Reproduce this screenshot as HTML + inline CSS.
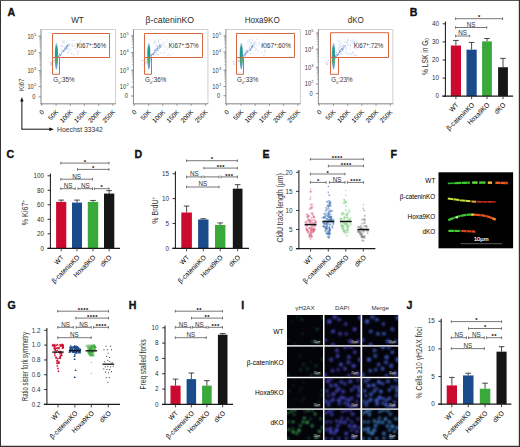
<!DOCTYPE html>
<html><head><meta charset="utf-8"><title>Figure</title>
<style>html,body{margin:0;padding:0;background:#fff;width:520px;height:447px;overflow:hidden}
svg{display:block;font-family:"Liberation Sans", sans-serif}</style></head>
<body>
<svg width="520" height="447" viewBox="0 0 520 447" font-family='"Liberation Sans", sans-serif'>
<defs><filter id="bl" x="-50%" y="-50%" width="200%" height="200%"><feGaussianBlur stdDeviation="0.6"/></filter><filter id="bl2" x="-50%" y="-50%" width="200%" height="200%"><feGaussianBlur stdDeviation="0.9"/></filter><filter id="bl3" x="-20%" y="-20%" width="140%" height="140%"><feGaussianBlur stdDeviation="0.35"/></filter><filter id="blf" x="-10%" y="-50%" width="120%" height="200%"><feGaussianBlur stdDeviation="0.6"/></filter><filter id="bli" x="-10%" y="-10%" width="120%" height="120%"><feGaussianBlur stdDeviation="0.8"/></filter></defs>
<rect x="0" y="0" width="520" height="447" fill="#fff"/>
<text x="7.6" y="15.6" font-size="10.6" font-weight="bold" fill="#111" stroke="#111" stroke-width="0.35">A</text>
<text x="77.5" y="23" font-size="8.2" text-anchor="middle" fill="#2a2a2a" textLength="12.5" lengthAdjust="spacingAndGlyphs">WT</text>
<line x1="41" y1="29.5" x2="115.5" y2="29.5" stroke="#c4c4c4" stroke-width="0.8"/>
<line x1="115.5" y1="29.5" x2="115.5" y2="103.8" stroke="#c4c4c4" stroke-width="0.8"/>
<line x1="41" y1="29.1" x2="41" y2="104.3" stroke="#8a8a8a" stroke-width="1"/>
<line x1="40.5" y1="103.8" x2="115.9" y2="103.8" stroke="#8a8a8a" stroke-width="1"/>
<line x1="39.4" y1="47.7" x2="41" y2="47.7" stroke="#8a8a8a" stroke-width="0.6"/>
<line x1="39.4" y1="44.78" x2="41" y2="44.78" stroke="#8a8a8a" stroke-width="0.6"/>
<line x1="39.4" y1="42.71" x2="41" y2="42.71" stroke="#8a8a8a" stroke-width="0.6"/>
<line x1="39.4" y1="41.1" x2="41" y2="41.1" stroke="#8a8a8a" stroke-width="0.6"/>
<line x1="39.4" y1="39.78" x2="41" y2="39.78" stroke="#8a8a8a" stroke-width="0.6"/>
<line x1="39.4" y1="38.67" x2="41" y2="38.67" stroke="#8a8a8a" stroke-width="0.6"/>
<line x1="39.4" y1="37.71" x2="41" y2="37.71" stroke="#8a8a8a" stroke-width="0.6"/>
<line x1="39.4" y1="36.86" x2="41" y2="36.86" stroke="#8a8a8a" stroke-width="0.6"/>
<line x1="39.4" y1="65.21" x2="41" y2="65.21" stroke="#8a8a8a" stroke-width="0.6"/>
<line x1="39.4" y1="62.06" x2="41" y2="62.06" stroke="#8a8a8a" stroke-width="0.6"/>
<line x1="39.4" y1="59.82" x2="41" y2="59.82" stroke="#8a8a8a" stroke-width="0.6"/>
<line x1="39.4" y1="58.09" x2="41" y2="58.09" stroke="#8a8a8a" stroke-width="0.6"/>
<line x1="39.4" y1="56.67" x2="41" y2="56.67" stroke="#8a8a8a" stroke-width="0.6"/>
<line x1="39.4" y1="55.47" x2="41" y2="55.47" stroke="#8a8a8a" stroke-width="0.6"/>
<line x1="39.4" y1="54.43" x2="41" y2="54.43" stroke="#8a8a8a" stroke-width="0.6"/>
<line x1="39.4" y1="53.52" x2="41" y2="53.52" stroke="#8a8a8a" stroke-width="0.6"/>
<line x1="39.4" y1="81.85" x2="41" y2="81.85" stroke="#8a8a8a" stroke-width="0.6"/>
<line x1="39.4" y1="79.02" x2="41" y2="79.02" stroke="#8a8a8a" stroke-width="0.6"/>
<line x1="39.4" y1="77.01" x2="41" y2="77.01" stroke="#8a8a8a" stroke-width="0.6"/>
<line x1="39.4" y1="75.45" x2="41" y2="75.45" stroke="#8a8a8a" stroke-width="0.6"/>
<line x1="39.4" y1="74.17" x2="41" y2="74.17" stroke="#8a8a8a" stroke-width="0.6"/>
<line x1="39.4" y1="73.09" x2="41" y2="73.09" stroke="#8a8a8a" stroke-width="0.6"/>
<line x1="39.4" y1="72.16" x2="41" y2="72.16" stroke="#8a8a8a" stroke-width="0.6"/>
<line x1="39.4" y1="71.34" x2="41" y2="71.34" stroke="#8a8a8a" stroke-width="0.6"/>
<line x1="38.6" y1="36.1" x2="41" y2="36.1" stroke="#777" stroke-width="0.8"/>
<text x="33.7" y="38.5" font-size="6.6" text-anchor="end" fill="#333" textLength="6.3" lengthAdjust="spacingAndGlyphs">10</text>
<text x="34" y="35.5" font-size="3.9" fill="#333">5</text>
<line x1="38.6" y1="52.7" x2="41" y2="52.7" stroke="#777" stroke-width="0.8"/>
<text x="33.7" y="55.1" font-size="6.6" text-anchor="end" fill="#333" textLength="6.3" lengthAdjust="spacingAndGlyphs">10</text>
<text x="34" y="52.1" font-size="3.9" fill="#333">4</text>
<line x1="38.6" y1="70.6" x2="41" y2="70.6" stroke="#777" stroke-width="0.8"/>
<text x="33.7" y="73" font-size="6.6" text-anchor="end" fill="#333" textLength="6.3" lengthAdjust="spacingAndGlyphs">10</text>
<text x="34" y="70" font-size="3.9" fill="#333">3</text>
<line x1="38.6" y1="86.7" x2="41" y2="86.7" stroke="#777" stroke-width="0.8"/>
<text x="33.7" y="89.1" font-size="6.6" text-anchor="end" fill="#333" textLength="6.3" lengthAdjust="spacingAndGlyphs">10</text>
<text x="34" y="86.1" font-size="3.9" fill="#333">2</text>
<line x1="38.6" y1="96.9" x2="41" y2="96.9" stroke="#777" stroke-width="0.8"/>
<text x="35.4" y="99.3" font-size="6.6" text-anchor="end" fill="#333" textLength="3.2" lengthAdjust="spacingAndGlyphs">0</text>
<line x1="41.9" y1="103.8" x2="41.9" y2="105.8" stroke="#777" stroke-width="0.8"/>
<line x1="44.74" y1="103.8" x2="44.74" y2="104.8" stroke="#aaa" stroke-width="0.5"/>
<line x1="47.58" y1="103.8" x2="47.58" y2="104.8" stroke="#aaa" stroke-width="0.5"/>
<line x1="50.42" y1="103.8" x2="50.42" y2="104.8" stroke="#aaa" stroke-width="0.5"/>
<line x1="53.26" y1="103.8" x2="53.26" y2="104.8" stroke="#aaa" stroke-width="0.5"/>
<text x="44.6" y="112.6" font-size="6.4" text-anchor="end" transform="rotate(-45 44.6 112.6)">0</text>
<line x1="56.1" y1="103.8" x2="56.1" y2="105.8" stroke="#777" stroke-width="0.8"/>
<line x1="58.94" y1="103.8" x2="58.94" y2="104.8" stroke="#aaa" stroke-width="0.5"/>
<line x1="61.78" y1="103.8" x2="61.78" y2="104.8" stroke="#aaa" stroke-width="0.5"/>
<line x1="64.62" y1="103.8" x2="64.62" y2="104.8" stroke="#aaa" stroke-width="0.5"/>
<line x1="67.46" y1="103.8" x2="67.46" y2="104.8" stroke="#aaa" stroke-width="0.5"/>
<text x="58.8" y="112.6" font-size="6.4" text-anchor="end" transform="rotate(-45 58.8 112.6)">50K</text>
<line x1="70.3" y1="103.8" x2="70.3" y2="105.8" stroke="#777" stroke-width="0.8"/>
<line x1="73.14" y1="103.8" x2="73.14" y2="104.8" stroke="#aaa" stroke-width="0.5"/>
<line x1="75.98" y1="103.8" x2="75.98" y2="104.8" stroke="#aaa" stroke-width="0.5"/>
<line x1="78.82" y1="103.8" x2="78.82" y2="104.8" stroke="#aaa" stroke-width="0.5"/>
<line x1="81.66" y1="103.8" x2="81.66" y2="104.8" stroke="#aaa" stroke-width="0.5"/>
<text x="73" y="112.6" font-size="6.4" text-anchor="end" transform="rotate(-45 73 112.6)">100K</text>
<line x1="84.5" y1="103.8" x2="84.5" y2="105.8" stroke="#777" stroke-width="0.8"/>
<line x1="87.34" y1="103.8" x2="87.34" y2="104.8" stroke="#aaa" stroke-width="0.5"/>
<line x1="90.18" y1="103.8" x2="90.18" y2="104.8" stroke="#aaa" stroke-width="0.5"/>
<line x1="93.02" y1="103.8" x2="93.02" y2="104.8" stroke="#aaa" stroke-width="0.5"/>
<line x1="95.86" y1="103.8" x2="95.86" y2="104.8" stroke="#aaa" stroke-width="0.5"/>
<text x="87.2" y="112.6" font-size="6.4" text-anchor="end" transform="rotate(-45 87.2 112.6)">150K</text>
<line x1="98.7" y1="103.8" x2="98.7" y2="105.8" stroke="#777" stroke-width="0.8"/>
<line x1="101.54" y1="103.8" x2="101.54" y2="104.8" stroke="#aaa" stroke-width="0.5"/>
<line x1="104.38" y1="103.8" x2="104.38" y2="104.8" stroke="#aaa" stroke-width="0.5"/>
<line x1="107.22" y1="103.8" x2="107.22" y2="104.8" stroke="#aaa" stroke-width="0.5"/>
<line x1="110.06" y1="103.8" x2="110.06" y2="104.8" stroke="#aaa" stroke-width="0.5"/>
<text x="101.4" y="112.6" font-size="6.4" text-anchor="end" transform="rotate(-45 101.4 112.6)">200K</text>
<line x1="112.9" y1="103.8" x2="112.9" y2="105.8" stroke="#777" stroke-width="0.8"/>
<text x="115.6" y="112.6" font-size="6.4" text-anchor="end" transform="rotate(-45 115.6 112.6)">250K</text>
<rect x="66.88" y="40.94" width="0.9" height="0.9" fill="#a9bfe6" opacity="0.6"/><rect x="73.42" y="40.01" width="0.9" height="0.9" fill="#a9bfe6" opacity="0.6"/><rect x="71.12" y="44.59" width="0.9" height="0.9" fill="#a9bfe6" opacity="0.6"/><rect x="61.56" y="46.38" width="0.9" height="0.9" fill="#a9bfe6" opacity="0.6"/><rect x="61.15" y="45.18" width="0.9" height="0.9" fill="#a9bfe6" opacity="0.6"/><rect x="61.8" y="39.72" width="0.9" height="0.9" fill="#a9bfe6" opacity="0.6"/><rect x="68.89" y="51.85" width="0.9" height="0.9" fill="#a9bfe6" opacity="0.6"/><rect x="62.88" y="41.9" width="0.9" height="0.9" fill="#a9bfe6" opacity="0.6"/><rect x="72.95" y="53.99" width="0.9" height="0.9" fill="#a9bfe6" opacity="0.6"/><rect x="71.94" y="45.12" width="0.9" height="0.9" fill="#a9bfe6" opacity="0.6"/><rect x="79.93" y="39.92" width="0.9" height="0.9" fill="#a9bfe6" opacity="0.6"/><rect x="77.57" y="43.69" width="0.9" height="0.9" fill="#a9bfe6" opacity="0.6"/><rect x="63.29" y="40.23" width="0.9" height="0.9" fill="#a9bfe6" opacity="0.6"/><rect x="66.57" y="51.57" width="0.9" height="0.9" fill="#a9bfe6" opacity="0.6"/><rect x="64.01" y="47.69" width="0.9" height="0.9" fill="#a9bfe6" opacity="0.6"/><rect x="73.18" y="44.8" width="0.9" height="0.9" fill="#a9bfe6" opacity="0.6"/><rect x="71.35" y="39.75" width="0.9" height="0.9" fill="#a9bfe6" opacity="0.6"/><rect x="61.59" y="41.55" width="0.9" height="0.9" fill="#a9bfe6" opacity="0.6"/><rect x="74.01" y="45.72" width="0.9" height="0.9" fill="#a9bfe6" opacity="0.6"/><rect x="66.68" y="47.88" width="0.9" height="0.9" fill="#a9bfe6" opacity="0.6"/><rect x="69.46" y="43.45" width="0.9" height="0.9" fill="#a9bfe6" opacity="0.6"/><rect x="76.29" y="50.18" width="0.9" height="0.9" fill="#a9bfe6" opacity="0.6"/><rect x="65.28" y="47.63" width="0.9" height="0.9" fill="#a9bfe6" opacity="0.6"/><rect x="70.9" y="52.73" width="0.9" height="0.9" fill="#a9bfe6" opacity="0.6"/><rect x="74.99" y="43.54" width="0.9" height="0.9" fill="#a9bfe6" opacity="0.6"/><rect x="80" y="41.07" width="0.9" height="0.9" fill="#a9bfe6" opacity="0.6"/><rect x="68.76" y="50.73" width="0.9" height="0.9" fill="#a9bfe6" opacity="0.6"/><rect x="63.44" y="46.18" width="0.9" height="0.9" fill="#a9bfe6" opacity="0.6"/><rect x="61.18" y="48.93" width="0.9" height="0.9" fill="#a9bfe6" opacity="0.6"/><rect x="75.69" y="48.13" width="0.9" height="0.9" fill="#a9bfe6" opacity="0.6"/><rect x="77.91" y="44.1" width="0.9" height="0.9" fill="#a9bfe6" opacity="0.6"/><rect x="74.31" y="48.41" width="0.9" height="0.9" fill="#a9bfe6" opacity="0.6"/><rect x="72" y="46.08" width="0.9" height="0.9" fill="#a9bfe6" opacity="0.6"/><rect x="77.2" y="54.15" width="0.9" height="0.9" fill="#a9bfe6" opacity="0.6"/><rect x="69.88" y="49.3" width="0.9" height="0.9" fill="#a9bfe6" opacity="0.6"/><rect x="61.61" y="49.48" width="0.9" height="0.9" fill="#a9bfe6" opacity="0.6"/><rect x="73.34" y="54.74" width="0.9" height="0.9" fill="#a9bfe6" opacity="0.6"/><rect x="76.84" y="43.58" width="0.9" height="0.9" fill="#a9bfe6" opacity="0.6"/><rect x="68.12" y="49.28" width="0.9" height="0.9" fill="#a9bfe6" opacity="0.6"/><rect x="60.85" y="45.61" width="0.9" height="0.9" fill="#a9bfe6" opacity="0.6"/><rect x="63.76" y="40.24" width="0.9" height="0.9" fill="#a9bfe6" opacity="0.6"/><rect x="61.58" y="50.55" width="0.9" height="0.9" fill="#a9bfe6" opacity="0.6"/><rect x="62.99" y="42.29" width="0.9" height="0.9" fill="#a9bfe6" opacity="0.6"/><rect x="68.22" y="52.53" width="0.9" height="0.9" fill="#a9bfe6" opacity="0.6"/><rect x="62.01" y="45.47" width="0.9" height="0.9" fill="#a9bfe6" opacity="0.6"/><rect x="71.39" y="52.88" width="0.9" height="0.9" fill="#a9bfe6" opacity="0.6"/><rect x="76.79" y="52.84" width="0.9" height="0.9" fill="#a9bfe6" opacity="0.6"/><rect x="65.97" y="45.12" width="0.9" height="0.9" fill="#a9bfe6" opacity="0.6"/><rect x="67.58" y="52.71" width="0.9" height="0.9" fill="#a9bfe6" opacity="0.6"/><rect x="79.55" y="41.57" width="0.9" height="0.9" fill="#a9bfe6" opacity="0.6"/><rect x="63.92" y="42.09" width="0.9" height="0.9" fill="#a9bfe6" opacity="0.6"/><rect x="65.07" y="46.19" width="0.9" height="0.9" fill="#a9bfe6" opacity="0.6"/><rect x="72.18" y="42.99" width="0.9" height="0.9" fill="#a9bfe6" opacity="0.6"/><rect x="60.48" y="44.91" width="0.9" height="0.9" fill="#a9bfe6" opacity="0.6"/><rect x="67.79" y="47.63" width="0.9" height="0.9" fill="#a9bfe6" opacity="0.6"/><rect x="79.46" y="50.2" width="0.9" height="0.9" fill="#a9bfe6" opacity="0.6"/><rect x="70.71" y="48.6" width="0.9" height="0.9" fill="#a9bfe6" opacity="0.6"/><rect x="73.92" y="39.74" width="0.9" height="0.9" fill="#a9bfe6" opacity="0.6"/><rect x="78.39" y="51.58" width="0.9" height="0.9" fill="#a9bfe6" opacity="0.6"/><rect x="77.89" y="51.84" width="0.9" height="0.9" fill="#a9bfe6" opacity="0.6"/><rect x="60.99" y="52.51" width="0.9" height="0.9" fill="#6d8fd2" opacity="0.7"/><rect x="64.08" y="49.5" width="0.9" height="0.9" fill="#6d8fd2" opacity="0.7"/><rect x="59.48" y="55.12" width="0.9" height="0.9" fill="#6d8fd2" opacity="0.7"/><rect x="57.82" y="56.37" width="0.9" height="0.9" fill="#6d8fd2" opacity="0.7"/><rect x="57.93" y="55.92" width="0.9" height="0.9" fill="#6d8fd2" opacity="0.7"/><rect x="66.26" y="46.21" width="0.9" height="0.9" fill="#6d8fd2" opacity="0.7"/><rect x="59.35" y="54.6" width="0.9" height="0.9" fill="#6d8fd2" opacity="0.7"/><rect x="59.35" y="53.47" width="0.9" height="0.9" fill="#6d8fd2" opacity="0.7"/><rect x="61.77" y="51.44" width="0.9" height="0.9" fill="#6d8fd2" opacity="0.7"/><rect x="57.77" y="56.3" width="0.9" height="0.9" fill="#6d8fd2" opacity="0.7"/><rect x="66.09" y="47.2" width="0.9" height="0.9" fill="#6d8fd2" opacity="0.7"/><rect x="67.03" y="45.51" width="0.9" height="0.9" fill="#6d8fd2" opacity="0.7"/><rect x="63.6" y="50.65" width="0.9" height="0.9" fill="#6d8fd2" opacity="0.7"/><rect x="68.27" y="44.32" width="0.9" height="0.9" fill="#6d8fd2" opacity="0.7"/><rect x="59.53" y="54.23" width="0.9" height="0.9" fill="#6d8fd2" opacity="0.7"/><rect x="64.37" y="47.45" width="0.9" height="0.9" fill="#6d8fd2" opacity="0.7"/><rect x="60.71" y="54.48" width="0.9" height="0.9" fill="#6d8fd2" opacity="0.7"/><rect x="68.39" y="44.02" width="0.9" height="0.9" fill="#6d8fd2" opacity="0.7"/><rect x="65.87" y="46.61" width="0.9" height="0.9" fill="#6d8fd2" opacity="0.7"/><rect x="62.5" y="50.94" width="0.9" height="0.9" fill="#6d8fd2" opacity="0.7"/><rect x="57.12" y="57.27" width="0.9" height="0.9" fill="#6d8fd2" opacity="0.7"/><rect x="65.15" y="48.45" width="0.9" height="0.9" fill="#6d8fd2" opacity="0.7"/><rect x="68.7" y="45.61" width="0.9" height="0.9" fill="#6d8fd2" opacity="0.7"/><rect x="60.99" y="53.19" width="0.9" height="0.9" fill="#6d8fd2" opacity="0.7"/><rect x="59.3" y="55.71" width="0.9" height="0.9" fill="#6d8fd2" opacity="0.7"/><rect x="67.17" y="45.43" width="0.9" height="0.9" fill="#6d8fd2" opacity="0.7"/><rect x="64.16" y="48.84" width="0.9" height="0.9" fill="#6d8fd2" opacity="0.7"/><rect x="65.05" y="48.32" width="0.9" height="0.9" fill="#6d8fd2" opacity="0.7"/><rect x="64.78" y="48.07" width="0.9" height="0.9" fill="#6d8fd2" opacity="0.7"/><rect x="65.05" y="48.78" width="0.9" height="0.9" fill="#6d8fd2" opacity="0.7"/><rect x="67.11" y="45.83" width="0.9" height="0.9" fill="#6d8fd2" opacity="0.7"/><rect x="67.26" y="45.16" width="0.9" height="0.9" fill="#6d8fd2" opacity="0.7"/><rect x="59.05" y="56.89" width="0.9" height="0.9" fill="#6d8fd2" opacity="0.7"/><rect x="66.45" y="48.51" width="0.9" height="0.9" fill="#6d8fd2" opacity="0.7"/><rect x="67.38" y="44.62" width="0.9" height="0.9" fill="#6d8fd2" opacity="0.7"/><rect x="63" y="50.52" width="0.9" height="0.9" fill="#6d8fd2" opacity="0.7"/><rect x="67.15" y="44.56" width="0.9" height="0.9" fill="#6d8fd2" opacity="0.7"/><rect x="66.06" y="46.45" width="0.9" height="0.9" fill="#6d8fd2" opacity="0.7"/><rect x="66.1" y="47.68" width="0.9" height="0.9" fill="#6d8fd2" opacity="0.7"/><rect x="60.17" y="54.55" width="0.9" height="0.9" fill="#6d8fd2" opacity="0.7"/><rect x="59.48" y="54.09" width="0.9" height="0.9" fill="#6d8fd2" opacity="0.7"/><rect x="66.51" y="46.78" width="0.9" height="0.9" fill="#6d8fd2" opacity="0.7"/><rect x="63.83" y="49.53" width="0.9" height="0.9" fill="#6d8fd2" opacity="0.7"/><rect x="66.26" y="45.98" width="0.9" height="0.9" fill="#6d8fd2" opacity="0.7"/><rect x="63.3" y="50.82" width="0.9" height="0.9" fill="#6d8fd2" opacity="0.7"/><rect x="59.99" y="54.84" width="0.9" height="0.9" fill="#6d8fd2" opacity="0.7"/><rect x="57.84" y="55.15" width="0.9" height="0.9" fill="#6d8fd2" opacity="0.7"/><rect x="62.69" y="51.18" width="0.9" height="0.9" fill="#6d8fd2" opacity="0.7"/><rect x="63.07" y="49.96" width="0.9" height="0.9" fill="#6d8fd2" opacity="0.7"/><rect x="63.07" y="50.92" width="0.9" height="0.9" fill="#6d8fd2" opacity="0.7"/><rect x="52.41" y="61.42" width="0.9" height="0.9" fill="#8fb0e0" opacity="0.8"/><rect x="50.93" y="63.38" width="0.9" height="0.9" fill="#8fb0e0" opacity="0.8"/><rect x="53.39" y="60.74" width="0.9" height="0.9" fill="#8fb0e0" opacity="0.8"/><rect x="51.29" y="61.75" width="0.9" height="0.9" fill="#8fb0e0" opacity="0.8"/><rect x="50.59" y="63.08" width="0.9" height="0.9" fill="#8fb0e0" opacity="0.8"/><rect x="50.17" y="62.25" width="0.9" height="0.9" fill="#8fb0e0" opacity="0.8"/><rect x="50.35" y="64.65" width="0.9" height="0.9" fill="#8fb0e0" opacity="0.8"/><rect x="51.89" y="63.79" width="0.9" height="0.9" fill="#8fb0e0" opacity="0.8"/><rect x="53.6" y="59.58" width="0.9" height="0.9" fill="#8fb0e0" opacity="0.8"/><rect x="50.92" y="64.48" width="0.9" height="0.9" fill="#8fb0e0" opacity="0.8"/>
<ellipse cx="56.4" cy="55.5" rx="1.7" ry="12.5" fill="#3a8fb0" opacity="0.6" filter="url(#bl3)"/>
<ellipse cx="56.4" cy="56.5" rx="1.3" ry="11" fill="#2a8f9a" opacity="0.85" filter="url(#bl3)"/>
<ellipse cx="56.4" cy="52" rx="1.1" ry="6" fill="#1c9f86" opacity="0.9"/>
<ellipse cx="56.4" cy="60.5" rx="1.1" ry="4" fill="#4caf50" opacity="0.85"/>
<ellipse cx="56.4" cy="66" rx="0.9" ry="3.5" fill="#5e9fd6" opacity="0.8"/>
<path d="M52.5 33.5H109.5V57.5H52.5Z" fill="none" stroke="#d5603a" stroke-width="0.95"/>
<path d="M52.5 57.5V74.3H59.5V57.5" fill="none" stroke="#d5603a" stroke-width="0.95"/>
<text x="76.4" y="48" font-size="6.3" fill="#333">Ki67<tspan font-size="4.6" dy="-2.3">+</tspan><tspan dy="2.3">:56%</tspan></text>
<text x="53.3" y="82.2" font-size="6.3" fill="#333">G<tspan font-size="3.8" dy="1.3">0</tspan><tspan dy="-1.3">:35%</tspan></text>
<text x="169.8" y="23" font-size="8.2" text-anchor="middle" fill="#2a2a2a" textLength="48.5" lengthAdjust="spacingAndGlyphs">β-cateninKO</text>
<line x1="133.45" y1="29.5" x2="207.95" y2="29.5" stroke="#c4c4c4" stroke-width="0.8"/>
<line x1="207.95" y1="29.5" x2="207.95" y2="103.8" stroke="#c4c4c4" stroke-width="0.8"/>
<line x1="133.45" y1="29.1" x2="133.45" y2="104.3" stroke="#8a8a8a" stroke-width="1"/>
<line x1="132.95" y1="103.8" x2="208.35" y2="103.8" stroke="#8a8a8a" stroke-width="1"/>
<line x1="131.85" y1="47.54" x2="133.45" y2="47.54" stroke="#8a8a8a" stroke-width="0.6"/>
<line x1="131.85" y1="44.58" x2="133.45" y2="44.58" stroke="#8a8a8a" stroke-width="0.6"/>
<line x1="131.85" y1="42.49" x2="133.45" y2="42.49" stroke="#8a8a8a" stroke-width="0.6"/>
<line x1="131.85" y1="40.86" x2="133.45" y2="40.86" stroke="#8a8a8a" stroke-width="0.6"/>
<line x1="131.85" y1="39.53" x2="133.45" y2="39.53" stroke="#8a8a8a" stroke-width="0.6"/>
<line x1="131.85" y1="38.4" x2="133.45" y2="38.4" stroke="#8a8a8a" stroke-width="0.6"/>
<line x1="131.85" y1="37.43" x2="133.45" y2="37.43" stroke="#8a8a8a" stroke-width="0.6"/>
<line x1="131.85" y1="36.57" x2="133.45" y2="36.57" stroke="#8a8a8a" stroke-width="0.6"/>
<line x1="131.85" y1="64.9" x2="133.45" y2="64.9" stroke="#8a8a8a" stroke-width="0.6"/>
<line x1="131.85" y1="61.8" x2="133.45" y2="61.8" stroke="#8a8a8a" stroke-width="0.6"/>
<line x1="131.85" y1="59.6" x2="133.45" y2="59.6" stroke="#8a8a8a" stroke-width="0.6"/>
<line x1="131.85" y1="57.9" x2="133.45" y2="57.9" stroke="#8a8a8a" stroke-width="0.6"/>
<line x1="131.85" y1="56.5" x2="133.45" y2="56.5" stroke="#8a8a8a" stroke-width="0.6"/>
<line x1="131.85" y1="55.33" x2="133.45" y2="55.33" stroke="#8a8a8a" stroke-width="0.6"/>
<line x1="131.85" y1="54.31" x2="133.45" y2="54.31" stroke="#8a8a8a" stroke-width="0.6"/>
<line x1="131.85" y1="53.41" x2="133.45" y2="53.41" stroke="#8a8a8a" stroke-width="0.6"/>
<line x1="131.85" y1="81.94" x2="133.45" y2="81.94" stroke="#8a8a8a" stroke-width="0.6"/>
<line x1="131.85" y1="78.98" x2="133.45" y2="78.98" stroke="#8a8a8a" stroke-width="0.6"/>
<line x1="131.85" y1="76.89" x2="133.45" y2="76.89" stroke="#8a8a8a" stroke-width="0.6"/>
<line x1="131.85" y1="75.26" x2="133.45" y2="75.26" stroke="#8a8a8a" stroke-width="0.6"/>
<line x1="131.85" y1="73.93" x2="133.45" y2="73.93" stroke="#8a8a8a" stroke-width="0.6"/>
<line x1="131.85" y1="72.8" x2="133.45" y2="72.8" stroke="#8a8a8a" stroke-width="0.6"/>
<line x1="131.85" y1="71.83" x2="133.45" y2="71.83" stroke="#8a8a8a" stroke-width="0.6"/>
<line x1="131.85" y1="70.97" x2="133.45" y2="70.97" stroke="#8a8a8a" stroke-width="0.6"/>
<line x1="131.05" y1="35.8" x2="133.45" y2="35.8" stroke="#777" stroke-width="0.8"/>
<text x="126.15" y="38.2" font-size="6.6" text-anchor="end" fill="#333" textLength="6.3" lengthAdjust="spacingAndGlyphs">10</text>
<text x="126.45" y="35.2" font-size="3.9" fill="#333">5</text>
<line x1="131.05" y1="52.6" x2="133.45" y2="52.6" stroke="#777" stroke-width="0.8"/>
<text x="126.15" y="55" font-size="6.6" text-anchor="end" fill="#333" textLength="6.3" lengthAdjust="spacingAndGlyphs">10</text>
<text x="126.45" y="52" font-size="3.9" fill="#333">4</text>
<line x1="131.05" y1="70.2" x2="133.45" y2="70.2" stroke="#777" stroke-width="0.8"/>
<text x="126.15" y="72.6" font-size="6.6" text-anchor="end" fill="#333" textLength="6.3" lengthAdjust="spacingAndGlyphs">10</text>
<text x="126.45" y="69.6" font-size="3.9" fill="#333">3</text>
<line x1="131.05" y1="87" x2="133.45" y2="87" stroke="#777" stroke-width="0.8"/>
<text x="126.15" y="89.4" font-size="6.6" text-anchor="end" fill="#333" textLength="6.3" lengthAdjust="spacingAndGlyphs">10</text>
<text x="126.45" y="86.4" font-size="3.9" fill="#333">2</text>
<line x1="131.05" y1="96" x2="133.45" y2="96" stroke="#777" stroke-width="0.8"/>
<text x="127.85" y="98.4" font-size="6.6" text-anchor="end" fill="#333" textLength="3.2" lengthAdjust="spacingAndGlyphs">0</text>
<line x1="134.35" y1="103.8" x2="134.35" y2="105.8" stroke="#777" stroke-width="0.8"/>
<line x1="137.19" y1="103.8" x2="137.19" y2="104.8" stroke="#aaa" stroke-width="0.5"/>
<line x1="140.03" y1="103.8" x2="140.03" y2="104.8" stroke="#aaa" stroke-width="0.5"/>
<line x1="142.87" y1="103.8" x2="142.87" y2="104.8" stroke="#aaa" stroke-width="0.5"/>
<line x1="145.71" y1="103.8" x2="145.71" y2="104.8" stroke="#aaa" stroke-width="0.5"/>
<text x="137.05" y="112.6" font-size="6.4" text-anchor="end" transform="rotate(-45 137.05 112.6)">0</text>
<line x1="148.55" y1="103.8" x2="148.55" y2="105.8" stroke="#777" stroke-width="0.8"/>
<line x1="151.39" y1="103.8" x2="151.39" y2="104.8" stroke="#aaa" stroke-width="0.5"/>
<line x1="154.23" y1="103.8" x2="154.23" y2="104.8" stroke="#aaa" stroke-width="0.5"/>
<line x1="157.07" y1="103.8" x2="157.07" y2="104.8" stroke="#aaa" stroke-width="0.5"/>
<line x1="159.91" y1="103.8" x2="159.91" y2="104.8" stroke="#aaa" stroke-width="0.5"/>
<text x="151.25" y="112.6" font-size="6.4" text-anchor="end" transform="rotate(-45 151.25 112.6)">50K</text>
<line x1="162.75" y1="103.8" x2="162.75" y2="105.8" stroke="#777" stroke-width="0.8"/>
<line x1="165.59" y1="103.8" x2="165.59" y2="104.8" stroke="#aaa" stroke-width="0.5"/>
<line x1="168.43" y1="103.8" x2="168.43" y2="104.8" stroke="#aaa" stroke-width="0.5"/>
<line x1="171.27" y1="103.8" x2="171.27" y2="104.8" stroke="#aaa" stroke-width="0.5"/>
<line x1="174.11" y1="103.8" x2="174.11" y2="104.8" stroke="#aaa" stroke-width="0.5"/>
<text x="165.45" y="112.6" font-size="6.4" text-anchor="end" transform="rotate(-45 165.45 112.6)">100K</text>
<line x1="176.95" y1="103.8" x2="176.95" y2="105.8" stroke="#777" stroke-width="0.8"/>
<line x1="179.79" y1="103.8" x2="179.79" y2="104.8" stroke="#aaa" stroke-width="0.5"/>
<line x1="182.63" y1="103.8" x2="182.63" y2="104.8" stroke="#aaa" stroke-width="0.5"/>
<line x1="185.47" y1="103.8" x2="185.47" y2="104.8" stroke="#aaa" stroke-width="0.5"/>
<line x1="188.31" y1="103.8" x2="188.31" y2="104.8" stroke="#aaa" stroke-width="0.5"/>
<text x="179.65" y="112.6" font-size="6.4" text-anchor="end" transform="rotate(-45 179.65 112.6)">150K</text>
<line x1="191.15" y1="103.8" x2="191.15" y2="105.8" stroke="#777" stroke-width="0.8"/>
<line x1="193.99" y1="103.8" x2="193.99" y2="104.8" stroke="#aaa" stroke-width="0.5"/>
<line x1="196.83" y1="103.8" x2="196.83" y2="104.8" stroke="#aaa" stroke-width="0.5"/>
<line x1="199.67" y1="103.8" x2="199.67" y2="104.8" stroke="#aaa" stroke-width="0.5"/>
<line x1="202.51" y1="103.8" x2="202.51" y2="104.8" stroke="#aaa" stroke-width="0.5"/>
<text x="193.85" y="112.6" font-size="6.4" text-anchor="end" transform="rotate(-45 193.85 112.6)">200K</text>
<line x1="205.35" y1="103.8" x2="205.35" y2="105.8" stroke="#777" stroke-width="0.8"/>
<text x="208.05" y="112.6" font-size="6.4" text-anchor="end" transform="rotate(-45 208.05 112.6)">250K</text>
<rect x="169.65" y="41.23" width="0.9" height="0.9" fill="#a9bfe6" opacity="0.6"/><rect x="155.28" y="45.4" width="0.9" height="0.9" fill="#a9bfe6" opacity="0.6"/><rect x="154.3" y="42.12" width="0.9" height="0.9" fill="#a9bfe6" opacity="0.6"/><rect x="154.31" y="48.98" width="0.9" height="0.9" fill="#a9bfe6" opacity="0.6"/><rect x="168.53" y="53.34" width="0.9" height="0.9" fill="#a9bfe6" opacity="0.6"/><rect x="155.94" y="49.81" width="0.9" height="0.9" fill="#a9bfe6" opacity="0.6"/><rect x="166.06" y="41.15" width="0.9" height="0.9" fill="#a9bfe6" opacity="0.6"/><rect x="170.51" y="54.56" width="0.9" height="0.9" fill="#a9bfe6" opacity="0.6"/><rect x="157.24" y="53.66" width="0.9" height="0.9" fill="#a9bfe6" opacity="0.6"/><rect x="160.82" y="46.39" width="0.9" height="0.9" fill="#a9bfe6" opacity="0.6"/><rect x="172.65" y="52.51" width="0.9" height="0.9" fill="#a9bfe6" opacity="0.6"/><rect x="156.08" y="45.27" width="0.9" height="0.9" fill="#a9bfe6" opacity="0.6"/><rect x="163.16" y="44.14" width="0.9" height="0.9" fill="#a9bfe6" opacity="0.6"/><rect x="156.76" y="43.49" width="0.9" height="0.9" fill="#a9bfe6" opacity="0.6"/><rect x="167.29" y="39.23" width="0.9" height="0.9" fill="#a9bfe6" opacity="0.6"/><rect x="163.93" y="45.8" width="0.9" height="0.9" fill="#a9bfe6" opacity="0.6"/><rect x="153.21" y="43.52" width="0.9" height="0.9" fill="#a9bfe6" opacity="0.6"/><rect x="165.33" y="47.02" width="0.9" height="0.9" fill="#a9bfe6" opacity="0.6"/><rect x="154.14" y="54.03" width="0.9" height="0.9" fill="#a9bfe6" opacity="0.6"/><rect x="168.62" y="54.54" width="0.9" height="0.9" fill="#a9bfe6" opacity="0.6"/><rect x="154.95" y="42.55" width="0.9" height="0.9" fill="#a9bfe6" opacity="0.6"/><rect x="153.64" y="50.7" width="0.9" height="0.9" fill="#a9bfe6" opacity="0.6"/><rect x="158.26" y="40.54" width="0.9" height="0.9" fill="#a9bfe6" opacity="0.6"/><rect x="161.3" y="53.2" width="0.9" height="0.9" fill="#a9bfe6" opacity="0.6"/><rect x="169.23" y="43.16" width="0.9" height="0.9" fill="#a9bfe6" opacity="0.6"/><rect x="155.84" y="53.06" width="0.9" height="0.9" fill="#a9bfe6" opacity="0.6"/><rect x="164.26" y="49.98" width="0.9" height="0.9" fill="#a9bfe6" opacity="0.6"/><rect x="154.64" y="39.21" width="0.9" height="0.9" fill="#a9bfe6" opacity="0.6"/><rect x="166.61" y="45.69" width="0.9" height="0.9" fill="#a9bfe6" opacity="0.6"/><rect x="154.3" y="53.29" width="0.9" height="0.9" fill="#a9bfe6" opacity="0.6"/><rect x="165.54" y="51.66" width="0.9" height="0.9" fill="#a9bfe6" opacity="0.6"/><rect x="154.52" y="51.98" width="0.9" height="0.9" fill="#a9bfe6" opacity="0.6"/><rect x="154.18" y="52.07" width="0.9" height="0.9" fill="#a9bfe6" opacity="0.6"/><rect x="161.93" y="44.08" width="0.9" height="0.9" fill="#a9bfe6" opacity="0.6"/><rect x="163.91" y="53.58" width="0.9" height="0.9" fill="#a9bfe6" opacity="0.6"/><rect x="158.21" y="40.54" width="0.9" height="0.9" fill="#a9bfe6" opacity="0.6"/><rect x="163.39" y="42.54" width="0.9" height="0.9" fill="#a9bfe6" opacity="0.6"/><rect x="155.04" y="40.89" width="0.9" height="0.9" fill="#a9bfe6" opacity="0.6"/><rect x="153.86" y="41.48" width="0.9" height="0.9" fill="#a9bfe6" opacity="0.6"/><rect x="159.09" y="43.39" width="0.9" height="0.9" fill="#a9bfe6" opacity="0.6"/><rect x="168.04" y="43.6" width="0.9" height="0.9" fill="#a9bfe6" opacity="0.6"/><rect x="162.85" y="41.55" width="0.9" height="0.9" fill="#a9bfe6" opacity="0.6"/><rect x="159.79" y="38.84" width="0.9" height="0.9" fill="#a9bfe6" opacity="0.6"/><rect x="157.86" y="38.7" width="0.9" height="0.9" fill="#a9bfe6" opacity="0.6"/><rect x="167.51" y="47.75" width="0.9" height="0.9" fill="#a9bfe6" opacity="0.6"/><rect x="156.64" y="45.99" width="0.9" height="0.9" fill="#a9bfe6" opacity="0.6"/><rect x="171.54" y="40.84" width="0.9" height="0.9" fill="#a9bfe6" opacity="0.6"/><rect x="169.23" y="45.93" width="0.9" height="0.9" fill="#a9bfe6" opacity="0.6"/><rect x="162.75" y="52.05" width="0.9" height="0.9" fill="#a9bfe6" opacity="0.6"/><rect x="160.71" y="46.7" width="0.9" height="0.9" fill="#a9bfe6" opacity="0.6"/><rect x="166.6" y="54.61" width="0.9" height="0.9" fill="#a9bfe6" opacity="0.6"/><rect x="159.7" y="51.86" width="0.9" height="0.9" fill="#a9bfe6" opacity="0.6"/><rect x="166.98" y="49.08" width="0.9" height="0.9" fill="#a9bfe6" opacity="0.6"/><rect x="160.94" y="44.17" width="0.9" height="0.9" fill="#a9bfe6" opacity="0.6"/><rect x="153.94" y="40.33" width="0.9" height="0.9" fill="#a9bfe6" opacity="0.6"/><rect x="154.26" y="50.12" width="0.9" height="0.9" fill="#a9bfe6" opacity="0.6"/><rect x="157.96" y="41.07" width="0.9" height="0.9" fill="#a9bfe6" opacity="0.6"/><rect x="154.54" y="51.74" width="0.9" height="0.9" fill="#a9bfe6" opacity="0.6"/><rect x="170.26" y="49.8" width="0.9" height="0.9" fill="#a9bfe6" opacity="0.6"/><rect x="158.49" y="42.36" width="0.9" height="0.9" fill="#a9bfe6" opacity="0.6"/><rect x="158.71" y="45.84" width="0.9" height="0.9" fill="#a9bfe6" opacity="0.6"/><rect x="156" y="45.49" width="0.9" height="0.9" fill="#a9bfe6" opacity="0.6"/><rect x="158.11" y="53.85" width="0.9" height="0.9" fill="#a9bfe6" opacity="0.6"/><rect x="172.3" y="47.93" width="0.9" height="0.9" fill="#a9bfe6" opacity="0.6"/><rect x="157.74" y="53.9" width="0.9" height="0.9" fill="#a9bfe6" opacity="0.6"/><rect x="152.74" y="53.31" width="0.9" height="0.9" fill="#6d8fd2" opacity="0.7"/><rect x="152.85" y="52.57" width="0.9" height="0.9" fill="#6d8fd2" opacity="0.7"/><rect x="151.5" y="54.59" width="0.9" height="0.9" fill="#6d8fd2" opacity="0.7"/><rect x="152.77" y="54.26" width="0.9" height="0.9" fill="#6d8fd2" opacity="0.7"/><rect x="150.31" y="56.6" width="0.9" height="0.9" fill="#6d8fd2" opacity="0.7"/><rect x="151.28" y="53.7" width="0.9" height="0.9" fill="#6d8fd2" opacity="0.7"/><rect x="157.08" y="46.93" width="0.9" height="0.9" fill="#6d8fd2" opacity="0.7"/><rect x="158.61" y="46.91" width="0.9" height="0.9" fill="#6d8fd2" opacity="0.7"/><rect x="160.75" y="46.22" width="0.9" height="0.9" fill="#6d8fd2" opacity="0.7"/><rect x="157.52" y="49.69" width="0.9" height="0.9" fill="#6d8fd2" opacity="0.7"/><rect x="158.48" y="45.36" width="0.9" height="0.9" fill="#6d8fd2" opacity="0.7"/><rect x="158.75" y="48" width="0.9" height="0.9" fill="#6d8fd2" opacity="0.7"/><rect x="155.45" y="49.7" width="0.9" height="0.9" fill="#6d8fd2" opacity="0.7"/><rect x="157.35" y="46.23" width="0.9" height="0.9" fill="#6d8fd2" opacity="0.7"/><rect x="156.71" y="48.26" width="0.9" height="0.9" fill="#6d8fd2" opacity="0.7"/><rect x="150.07" y="57.19" width="0.9" height="0.9" fill="#6d8fd2" opacity="0.7"/><rect x="150.9" y="54.86" width="0.9" height="0.9" fill="#6d8fd2" opacity="0.7"/><rect x="155.62" y="48.61" width="0.9" height="0.9" fill="#6d8fd2" opacity="0.7"/><rect x="155.8" y="51.16" width="0.9" height="0.9" fill="#6d8fd2" opacity="0.7"/><rect x="156.84" y="48" width="0.9" height="0.9" fill="#6d8fd2" opacity="0.7"/><rect x="157.5" y="49.62" width="0.9" height="0.9" fill="#6d8fd2" opacity="0.7"/><rect x="152.54" y="54.26" width="0.9" height="0.9" fill="#6d8fd2" opacity="0.7"/><rect x="157.65" y="49.51" width="0.9" height="0.9" fill="#6d8fd2" opacity="0.7"/><rect x="159.49" y="45.32" width="0.9" height="0.9" fill="#6d8fd2" opacity="0.7"/><rect x="154.2" y="50" width="0.9" height="0.9" fill="#6d8fd2" opacity="0.7"/><rect x="155.99" y="49.35" width="0.9" height="0.9" fill="#6d8fd2" opacity="0.7"/><rect x="150.95" y="56.55" width="0.9" height="0.9" fill="#6d8fd2" opacity="0.7"/><rect x="152.61" y="53.29" width="0.9" height="0.9" fill="#6d8fd2" opacity="0.7"/><rect x="149.91" y="57.46" width="0.9" height="0.9" fill="#6d8fd2" opacity="0.7"/><rect x="156.74" y="48.1" width="0.9" height="0.9" fill="#6d8fd2" opacity="0.7"/><rect x="154.38" y="51" width="0.9" height="0.9" fill="#6d8fd2" opacity="0.7"/><rect x="150.97" y="55.25" width="0.9" height="0.9" fill="#6d8fd2" opacity="0.7"/><rect x="160.21" y="45.2" width="0.9" height="0.9" fill="#6d8fd2" opacity="0.7"/><rect x="155.07" y="49.59" width="0.9" height="0.9" fill="#6d8fd2" opacity="0.7"/><rect x="154.25" y="52.15" width="0.9" height="0.9" fill="#6d8fd2" opacity="0.7"/><rect x="159.94" y="46.68" width="0.9" height="0.9" fill="#6d8fd2" opacity="0.7"/><rect x="149.44" y="55" width="0.9" height="0.9" fill="#6d8fd2" opacity="0.7"/><rect x="151.11" y="54.55" width="0.9" height="0.9" fill="#6d8fd2" opacity="0.7"/><rect x="158.98" y="45.8" width="0.9" height="0.9" fill="#6d8fd2" opacity="0.7"/><rect x="159.09" y="46.24" width="0.9" height="0.9" fill="#6d8fd2" opacity="0.7"/><rect x="148.73" y="57" width="0.9" height="0.9" fill="#6d8fd2" opacity="0.7"/><rect x="153.02" y="53.94" width="0.9" height="0.9" fill="#6d8fd2" opacity="0.7"/><rect x="152.85" y="53.17" width="0.9" height="0.9" fill="#6d8fd2" opacity="0.7"/><rect x="157.77" y="47.65" width="0.9" height="0.9" fill="#6d8fd2" opacity="0.7"/><rect x="159.24" y="44.21" width="0.9" height="0.9" fill="#6d8fd2" opacity="0.7"/><rect x="152.12" y="54.1" width="0.9" height="0.9" fill="#6d8fd2" opacity="0.7"/><rect x="159.86" y="44.61" width="0.9" height="0.9" fill="#6d8fd2" opacity="0.7"/><rect x="154.03" y="52.11" width="0.9" height="0.9" fill="#6d8fd2" opacity="0.7"/><rect x="150.72" y="55.21" width="0.9" height="0.9" fill="#6d8fd2" opacity="0.7"/><rect x="159.64" y="46.4" width="0.9" height="0.9" fill="#6d8fd2" opacity="0.7"/><rect x="143.03" y="60.07" width="0.9" height="0.9" fill="#8fb0e0" opacity="0.8"/><rect x="142.06" y="64.95" width="0.9" height="0.9" fill="#8fb0e0" opacity="0.8"/><rect x="145.64" y="63.01" width="0.9" height="0.9" fill="#8fb0e0" opacity="0.8"/><rect x="143.87" y="64.16" width="0.9" height="0.9" fill="#8fb0e0" opacity="0.8"/><rect x="146.03" y="61.32" width="0.9" height="0.9" fill="#8fb0e0" opacity="0.8"/><rect x="144.49" y="58.79" width="0.9" height="0.9" fill="#8fb0e0" opacity="0.8"/><rect x="144.58" y="61.17" width="0.9" height="0.9" fill="#8fb0e0" opacity="0.8"/><rect x="144.72" y="62.29" width="0.9" height="0.9" fill="#8fb0e0" opacity="0.8"/><rect x="141.45" y="59.69" width="0.9" height="0.9" fill="#8fb0e0" opacity="0.8"/><rect x="145.94" y="58.82" width="0.9" height="0.9" fill="#8fb0e0" opacity="0.8"/>
<ellipse cx="148.85" cy="55.5" rx="1.7" ry="12.5" fill="#3a8fb0" opacity="0.6" filter="url(#bl3)"/>
<ellipse cx="148.85" cy="56.5" rx="1.3" ry="11" fill="#2a8f9a" opacity="0.85" filter="url(#bl3)"/>
<ellipse cx="148.85" cy="52" rx="1.1" ry="6" fill="#1c9f86" opacity="0.9"/>
<ellipse cx="148.85" cy="60.5" rx="1.1" ry="4" fill="#4caf50" opacity="0.85"/>
<ellipse cx="148.85" cy="66" rx="0.9" ry="3.5" fill="#5e9fd6" opacity="0.8"/>
<path d="M144.5 33.5H202.5V57.5H144.5Z" fill="none" stroke="#d5603a" stroke-width="0.95"/>
<path d="M144.5 57.5V74.3H151.5V57.5" fill="none" stroke="#d5603a" stroke-width="0.95"/>
<text x="168.85" y="48" font-size="6.3" fill="#333">Ki67<tspan font-size="4.6" dy="-2.3">+</tspan><tspan dy="2.3">:57%</tspan></text>
<text x="145.05" y="82.2" font-size="6.3" fill="#333">G<tspan font-size="3.8" dy="1.3">0</tspan><tspan dy="-1.3">:36%</tspan></text>
<text x="262.2" y="23" font-size="8.2" text-anchor="middle" fill="#2a2a2a" textLength="35" lengthAdjust="spacingAndGlyphs">Hoxa9KO</text>
<line x1="225.9" y1="29.5" x2="300.4" y2="29.5" stroke="#c4c4c4" stroke-width="0.8"/>
<line x1="300.4" y1="29.5" x2="300.4" y2="103.8" stroke="#c4c4c4" stroke-width="0.8"/>
<line x1="225.9" y1="29.1" x2="225.9" y2="104.3" stroke="#8a8a8a" stroke-width="1"/>
<line x1="225.4" y1="103.8" x2="300.8" y2="103.8" stroke="#8a8a8a" stroke-width="1"/>
<line x1="224.3" y1="47.19" x2="225.9" y2="47.19" stroke="#8a8a8a" stroke-width="0.6"/>
<line x1="224.3" y1="44.32" x2="225.9" y2="44.32" stroke="#8a8a8a" stroke-width="0.6"/>
<line x1="224.3" y1="42.29" x2="225.9" y2="42.29" stroke="#8a8a8a" stroke-width="0.6"/>
<line x1="224.3" y1="40.71" x2="225.9" y2="40.71" stroke="#8a8a8a" stroke-width="0.6"/>
<line x1="224.3" y1="39.42" x2="225.9" y2="39.42" stroke="#8a8a8a" stroke-width="0.6"/>
<line x1="224.3" y1="38.32" x2="225.9" y2="38.32" stroke="#8a8a8a" stroke-width="0.6"/>
<line x1="224.3" y1="37.38" x2="225.9" y2="37.38" stroke="#8a8a8a" stroke-width="0.6"/>
<line x1="224.3" y1="36.55" x2="225.9" y2="36.55" stroke="#8a8a8a" stroke-width="0.6"/>
<line x1="224.3" y1="64.75" x2="225.9" y2="64.75" stroke="#8a8a8a" stroke-width="0.6"/>
<line x1="224.3" y1="61.56" x2="225.9" y2="61.56" stroke="#8a8a8a" stroke-width="0.6"/>
<line x1="224.3" y1="59.3" x2="225.9" y2="59.3" stroke="#8a8a8a" stroke-width="0.6"/>
<line x1="224.3" y1="57.55" x2="225.9" y2="57.55" stroke="#8a8a8a" stroke-width="0.6"/>
<line x1="224.3" y1="56.12" x2="225.9" y2="56.12" stroke="#8a8a8a" stroke-width="0.6"/>
<line x1="224.3" y1="54.9" x2="225.9" y2="54.9" stroke="#8a8a8a" stroke-width="0.6"/>
<line x1="224.3" y1="53.85" x2="225.9" y2="53.85" stroke="#8a8a8a" stroke-width="0.6"/>
<line x1="224.3" y1="52.93" x2="225.9" y2="52.93" stroke="#8a8a8a" stroke-width="0.6"/>
<line x1="224.3" y1="81.59" x2="225.9" y2="81.59" stroke="#8a8a8a" stroke-width="0.6"/>
<line x1="224.3" y1="78.72" x2="225.9" y2="78.72" stroke="#8a8a8a" stroke-width="0.6"/>
<line x1="224.3" y1="76.69" x2="225.9" y2="76.69" stroke="#8a8a8a" stroke-width="0.6"/>
<line x1="224.3" y1="75.11" x2="225.9" y2="75.11" stroke="#8a8a8a" stroke-width="0.6"/>
<line x1="224.3" y1="73.82" x2="225.9" y2="73.82" stroke="#8a8a8a" stroke-width="0.6"/>
<line x1="224.3" y1="72.72" x2="225.9" y2="72.72" stroke="#8a8a8a" stroke-width="0.6"/>
<line x1="224.3" y1="71.78" x2="225.9" y2="71.78" stroke="#8a8a8a" stroke-width="0.6"/>
<line x1="224.3" y1="70.95" x2="225.9" y2="70.95" stroke="#8a8a8a" stroke-width="0.6"/>
<line x1="223.5" y1="35.8" x2="225.9" y2="35.8" stroke="#777" stroke-width="0.8"/>
<text x="218.6" y="38.2" font-size="6.6" text-anchor="end" fill="#333" textLength="6.3" lengthAdjust="spacingAndGlyphs">10</text>
<text x="218.9" y="35.2" font-size="3.9" fill="#333">5</text>
<line x1="223.5" y1="52.1" x2="225.9" y2="52.1" stroke="#777" stroke-width="0.8"/>
<text x="218.6" y="54.5" font-size="6.6" text-anchor="end" fill="#333" textLength="6.3" lengthAdjust="spacingAndGlyphs">10</text>
<text x="218.9" y="51.5" font-size="3.9" fill="#333">4</text>
<line x1="223.5" y1="70.2" x2="225.9" y2="70.2" stroke="#777" stroke-width="0.8"/>
<text x="218.6" y="72.6" font-size="6.6" text-anchor="end" fill="#333" textLength="6.3" lengthAdjust="spacingAndGlyphs">10</text>
<text x="218.9" y="69.6" font-size="3.9" fill="#333">3</text>
<line x1="223.5" y1="86.5" x2="225.9" y2="86.5" stroke="#777" stroke-width="0.8"/>
<text x="218.6" y="88.9" font-size="6.6" text-anchor="end" fill="#333" textLength="6.3" lengthAdjust="spacingAndGlyphs">10</text>
<text x="218.9" y="85.9" font-size="3.9" fill="#333">2</text>
<line x1="223.5" y1="95.7" x2="225.9" y2="95.7" stroke="#777" stroke-width="0.8"/>
<text x="220.3" y="98.1" font-size="6.6" text-anchor="end" fill="#333" textLength="3.2" lengthAdjust="spacingAndGlyphs">0</text>
<line x1="226.8" y1="103.8" x2="226.8" y2="105.8" stroke="#777" stroke-width="0.8"/>
<line x1="229.64" y1="103.8" x2="229.64" y2="104.8" stroke="#aaa" stroke-width="0.5"/>
<line x1="232.48" y1="103.8" x2="232.48" y2="104.8" stroke="#aaa" stroke-width="0.5"/>
<line x1="235.32" y1="103.8" x2="235.32" y2="104.8" stroke="#aaa" stroke-width="0.5"/>
<line x1="238.16" y1="103.8" x2="238.16" y2="104.8" stroke="#aaa" stroke-width="0.5"/>
<text x="229.5" y="112.6" font-size="6.4" text-anchor="end" transform="rotate(-45 229.5 112.6)">0</text>
<line x1="241" y1="103.8" x2="241" y2="105.8" stroke="#777" stroke-width="0.8"/>
<line x1="243.84" y1="103.8" x2="243.84" y2="104.8" stroke="#aaa" stroke-width="0.5"/>
<line x1="246.68" y1="103.8" x2="246.68" y2="104.8" stroke="#aaa" stroke-width="0.5"/>
<line x1="249.52" y1="103.8" x2="249.52" y2="104.8" stroke="#aaa" stroke-width="0.5"/>
<line x1="252.36" y1="103.8" x2="252.36" y2="104.8" stroke="#aaa" stroke-width="0.5"/>
<text x="243.7" y="112.6" font-size="6.4" text-anchor="end" transform="rotate(-45 243.7 112.6)">50K</text>
<line x1="255.2" y1="103.8" x2="255.2" y2="105.8" stroke="#777" stroke-width="0.8"/>
<line x1="258.04" y1="103.8" x2="258.04" y2="104.8" stroke="#aaa" stroke-width="0.5"/>
<line x1="260.88" y1="103.8" x2="260.88" y2="104.8" stroke="#aaa" stroke-width="0.5"/>
<line x1="263.72" y1="103.8" x2="263.72" y2="104.8" stroke="#aaa" stroke-width="0.5"/>
<line x1="266.56" y1="103.8" x2="266.56" y2="104.8" stroke="#aaa" stroke-width="0.5"/>
<text x="257.9" y="112.6" font-size="6.4" text-anchor="end" transform="rotate(-45 257.9 112.6)">100K</text>
<line x1="269.4" y1="103.8" x2="269.4" y2="105.8" stroke="#777" stroke-width="0.8"/>
<line x1="272.24" y1="103.8" x2="272.24" y2="104.8" stroke="#aaa" stroke-width="0.5"/>
<line x1="275.08" y1="103.8" x2="275.08" y2="104.8" stroke="#aaa" stroke-width="0.5"/>
<line x1="277.92" y1="103.8" x2="277.92" y2="104.8" stroke="#aaa" stroke-width="0.5"/>
<line x1="280.76" y1="103.8" x2="280.76" y2="104.8" stroke="#aaa" stroke-width="0.5"/>
<text x="272.1" y="112.6" font-size="6.4" text-anchor="end" transform="rotate(-45 272.1 112.6)">150K</text>
<line x1="283.6" y1="103.8" x2="283.6" y2="105.8" stroke="#777" stroke-width="0.8"/>
<line x1="286.44" y1="103.8" x2="286.44" y2="104.8" stroke="#aaa" stroke-width="0.5"/>
<line x1="289.28" y1="103.8" x2="289.28" y2="104.8" stroke="#aaa" stroke-width="0.5"/>
<line x1="292.12" y1="103.8" x2="292.12" y2="104.8" stroke="#aaa" stroke-width="0.5"/>
<line x1="294.96" y1="103.8" x2="294.96" y2="104.8" stroke="#aaa" stroke-width="0.5"/>
<text x="286.3" y="112.6" font-size="6.4" text-anchor="end" transform="rotate(-45 286.3 112.6)">200K</text>
<line x1="297.8" y1="103.8" x2="297.8" y2="105.8" stroke="#777" stroke-width="0.8"/>
<text x="300.5" y="112.6" font-size="6.4" text-anchor="end" transform="rotate(-45 300.5 112.6)">250K</text>
<rect x="254.74" y="44.17" width="0.9" height="0.9" fill="#a9bfe6" opacity="0.6"/><rect x="251.26" y="50.32" width="0.9" height="0.9" fill="#a9bfe6" opacity="0.6"/><rect x="264.83" y="43.34" width="0.9" height="0.9" fill="#a9bfe6" opacity="0.6"/><rect x="258.42" y="43.67" width="0.9" height="0.9" fill="#a9bfe6" opacity="0.6"/><rect x="256.45" y="45.07" width="0.9" height="0.9" fill="#a9bfe6" opacity="0.6"/><rect x="248.65" y="40.95" width="0.9" height="0.9" fill="#a9bfe6" opacity="0.6"/><rect x="249.46" y="52.9" width="0.9" height="0.9" fill="#a9bfe6" opacity="0.6"/><rect x="255.24" y="42.22" width="0.9" height="0.9" fill="#a9bfe6" opacity="0.6"/><rect x="263.43" y="55.05" width="0.9" height="0.9" fill="#a9bfe6" opacity="0.6"/><rect x="254.3" y="40.88" width="0.9" height="0.9" fill="#a9bfe6" opacity="0.6"/><rect x="249.15" y="39.84" width="0.9" height="0.9" fill="#a9bfe6" opacity="0.6"/><rect x="252.14" y="40" width="0.9" height="0.9" fill="#a9bfe6" opacity="0.6"/><rect x="250.08" y="42.57" width="0.9" height="0.9" fill="#a9bfe6" opacity="0.6"/><rect x="256.69" y="52.97" width="0.9" height="0.9" fill="#a9bfe6" opacity="0.6"/><rect x="260.29" y="45.55" width="0.9" height="0.9" fill="#a9bfe6" opacity="0.6"/><rect x="253.58" y="47" width="0.9" height="0.9" fill="#a9bfe6" opacity="0.6"/><rect x="252.84" y="43.99" width="0.9" height="0.9" fill="#a9bfe6" opacity="0.6"/><rect x="246.54" y="42.7" width="0.9" height="0.9" fill="#a9bfe6" opacity="0.6"/><rect x="264.65" y="41.18" width="0.9" height="0.9" fill="#a9bfe6" opacity="0.6"/><rect x="255.37" y="48.78" width="0.9" height="0.9" fill="#a9bfe6" opacity="0.6"/><rect x="262.56" y="42.52" width="0.9" height="0.9" fill="#a9bfe6" opacity="0.6"/><rect x="250.72" y="42.45" width="0.9" height="0.9" fill="#a9bfe6" opacity="0.6"/><rect x="253.3" y="45.73" width="0.9" height="0.9" fill="#a9bfe6" opacity="0.6"/><rect x="264.38" y="52.73" width="0.9" height="0.9" fill="#a9bfe6" opacity="0.6"/><rect x="262.76" y="39.42" width="0.9" height="0.9" fill="#a9bfe6" opacity="0.6"/><rect x="245.94" y="49.58" width="0.9" height="0.9" fill="#a9bfe6" opacity="0.6"/><rect x="263.21" y="46.67" width="0.9" height="0.9" fill="#a9bfe6" opacity="0.6"/><rect x="257.04" y="38.79" width="0.9" height="0.9" fill="#a9bfe6" opacity="0.6"/><rect x="253.13" y="53.42" width="0.9" height="0.9" fill="#a9bfe6" opacity="0.6"/><rect x="261.81" y="52.71" width="0.9" height="0.9" fill="#a9bfe6" opacity="0.6"/><rect x="264.74" y="43.15" width="0.9" height="0.9" fill="#a9bfe6" opacity="0.6"/><rect x="247.48" y="40.78" width="0.9" height="0.9" fill="#a9bfe6" opacity="0.6"/><rect x="255.75" y="49.64" width="0.9" height="0.9" fill="#a9bfe6" opacity="0.6"/><rect x="264.13" y="50.69" width="0.9" height="0.9" fill="#a9bfe6" opacity="0.6"/><rect x="258.25" y="51.08" width="0.9" height="0.9" fill="#a9bfe6" opacity="0.6"/><rect x="254.45" y="47.48" width="0.9" height="0.9" fill="#a9bfe6" opacity="0.6"/><rect x="246.09" y="50.76" width="0.9" height="0.9" fill="#a9bfe6" opacity="0.6"/><rect x="249.95" y="53.15" width="0.9" height="0.9" fill="#a9bfe6" opacity="0.6"/><rect x="258.21" y="43.71" width="0.9" height="0.9" fill="#a9bfe6" opacity="0.6"/><rect x="247.86" y="42.36" width="0.9" height="0.9" fill="#a9bfe6" opacity="0.6"/><rect x="258.03" y="50.01" width="0.9" height="0.9" fill="#a9bfe6" opacity="0.6"/><rect x="247.54" y="39.44" width="0.9" height="0.9" fill="#a9bfe6" opacity="0.6"/><rect x="255.79" y="48.05" width="0.9" height="0.9" fill="#a9bfe6" opacity="0.6"/><rect x="253.06" y="42.17" width="0.9" height="0.9" fill="#a9bfe6" opacity="0.6"/><rect x="257.32" y="38.97" width="0.9" height="0.9" fill="#a9bfe6" opacity="0.6"/><rect x="251.33" y="45.87" width="0.9" height="0.9" fill="#a9bfe6" opacity="0.6"/><rect x="264.48" y="49.47" width="0.9" height="0.9" fill="#a9bfe6" opacity="0.6"/><rect x="262.98" y="46.69" width="0.9" height="0.9" fill="#a9bfe6" opacity="0.6"/><rect x="250" y="42.39" width="0.9" height="0.9" fill="#a9bfe6" opacity="0.6"/><rect x="264.51" y="50.44" width="0.9" height="0.9" fill="#a9bfe6" opacity="0.6"/><rect x="251.45" y="38.86" width="0.9" height="0.9" fill="#a9bfe6" opacity="0.6"/><rect x="255.27" y="49.49" width="0.9" height="0.9" fill="#a9bfe6" opacity="0.6"/><rect x="253.7" y="42.74" width="0.9" height="0.9" fill="#a9bfe6" opacity="0.6"/><rect x="258.65" y="53.67" width="0.9" height="0.9" fill="#a9bfe6" opacity="0.6"/><rect x="249.84" y="38.97" width="0.9" height="0.9" fill="#a9bfe6" opacity="0.6"/><rect x="252.06" y="45.27" width="0.9" height="0.9" fill="#a9bfe6" opacity="0.6"/><rect x="258.95" y="42.05" width="0.9" height="0.9" fill="#a9bfe6" opacity="0.6"/><rect x="261.24" y="50.82" width="0.9" height="0.9" fill="#a9bfe6" opacity="0.6"/><rect x="255.4" y="41.99" width="0.9" height="0.9" fill="#a9bfe6" opacity="0.6"/><rect x="264.7" y="44.16" width="0.9" height="0.9" fill="#a9bfe6" opacity="0.6"/><rect x="250.87" y="47.72" width="0.9" height="0.9" fill="#6d8fd2" opacity="0.7"/><rect x="249.75" y="49.77" width="0.9" height="0.9" fill="#6d8fd2" opacity="0.7"/><rect x="247.42" y="51.58" width="0.9" height="0.9" fill="#6d8fd2" opacity="0.7"/><rect x="245.65" y="50.32" width="0.9" height="0.9" fill="#6d8fd2" opacity="0.7"/><rect x="243.08" y="55.59" width="0.9" height="0.9" fill="#6d8fd2" opacity="0.7"/><rect x="252.64" y="45.51" width="0.9" height="0.9" fill="#6d8fd2" opacity="0.7"/><rect x="241.46" y="57.34" width="0.9" height="0.9" fill="#6d8fd2" opacity="0.7"/><rect x="251.29" y="43.64" width="0.9" height="0.9" fill="#6d8fd2" opacity="0.7"/><rect x="251.86" y="46.27" width="0.9" height="0.9" fill="#6d8fd2" opacity="0.7"/><rect x="252.09" y="45.57" width="0.9" height="0.9" fill="#6d8fd2" opacity="0.7"/><rect x="248.69" y="49.56" width="0.9" height="0.9" fill="#6d8fd2" opacity="0.7"/><rect x="245.47" y="53.07" width="0.9" height="0.9" fill="#6d8fd2" opacity="0.7"/><rect x="243.99" y="55.25" width="0.9" height="0.9" fill="#6d8fd2" opacity="0.7"/><rect x="243.56" y="55.39" width="0.9" height="0.9" fill="#6d8fd2" opacity="0.7"/><rect x="246.21" y="51.38" width="0.9" height="0.9" fill="#6d8fd2" opacity="0.7"/><rect x="247.2" y="52.09" width="0.9" height="0.9" fill="#6d8fd2" opacity="0.7"/><rect x="246.24" y="52.27" width="0.9" height="0.9" fill="#6d8fd2" opacity="0.7"/><rect x="245.93" y="52.51" width="0.9" height="0.9" fill="#6d8fd2" opacity="0.7"/><rect x="246.71" y="50.81" width="0.9" height="0.9" fill="#6d8fd2" opacity="0.7"/><rect x="242.46" y="56.57" width="0.9" height="0.9" fill="#6d8fd2" opacity="0.7"/><rect x="251.88" y="47.28" width="0.9" height="0.9" fill="#6d8fd2" opacity="0.7"/><rect x="251.43" y="46.76" width="0.9" height="0.9" fill="#6d8fd2" opacity="0.7"/><rect x="251.99" y="45.09" width="0.9" height="0.9" fill="#6d8fd2" opacity="0.7"/><rect x="249.49" y="48.99" width="0.9" height="0.9" fill="#6d8fd2" opacity="0.7"/><rect x="241.89" y="55.17" width="0.9" height="0.9" fill="#6d8fd2" opacity="0.7"/><rect x="248.9" y="49.33" width="0.9" height="0.9" fill="#6d8fd2" opacity="0.7"/><rect x="242.89" y="54.5" width="0.9" height="0.9" fill="#6d8fd2" opacity="0.7"/><rect x="251.95" y="45.95" width="0.9" height="0.9" fill="#6d8fd2" opacity="0.7"/><rect x="245.15" y="51.92" width="0.9" height="0.9" fill="#6d8fd2" opacity="0.7"/><rect x="244.13" y="53.57" width="0.9" height="0.9" fill="#6d8fd2" opacity="0.7"/><rect x="250.97" y="46.04" width="0.9" height="0.9" fill="#6d8fd2" opacity="0.7"/><rect x="245.17" y="53.75" width="0.9" height="0.9" fill="#6d8fd2" opacity="0.7"/><rect x="250.75" y="47.87" width="0.9" height="0.9" fill="#6d8fd2" opacity="0.7"/><rect x="250.09" y="48.26" width="0.9" height="0.9" fill="#6d8fd2" opacity="0.7"/><rect x="241.67" y="56.36" width="0.9" height="0.9" fill="#6d8fd2" opacity="0.7"/><rect x="253.91" y="43.65" width="0.9" height="0.9" fill="#6d8fd2" opacity="0.7"/><rect x="244.95" y="54" width="0.9" height="0.9" fill="#6d8fd2" opacity="0.7"/><rect x="247.12" y="50.18" width="0.9" height="0.9" fill="#6d8fd2" opacity="0.7"/><rect x="243.65" y="54.75" width="0.9" height="0.9" fill="#6d8fd2" opacity="0.7"/><rect x="249.2" y="47.36" width="0.9" height="0.9" fill="#6d8fd2" opacity="0.7"/><rect x="249.94" y="50.09" width="0.9" height="0.9" fill="#6d8fd2" opacity="0.7"/><rect x="244.5" y="53.16" width="0.9" height="0.9" fill="#6d8fd2" opacity="0.7"/><rect x="250.06" y="48.72" width="0.9" height="0.9" fill="#6d8fd2" opacity="0.7"/><rect x="245.21" y="55.42" width="0.9" height="0.9" fill="#6d8fd2" opacity="0.7"/><rect x="247.88" y="50.77" width="0.9" height="0.9" fill="#6d8fd2" opacity="0.7"/><rect x="252.28" y="45.06" width="0.9" height="0.9" fill="#6d8fd2" opacity="0.7"/><rect x="249.64" y="45.28" width="0.9" height="0.9" fill="#6d8fd2" opacity="0.7"/><rect x="241.83" y="56.01" width="0.9" height="0.9" fill="#6d8fd2" opacity="0.7"/><rect x="251.19" y="46.8" width="0.9" height="0.9" fill="#6d8fd2" opacity="0.7"/><rect x="245.32" y="53.83" width="0.9" height="0.9" fill="#6d8fd2" opacity="0.7"/><rect x="238.71" y="61.46" width="0.9" height="0.9" fill="#8fb0e0" opacity="0.8"/><rect x="238.41" y="60.28" width="0.9" height="0.9" fill="#8fb0e0" opacity="0.8"/><rect x="237.96" y="60.88" width="0.9" height="0.9" fill="#8fb0e0" opacity="0.8"/><rect x="233.72" y="64.12" width="0.9" height="0.9" fill="#8fb0e0" opacity="0.8"/><rect x="238.52" y="58.65" width="0.9" height="0.9" fill="#8fb0e0" opacity="0.8"/><rect x="236.07" y="62.47" width="0.9" height="0.9" fill="#8fb0e0" opacity="0.8"/><rect x="233.42" y="61.76" width="0.9" height="0.9" fill="#8fb0e0" opacity="0.8"/><rect x="232.89" y="60.93" width="0.9" height="0.9" fill="#8fb0e0" opacity="0.8"/><rect x="233.68" y="63.06" width="0.9" height="0.9" fill="#8fb0e0" opacity="0.8"/><rect x="236.46" y="59.85" width="0.9" height="0.9" fill="#8fb0e0" opacity="0.8"/>
<ellipse cx="241.3" cy="55.5" rx="1.7" ry="12.5" fill="#3a8fb0" opacity="0.6" filter="url(#bl3)"/>
<ellipse cx="241.3" cy="56.5" rx="1.3" ry="11" fill="#2a8f9a" opacity="0.85" filter="url(#bl3)"/>
<ellipse cx="241.3" cy="52" rx="1.1" ry="6" fill="#1c9f86" opacity="0.9"/>
<ellipse cx="241.3" cy="60.5" rx="1.1" ry="4" fill="#4caf50" opacity="0.85"/>
<ellipse cx="241.3" cy="66" rx="0.9" ry="3.5" fill="#5e9fd6" opacity="0.8"/>
<path d="M236.5 33.5H294.5V57.5H236.5Z" fill="none" stroke="#d5603a" stroke-width="0.95"/>
<path d="M236.5 57.5V74.3H243.5V57.5" fill="none" stroke="#d5603a" stroke-width="0.95"/>
<text x="261.3" y="48" font-size="6.3" fill="#333">Ki67<tspan font-size="4.6" dy="-2.3">+</tspan><tspan dy="2.3">:60%</tspan></text>
<text x="237" y="82.2" font-size="6.3" fill="#333">G<tspan font-size="3.8" dy="1.3">0</tspan><tspan dy="-1.3">:33%</tspan></text>
<text x="355.7" y="23" font-size="8.2" text-anchor="middle" fill="#2a2a2a" textLength="16" lengthAdjust="spacingAndGlyphs">dKO</text>
<line x1="318.35" y1="29.5" x2="392.85" y2="29.5" stroke="#c4c4c4" stroke-width="0.8"/>
<line x1="392.85" y1="29.5" x2="392.85" y2="103.8" stroke="#c4c4c4" stroke-width="0.8"/>
<line x1="318.35" y1="29.1" x2="318.35" y2="104.3" stroke="#8a8a8a" stroke-width="1"/>
<line x1="317.85" y1="103.8" x2="393.25" y2="103.8" stroke="#8a8a8a" stroke-width="1"/>
<line x1="316.75" y1="44.32" x2="318.35" y2="44.32" stroke="#8a8a8a" stroke-width="0.6"/>
<line x1="316.75" y1="41.47" x2="318.35" y2="41.47" stroke="#8a8a8a" stroke-width="0.6"/>
<line x1="316.75" y1="39.45" x2="318.35" y2="39.45" stroke="#8a8a8a" stroke-width="0.6"/>
<line x1="316.75" y1="37.88" x2="318.35" y2="37.88" stroke="#8a8a8a" stroke-width="0.6"/>
<line x1="316.75" y1="36.59" x2="318.35" y2="36.59" stroke="#8a8a8a" stroke-width="0.6"/>
<line x1="316.75" y1="35.51" x2="318.35" y2="35.51" stroke="#8a8a8a" stroke-width="0.6"/>
<line x1="316.75" y1="34.57" x2="318.35" y2="34.57" stroke="#8a8a8a" stroke-width="0.6"/>
<line x1="316.75" y1="33.74" x2="318.35" y2="33.74" stroke="#8a8a8a" stroke-width="0.6"/>
<line x1="316.75" y1="61.92" x2="318.35" y2="61.92" stroke="#8a8a8a" stroke-width="0.6"/>
<line x1="316.75" y1="58.72" x2="318.35" y2="58.72" stroke="#8a8a8a" stroke-width="0.6"/>
<line x1="316.75" y1="56.44" x2="318.35" y2="56.44" stroke="#8a8a8a" stroke-width="0.6"/>
<line x1="316.75" y1="54.68" x2="318.35" y2="54.68" stroke="#8a8a8a" stroke-width="0.6"/>
<line x1="316.75" y1="53.24" x2="318.35" y2="53.24" stroke="#8a8a8a" stroke-width="0.6"/>
<line x1="316.75" y1="52.02" x2="318.35" y2="52.02" stroke="#8a8a8a" stroke-width="0.6"/>
<line x1="316.75" y1="50.96" x2="318.35" y2="50.96" stroke="#8a8a8a" stroke-width="0.6"/>
<line x1="316.75" y1="50.03" x2="318.35" y2="50.03" stroke="#8a8a8a" stroke-width="0.6"/>
<line x1="316.75" y1="79" x2="318.35" y2="79" stroke="#8a8a8a" stroke-width="0.6"/>
<line x1="316.75" y1="76.08" x2="318.35" y2="76.08" stroke="#8a8a8a" stroke-width="0.6"/>
<line x1="316.75" y1="74.01" x2="318.35" y2="74.01" stroke="#8a8a8a" stroke-width="0.6"/>
<line x1="316.75" y1="72.4" x2="318.35" y2="72.4" stroke="#8a8a8a" stroke-width="0.6"/>
<line x1="316.75" y1="71.08" x2="318.35" y2="71.08" stroke="#8a8a8a" stroke-width="0.6"/>
<line x1="316.75" y1="69.97" x2="318.35" y2="69.97" stroke="#8a8a8a" stroke-width="0.6"/>
<line x1="316.75" y1="69.01" x2="318.35" y2="69.01" stroke="#8a8a8a" stroke-width="0.6"/>
<line x1="316.75" y1="68.16" x2="318.35" y2="68.16" stroke="#8a8a8a" stroke-width="0.6"/>
<line x1="315.95" y1="33" x2="318.35" y2="33" stroke="#777" stroke-width="0.8"/>
<text x="311.05" y="35.4" font-size="6.6" text-anchor="end" fill="#333" textLength="6.3" lengthAdjust="spacingAndGlyphs">10</text>
<text x="311.35" y="32.4" font-size="3.9" fill="#333">5</text>
<line x1="315.95" y1="49.2" x2="318.35" y2="49.2" stroke="#777" stroke-width="0.8"/>
<text x="311.05" y="51.6" font-size="6.6" text-anchor="end" fill="#333" textLength="6.3" lengthAdjust="spacingAndGlyphs">10</text>
<text x="311.35" y="48.6" font-size="3.9" fill="#333">4</text>
<line x1="315.95" y1="67.4" x2="318.35" y2="67.4" stroke="#777" stroke-width="0.8"/>
<text x="311.05" y="69.8" font-size="6.6" text-anchor="end" fill="#333" textLength="6.3" lengthAdjust="spacingAndGlyphs">10</text>
<text x="311.35" y="66.8" font-size="3.9" fill="#333">3</text>
<line x1="315.95" y1="84" x2="318.35" y2="84" stroke="#777" stroke-width="0.8"/>
<text x="311.05" y="86.4" font-size="6.6" text-anchor="end" fill="#333" textLength="6.3" lengthAdjust="spacingAndGlyphs">10</text>
<text x="311.35" y="83.4" font-size="3.9" fill="#333">2</text>
<line x1="315.95" y1="93.5" x2="318.35" y2="93.5" stroke="#777" stroke-width="0.8"/>
<text x="312.75" y="95.9" font-size="6.6" text-anchor="end" fill="#333" textLength="3.2" lengthAdjust="spacingAndGlyphs">0</text>
<line x1="319.25" y1="103.8" x2="319.25" y2="105.8" stroke="#777" stroke-width="0.8"/>
<line x1="322.09" y1="103.8" x2="322.09" y2="104.8" stroke="#aaa" stroke-width="0.5"/>
<line x1="324.93" y1="103.8" x2="324.93" y2="104.8" stroke="#aaa" stroke-width="0.5"/>
<line x1="327.77" y1="103.8" x2="327.77" y2="104.8" stroke="#aaa" stroke-width="0.5"/>
<line x1="330.61" y1="103.8" x2="330.61" y2="104.8" stroke="#aaa" stroke-width="0.5"/>
<text x="321.95" y="112.6" font-size="6.4" text-anchor="end" transform="rotate(-45 321.95 112.6)">0</text>
<line x1="333.45" y1="103.8" x2="333.45" y2="105.8" stroke="#777" stroke-width="0.8"/>
<line x1="336.29" y1="103.8" x2="336.29" y2="104.8" stroke="#aaa" stroke-width="0.5"/>
<line x1="339.13" y1="103.8" x2="339.13" y2="104.8" stroke="#aaa" stroke-width="0.5"/>
<line x1="341.97" y1="103.8" x2="341.97" y2="104.8" stroke="#aaa" stroke-width="0.5"/>
<line x1="344.81" y1="103.8" x2="344.81" y2="104.8" stroke="#aaa" stroke-width="0.5"/>
<text x="336.15" y="112.6" font-size="6.4" text-anchor="end" transform="rotate(-45 336.15 112.6)">50K</text>
<line x1="347.65" y1="103.8" x2="347.65" y2="105.8" stroke="#777" stroke-width="0.8"/>
<line x1="350.49" y1="103.8" x2="350.49" y2="104.8" stroke="#aaa" stroke-width="0.5"/>
<line x1="353.33" y1="103.8" x2="353.33" y2="104.8" stroke="#aaa" stroke-width="0.5"/>
<line x1="356.17" y1="103.8" x2="356.17" y2="104.8" stroke="#aaa" stroke-width="0.5"/>
<line x1="359.01" y1="103.8" x2="359.01" y2="104.8" stroke="#aaa" stroke-width="0.5"/>
<text x="350.35" y="112.6" font-size="6.4" text-anchor="end" transform="rotate(-45 350.35 112.6)">100K</text>
<line x1="361.85" y1="103.8" x2="361.85" y2="105.8" stroke="#777" stroke-width="0.8"/>
<line x1="364.69" y1="103.8" x2="364.69" y2="104.8" stroke="#aaa" stroke-width="0.5"/>
<line x1="367.53" y1="103.8" x2="367.53" y2="104.8" stroke="#aaa" stroke-width="0.5"/>
<line x1="370.37" y1="103.8" x2="370.37" y2="104.8" stroke="#aaa" stroke-width="0.5"/>
<line x1="373.21" y1="103.8" x2="373.21" y2="104.8" stroke="#aaa" stroke-width="0.5"/>
<text x="364.55" y="112.6" font-size="6.4" text-anchor="end" transform="rotate(-45 364.55 112.6)">150K</text>
<line x1="376.05" y1="103.8" x2="376.05" y2="105.8" stroke="#777" stroke-width="0.8"/>
<line x1="378.89" y1="103.8" x2="378.89" y2="104.8" stroke="#aaa" stroke-width="0.5"/>
<line x1="381.73" y1="103.8" x2="381.73" y2="104.8" stroke="#aaa" stroke-width="0.5"/>
<line x1="384.57" y1="103.8" x2="384.57" y2="104.8" stroke="#aaa" stroke-width="0.5"/>
<line x1="387.41" y1="103.8" x2="387.41" y2="104.8" stroke="#aaa" stroke-width="0.5"/>
<text x="378.75" y="112.6" font-size="6.4" text-anchor="end" transform="rotate(-45 378.75 112.6)">200K</text>
<line x1="390.25" y1="103.8" x2="390.25" y2="105.8" stroke="#777" stroke-width="0.8"/>
<text x="392.95" y="112.6" font-size="6.4" text-anchor="end" transform="rotate(-45 392.95 112.6)">250K</text>
<rect x="337.78" y="43.45" width="0.9" height="0.9" fill="#a9bfe6" opacity="0.6"/><rect x="351.12" y="41.84" width="0.9" height="0.9" fill="#a9bfe6" opacity="0.6"/><rect x="343.79" y="41.77" width="0.9" height="0.9" fill="#a9bfe6" opacity="0.6"/><rect x="353.46" y="47.76" width="0.9" height="0.9" fill="#a9bfe6" opacity="0.6"/><rect x="338.82" y="39.89" width="0.9" height="0.9" fill="#a9bfe6" opacity="0.6"/><rect x="345.46" y="47.4" width="0.9" height="0.9" fill="#a9bfe6" opacity="0.6"/><rect x="350.33" y="40.3" width="0.9" height="0.9" fill="#a9bfe6" opacity="0.6"/><rect x="340.82" y="49.49" width="0.9" height="0.9" fill="#a9bfe6" opacity="0.6"/><rect x="345.75" y="43.14" width="0.9" height="0.9" fill="#a9bfe6" opacity="0.6"/><rect x="343.7" y="53.76" width="0.9" height="0.9" fill="#a9bfe6" opacity="0.6"/><rect x="343.8" y="47.58" width="0.9" height="0.9" fill="#a9bfe6" opacity="0.6"/><rect x="344.69" y="45.22" width="0.9" height="0.9" fill="#a9bfe6" opacity="0.6"/><rect x="354.83" y="55.01" width="0.9" height="0.9" fill="#a9bfe6" opacity="0.6"/><rect x="344.83" y="41.72" width="0.9" height="0.9" fill="#a9bfe6" opacity="0.6"/><rect x="352.11" y="42.19" width="0.9" height="0.9" fill="#a9bfe6" opacity="0.6"/><rect x="337.67" y="52.63" width="0.9" height="0.9" fill="#a9bfe6" opacity="0.6"/><rect x="346.03" y="51.75" width="0.9" height="0.9" fill="#a9bfe6" opacity="0.6"/><rect x="345.67" y="52.73" width="0.9" height="0.9" fill="#a9bfe6" opacity="0.6"/><rect x="346.77" y="41.26" width="0.9" height="0.9" fill="#a9bfe6" opacity="0.6"/><rect x="337.85" y="47.04" width="0.9" height="0.9" fill="#a9bfe6" opacity="0.6"/><rect x="350.36" y="53.4" width="0.9" height="0.9" fill="#a9bfe6" opacity="0.6"/><rect x="339.33" y="48.24" width="0.9" height="0.9" fill="#a9bfe6" opacity="0.6"/><rect x="344.97" y="46.64" width="0.9" height="0.9" fill="#a9bfe6" opacity="0.6"/><rect x="340.47" y="42.88" width="0.9" height="0.9" fill="#a9bfe6" opacity="0.6"/><rect x="347.97" y="53.53" width="0.9" height="0.9" fill="#a9bfe6" opacity="0.6"/><rect x="339.73" y="46.16" width="0.9" height="0.9" fill="#a9bfe6" opacity="0.6"/><rect x="353.65" y="54.47" width="0.9" height="0.9" fill="#a9bfe6" opacity="0.6"/><rect x="341.5" y="40.42" width="0.9" height="0.9" fill="#a9bfe6" opacity="0.6"/><rect x="356.41" y="54.75" width="0.9" height="0.9" fill="#a9bfe6" opacity="0.6"/><rect x="347.2" y="39.54" width="0.9" height="0.9" fill="#a9bfe6" opacity="0.6"/><rect x="356.07" y="45.33" width="0.9" height="0.9" fill="#a9bfe6" opacity="0.6"/><rect x="355.63" y="49.03" width="0.9" height="0.9" fill="#a9bfe6" opacity="0.6"/><rect x="354.04" y="41.59" width="0.9" height="0.9" fill="#a9bfe6" opacity="0.6"/><rect x="353.27" y="42.54" width="0.9" height="0.9" fill="#a9bfe6" opacity="0.6"/><rect x="345.64" y="52.15" width="0.9" height="0.9" fill="#a9bfe6" opacity="0.6"/><rect x="354.13" y="41.96" width="0.9" height="0.9" fill="#a9bfe6" opacity="0.6"/><rect x="341.91" y="44.81" width="0.9" height="0.9" fill="#a9bfe6" opacity="0.6"/><rect x="347.91" y="44.86" width="0.9" height="0.9" fill="#a9bfe6" opacity="0.6"/><rect x="340.01" y="42.28" width="0.9" height="0.9" fill="#a9bfe6" opacity="0.6"/><rect x="352.05" y="53.28" width="0.9" height="0.9" fill="#a9bfe6" opacity="0.6"/><rect x="338.37" y="47.24" width="0.9" height="0.9" fill="#a9bfe6" opacity="0.6"/><rect x="352.7" y="39.57" width="0.9" height="0.9" fill="#a9bfe6" opacity="0.6"/><rect x="354.31" y="40.92" width="0.9" height="0.9" fill="#a9bfe6" opacity="0.6"/><rect x="349.54" y="47.6" width="0.9" height="0.9" fill="#a9bfe6" opacity="0.6"/><rect x="350.09" y="43.73" width="0.9" height="0.9" fill="#a9bfe6" opacity="0.6"/><rect x="345.95" y="47.94" width="0.9" height="0.9" fill="#a9bfe6" opacity="0.6"/><rect x="346.06" y="49.17" width="0.9" height="0.9" fill="#a9bfe6" opacity="0.6"/><rect x="346.49" y="45.66" width="0.9" height="0.9" fill="#a9bfe6" opacity="0.6"/><rect x="338.02" y="48.13" width="0.9" height="0.9" fill="#a9bfe6" opacity="0.6"/><rect x="347.34" y="42.45" width="0.9" height="0.9" fill="#a9bfe6" opacity="0.6"/><rect x="352.82" y="51.44" width="0.9" height="0.9" fill="#a9bfe6" opacity="0.6"/><rect x="346.72" y="41.53" width="0.9" height="0.9" fill="#a9bfe6" opacity="0.6"/><rect x="347.01" y="40.39" width="0.9" height="0.9" fill="#a9bfe6" opacity="0.6"/><rect x="340.12" y="45.22" width="0.9" height="0.9" fill="#a9bfe6" opacity="0.6"/><rect x="339.38" y="45.36" width="0.9" height="0.9" fill="#a9bfe6" opacity="0.6"/><rect x="347.75" y="39.36" width="0.9" height="0.9" fill="#a9bfe6" opacity="0.6"/><rect x="350.28" y="40.15" width="0.9" height="0.9" fill="#a9bfe6" opacity="0.6"/><rect x="352.22" y="51.38" width="0.9" height="0.9" fill="#a9bfe6" opacity="0.6"/><rect x="347.78" y="39.58" width="0.9" height="0.9" fill="#a9bfe6" opacity="0.6"/><rect x="347.63" y="44.75" width="0.9" height="0.9" fill="#a9bfe6" opacity="0.6"/><rect x="356.57" y="41.33" width="0.9" height="0.9" fill="#a9bfe6" opacity="0.6"/><rect x="354.69" y="55" width="0.9" height="0.9" fill="#a9bfe6" opacity="0.6"/><rect x="352.19" y="51.97" width="0.9" height="0.9" fill="#a9bfe6" opacity="0.6"/><rect x="341.42" y="54.1" width="0.9" height="0.9" fill="#a9bfe6" opacity="0.6"/><rect x="347.39" y="54" width="0.9" height="0.9" fill="#a9bfe6" opacity="0.6"/><rect x="355.87" y="41.76" width="0.9" height="0.9" fill="#a9bfe6" opacity="0.6"/><rect x="353.32" y="53.88" width="0.9" height="0.9" fill="#a9bfe6" opacity="0.6"/><rect x="338.86" y="43.88" width="0.9" height="0.9" fill="#a9bfe6" opacity="0.6"/><rect x="352.67" y="41.5" width="0.9" height="0.9" fill="#a9bfe6" opacity="0.6"/><rect x="355.48" y="43.5" width="0.9" height="0.9" fill="#a9bfe6" opacity="0.6"/><rect x="353.86" y="41.31" width="0.9" height="0.9" fill="#a9bfe6" opacity="0.6"/><rect x="347.59" y="53.42" width="0.9" height="0.9" fill="#a9bfe6" opacity="0.6"/><rect x="341.72" y="42.61" width="0.9" height="0.9" fill="#a9bfe6" opacity="0.6"/><rect x="347.67" y="43.81" width="0.9" height="0.9" fill="#a9bfe6" opacity="0.6"/><rect x="338.29" y="41.15" width="0.9" height="0.9" fill="#a9bfe6" opacity="0.6"/><rect x="340.77" y="53.34" width="0.9" height="0.9" fill="#a9bfe6" opacity="0.6"/><rect x="351.14" y="53.21" width="0.9" height="0.9" fill="#a9bfe6" opacity="0.6"/><rect x="340.92" y="50.93" width="0.9" height="0.9" fill="#a9bfe6" opacity="0.6"/><rect x="339.85" y="46.81" width="0.9" height="0.9" fill="#a9bfe6" opacity="0.6"/><rect x="350.28" y="44.59" width="0.9" height="0.9" fill="#a9bfe6" opacity="0.6"/><rect x="355.01" y="47.96" width="0.9" height="0.9" fill="#a9bfe6" opacity="0.6"/><rect x="349.15" y="52.9" width="0.9" height="0.9" fill="#a9bfe6" opacity="0.6"/><rect x="339.64" y="54.19" width="0.9" height="0.9" fill="#a9bfe6" opacity="0.6"/><rect x="350.15" y="45.14" width="0.9" height="0.9" fill="#a9bfe6" opacity="0.6"/><rect x="353.5" y="43.23" width="0.9" height="0.9" fill="#a9bfe6" opacity="0.6"/><rect x="357.36" y="48.43" width="0.9" height="0.9" fill="#a9bfe6" opacity="0.6"/><rect x="344.76" y="50.79" width="0.9" height="0.9" fill="#a9bfe6" opacity="0.6"/><rect x="346.4" y="41.47" width="0.9" height="0.9" fill="#a9bfe6" opacity="0.6"/><rect x="352.42" y="39.72" width="0.9" height="0.9" fill="#a9bfe6" opacity="0.6"/><rect x="353.95" y="43.08" width="0.9" height="0.9" fill="#a9bfe6" opacity="0.6"/><rect x="350.33" y="54.58" width="0.9" height="0.9" fill="#a9bfe6" opacity="0.6"/><rect x="349.27" y="49.41" width="0.9" height="0.9" fill="#a9bfe6" opacity="0.6"/><rect x="343.8" y="38.54" width="0.9" height="0.9" fill="#a9bfe6" opacity="0.6"/><rect x="338.23" y="40.62" width="0.9" height="0.9" fill="#a9bfe6" opacity="0.6"/><rect x="349.87" y="45.73" width="0.9" height="0.9" fill="#a9bfe6" opacity="0.6"/><rect x="339.94" y="50.59" width="0.9" height="0.9" fill="#6d8fd2" opacity="0.7"/><rect x="336.48" y="54.13" width="0.9" height="0.9" fill="#6d8fd2" opacity="0.7"/><rect x="333.9" y="57.27" width="0.9" height="0.9" fill="#6d8fd2" opacity="0.7"/><rect x="338.11" y="53.76" width="0.9" height="0.9" fill="#6d8fd2" opacity="0.7"/><rect x="340.77" y="51" width="0.9" height="0.9" fill="#6d8fd2" opacity="0.7"/><rect x="340.21" y="52.71" width="0.9" height="0.9" fill="#6d8fd2" opacity="0.7"/><rect x="336.89" y="54.37" width="0.9" height="0.9" fill="#6d8fd2" opacity="0.7"/><rect x="341.79" y="48.33" width="0.9" height="0.9" fill="#6d8fd2" opacity="0.7"/><rect x="338.46" y="52.3" width="0.9" height="0.9" fill="#6d8fd2" opacity="0.7"/><rect x="340.63" y="48.98" width="0.9" height="0.9" fill="#6d8fd2" opacity="0.7"/><rect x="339.83" y="49.9" width="0.9" height="0.9" fill="#6d8fd2" opacity="0.7"/><rect x="342.13" y="49.93" width="0.9" height="0.9" fill="#6d8fd2" opacity="0.7"/><rect x="333.93" y="56.31" width="0.9" height="0.9" fill="#6d8fd2" opacity="0.7"/><rect x="337.64" y="54.65" width="0.9" height="0.9" fill="#6d8fd2" opacity="0.7"/><rect x="332.83" y="56.25" width="0.9" height="0.9" fill="#6d8fd2" opacity="0.7"/><rect x="335.87" y="56.33" width="0.9" height="0.9" fill="#6d8fd2" opacity="0.7"/><rect x="338.93" y="49.78" width="0.9" height="0.9" fill="#6d8fd2" opacity="0.7"/><rect x="335.79" y="55.53" width="0.9" height="0.9" fill="#6d8fd2" opacity="0.7"/><rect x="335.39" y="55.52" width="0.9" height="0.9" fill="#6d8fd2" opacity="0.7"/><rect x="343.08" y="48.48" width="0.9" height="0.9" fill="#6d8fd2" opacity="0.7"/><rect x="341.28" y="48.34" width="0.9" height="0.9" fill="#6d8fd2" opacity="0.7"/><rect x="339.07" y="51.94" width="0.9" height="0.9" fill="#6d8fd2" opacity="0.7"/><rect x="337.13" y="54.39" width="0.9" height="0.9" fill="#6d8fd2" opacity="0.7"/><rect x="341.9" y="46.55" width="0.9" height="0.9" fill="#6d8fd2" opacity="0.7"/><rect x="341.8" y="49.47" width="0.9" height="0.9" fill="#6d8fd2" opacity="0.7"/><rect x="339.02" y="50.82" width="0.9" height="0.9" fill="#6d8fd2" opacity="0.7"/><rect x="335.99" y="52.2" width="0.9" height="0.9" fill="#6d8fd2" opacity="0.7"/><rect x="336.51" y="54.3" width="0.9" height="0.9" fill="#6d8fd2" opacity="0.7"/><rect x="337" y="55.19" width="0.9" height="0.9" fill="#6d8fd2" opacity="0.7"/><rect x="344.43" y="44.95" width="0.9" height="0.9" fill="#6d8fd2" opacity="0.7"/><rect x="343.52" y="46.96" width="0.9" height="0.9" fill="#6d8fd2" opacity="0.7"/><rect x="343.41" y="45.21" width="0.9" height="0.9" fill="#6d8fd2" opacity="0.7"/><rect x="342.04" y="48.9" width="0.9" height="0.9" fill="#6d8fd2" opacity="0.7"/><rect x="342.9" y="45.43" width="0.9" height="0.9" fill="#6d8fd2" opacity="0.7"/><rect x="338.74" y="50.73" width="0.9" height="0.9" fill="#6d8fd2" opacity="0.7"/><rect x="337.63" y="54.39" width="0.9" height="0.9" fill="#6d8fd2" opacity="0.7"/><rect x="335.19" y="55.83" width="0.9" height="0.9" fill="#6d8fd2" opacity="0.7"/><rect x="335.43" y="57.82" width="0.9" height="0.9" fill="#6d8fd2" opacity="0.7"/><rect x="337.93" y="53.01" width="0.9" height="0.9" fill="#6d8fd2" opacity="0.7"/><rect x="334.21" y="55.44" width="0.9" height="0.9" fill="#6d8fd2" opacity="0.7"/><rect x="341.7" y="48.34" width="0.9" height="0.9" fill="#6d8fd2" opacity="0.7"/><rect x="339.82" y="51.03" width="0.9" height="0.9" fill="#6d8fd2" opacity="0.7"/><rect x="343.24" y="46.98" width="0.9" height="0.9" fill="#6d8fd2" opacity="0.7"/><rect x="344.83" y="45.6" width="0.9" height="0.9" fill="#6d8fd2" opacity="0.7"/><rect x="335.31" y="56.09" width="0.9" height="0.9" fill="#6d8fd2" opacity="0.7"/><rect x="335.06" y="55.39" width="0.9" height="0.9" fill="#6d8fd2" opacity="0.7"/><rect x="341.41" y="48.38" width="0.9" height="0.9" fill="#6d8fd2" opacity="0.7"/><rect x="337.43" y="53.76" width="0.9" height="0.9" fill="#6d8fd2" opacity="0.7"/><rect x="342.53" y="48.59" width="0.9" height="0.9" fill="#6d8fd2" opacity="0.7"/><rect x="339.17" y="52" width="0.9" height="0.9" fill="#6d8fd2" opacity="0.7"/><rect x="326.33" y="63.7" width="0.9" height="0.9" fill="#8fb0e0" opacity="0.8"/><rect x="326.93" y="61.15" width="0.9" height="0.9" fill="#8fb0e0" opacity="0.8"/><rect x="331.1" y="61" width="0.9" height="0.9" fill="#8fb0e0" opacity="0.8"/><rect x="330.31" y="61.92" width="0.9" height="0.9" fill="#8fb0e0" opacity="0.8"/><rect x="324.57" y="62.41" width="0.9" height="0.9" fill="#8fb0e0" opacity="0.8"/><rect x="327.41" y="63.72" width="0.9" height="0.9" fill="#8fb0e0" opacity="0.8"/><rect x="326.78" y="63.5" width="0.9" height="0.9" fill="#8fb0e0" opacity="0.8"/><rect x="328.12" y="60.17" width="0.9" height="0.9" fill="#8fb0e0" opacity="0.8"/><rect x="330.39" y="58.73" width="0.9" height="0.9" fill="#8fb0e0" opacity="0.8"/><rect x="330.09" y="59.3" width="0.9" height="0.9" fill="#8fb0e0" opacity="0.8"/>
<ellipse cx="333.55" cy="55.5" rx="1.7" ry="12.5" fill="#3a8fb0" opacity="0.6" filter="url(#bl3)"/>
<ellipse cx="333.55" cy="56.5" rx="1.3" ry="11" fill="#2a8f9a" opacity="0.85" filter="url(#bl3)"/>
<ellipse cx="333.55" cy="52" rx="1.1" ry="6" fill="#1c9f86" opacity="0.9"/>
<ellipse cx="333.55" cy="60.5" rx="1.1" ry="4" fill="#4caf50" opacity="0.85"/>
<ellipse cx="333.55" cy="66" rx="0.9" ry="3.5" fill="#5e9fd6" opacity="0.8"/>
<path d="M330.5 32.7H388.5V57.5H330.5Z" fill="none" stroke="#d5603a" stroke-width="0.95"/>
<path d="M330.5 57.5V74.3H338.5V57.5" fill="none" stroke="#d5603a" stroke-width="0.95"/>
<text x="353.75" y="48" font-size="6.3" fill="#333">Ki67<tspan font-size="4.6" dy="-2.3">+</tspan><tspan dy="2.3">:72%</tspan></text>
<text x="331.25" y="82.2" font-size="6.3" fill="#333">G<tspan font-size="3.8" dy="1.3">0</tspan><tspan dy="-1.3">:23%</tspan></text>
<text x="24.4" y="84.7" font-size="7.8" text-anchor="middle" fill="#333" textLength="12.6" lengthAdjust="spacingAndGlyphs" transform="rotate(-90 24.4 84.7)">Ki67</text>
<line x1="21.9" y1="129.2" x2="21.9" y2="100.5" stroke="#111" stroke-width="1"/>
<path d="M21.9 97L20.2 101.6H23.6Z" fill="#111"/>
<line x1="21.4" y1="129.2" x2="50" y2="129.2" stroke="#111" stroke-width="1"/>
<path d="M53.9 129.2L49.3 127.5V130.9Z" fill="#111"/>
<text x="57.1" y="131.6" font-size="7.7" fill="#333" textLength="45.8" lengthAdjust="spacingAndGlyphs">Hoechst 33342</text>
<text x="409.8" y="16.4" font-size="10.6" font-weight="bold" fill="#111" stroke="#111" stroke-width="0.35">B</text>
<line x1="445.4" y1="21.4" x2="445.4" y2="96.8" stroke="#1a1a1a" stroke-width="1.05"/>
<line x1="442.6" y1="96.2" x2="445.4" y2="96.2" stroke="#1a1a1a" stroke-width="0.9"/>
<text x="439" y="98.4" font-size="6.3" text-anchor="end" fill="#333">0</text>
<line x1="442.6" y1="78.1" x2="445.4" y2="78.1" stroke="#1a1a1a" stroke-width="0.9"/>
<text x="439" y="80.3" font-size="6.3" text-anchor="end" fill="#333">10</text>
<line x1="442.6" y1="60" x2="445.4" y2="60" stroke="#1a1a1a" stroke-width="0.9"/>
<text x="439" y="62.2" font-size="6.3" text-anchor="end" fill="#333">20</text>
<line x1="442.6" y1="41.9" x2="445.4" y2="41.9" stroke="#1a1a1a" stroke-width="0.9"/>
<text x="439" y="44.1" font-size="6.3" text-anchor="end" fill="#333">30</text>
<line x1="442.6" y1="23.8" x2="445.4" y2="23.8" stroke="#1a1a1a" stroke-width="0.9"/>
<text x="439" y="26" font-size="6.3" text-anchor="end" fill="#333">40</text>
<line x1="455.9" y1="40.45" x2="455.9" y2="45.52" stroke="#333" stroke-width="0.9"/>
<line x1="453.1" y1="40.45" x2="458.7" y2="40.45" stroke="#333" stroke-width="0.9"/>
<rect x="450.8" y="45.52" width="10.2" height="50.68" fill="#cc0a2f"/>
<line x1="471.6" y1="42.44" x2="471.6" y2="49.68" stroke="#333" stroke-width="0.9"/>
<line x1="468.8" y1="42.44" x2="474.4" y2="42.44" stroke="#333" stroke-width="0.9"/>
<rect x="466.5" y="49.68" width="10.2" height="46.52" fill="#1a4b8b"/>
<line x1="487" y1="38.46" x2="487" y2="41.36" stroke="#333" stroke-width="0.9"/>
<line x1="484.2" y1="38.46" x2="489.8" y2="38.46" stroke="#333" stroke-width="0.9"/>
<rect x="482.1" y="41.36" width="9.8" height="54.84" fill="#39a93a"/>
<line x1="503" y1="58.37" x2="503" y2="67.24" stroke="#333" stroke-width="0.9"/>
<line x1="500.2" y1="58.37" x2="505.8" y2="58.37" stroke="#333" stroke-width="0.9"/>
<rect x="498.1" y="67.24" width="9.8" height="28.96" fill="#161616"/>
<line x1="442.4" y1="96.2" x2="513.2" y2="96.2" stroke="#1a1a1a" stroke-width="1.2"/>
<line x1="455.9" y1="96.2" x2="455.9" y2="99.2" stroke="#333" stroke-width="0.9"/>
<line x1="471.6" y1="96.2" x2="471.6" y2="99.2" stroke="#333" stroke-width="0.9"/>
<line x1="487" y1="96.2" x2="487" y2="99.2" stroke="#333" stroke-width="0.9"/>
<line x1="503" y1="96.2" x2="503" y2="99.2" stroke="#333" stroke-width="0.9"/>
<line x1="455.6" y1="18.7" x2="502.6" y2="18.7" stroke="#555" stroke-width="0.8"/>
<line x1="455.6" y1="17.4" x2="455.6" y2="20" stroke="#555" stroke-width="0.8"/>
<line x1="502.6" y1="17.4" x2="502.6" y2="20" stroke="#555" stroke-width="0.8"/>
<text x="479.35" y="19.4" font-size="5.8" text-anchor="middle" font-weight="bold" letter-spacing="0.5">*</text>
<line x1="455.6" y1="27.5" x2="486.7" y2="27.5" stroke="#555" stroke-width="0.8"/>
<line x1="455.6" y1="26.2" x2="455.6" y2="28.8" stroke="#555" stroke-width="0.8"/>
<line x1="486.7" y1="26.2" x2="486.7" y2="28.8" stroke="#555" stroke-width="0.8"/>
<text x="471.15" y="26.9" font-size="6.3" text-anchor="middle" fill="#333">NS</text>
<line x1="455.6" y1="36" x2="469.7" y2="36" stroke="#555" stroke-width="0.8"/>
<line x1="455.6" y1="34.7" x2="455.6" y2="37.3" stroke="#555" stroke-width="0.8"/>
<line x1="469.7" y1="34.7" x2="469.7" y2="37.3" stroke="#555" stroke-width="0.8"/>
<text x="462.65" y="35.4" font-size="6.3" text-anchor="middle" fill="#333">NS</text>
<text x="459.1" y="105.4" font-size="7" text-anchor="end" textLength="10.11" lengthAdjust="spacingAndGlyphs" transform="rotate(-45 459.1 105.4)">WT</text>
<text x="474.8" y="105.4" font-size="7" text-anchor="end" textLength="36.25" lengthAdjust="spacingAndGlyphs" transform="rotate(-45 474.8 105.4)">β-cateninKO</text>
<text x="490.2" y="105.4" font-size="7" text-anchor="end" textLength="28.18" lengthAdjust="spacingAndGlyphs" transform="rotate(-45 490.2 105.4)">Hoxa9KO</text>
<text x="506.2" y="105.4" font-size="7" text-anchor="end" textLength="13.01" lengthAdjust="spacingAndGlyphs" transform="rotate(-45 506.2 105.4)">dKO</text>
<text x="427.6" y="56.6" font-size="8.5" text-anchor="middle" fill="#333" textLength="36.6" lengthAdjust="spacingAndGlyphs" transform="rotate(-90 427.6 56.6)">% LSK in G<tspan font-size="5.4" dy="1.6">0</tspan></text>
<text x="6.6" y="157.8" font-size="10.6" font-weight="bold" fill="#111" stroke="#111" stroke-width="0.35">C</text>
<line x1="50.4" y1="173.4" x2="50.4" y2="248.9" stroke="#1a1a1a" stroke-width="1.05"/>
<line x1="47.6" y1="248.3" x2="50.4" y2="248.3" stroke="#1a1a1a" stroke-width="0.9"/>
<text x="44" y="250.5" font-size="6.3" text-anchor="end" fill="#333">0</text>
<line x1="47.6" y1="233.8" x2="50.4" y2="233.8" stroke="#1a1a1a" stroke-width="0.9"/>
<text x="44" y="236" font-size="6.3" text-anchor="end" fill="#333">20</text>
<line x1="47.6" y1="219.3" x2="50.4" y2="219.3" stroke="#1a1a1a" stroke-width="0.9"/>
<text x="44" y="221.5" font-size="6.3" text-anchor="end" fill="#333">40</text>
<line x1="47.6" y1="204.8" x2="50.4" y2="204.8" stroke="#1a1a1a" stroke-width="0.9"/>
<text x="44" y="207" font-size="6.3" text-anchor="end" fill="#333">60</text>
<line x1="47.6" y1="190.3" x2="50.4" y2="190.3" stroke="#1a1a1a" stroke-width="0.9"/>
<text x="44" y="192.5" font-size="6.3" text-anchor="end" fill="#333">80</text>
<line x1="47.6" y1="175.8" x2="50.4" y2="175.8" stroke="#1a1a1a" stroke-width="0.9"/>
<text x="44" y="178" font-size="6.3" text-anchor="end" fill="#333">100</text>
<line x1="61.2" y1="200.09" x2="61.2" y2="201.9" stroke="#333" stroke-width="0.9"/>
<line x1="58.4" y1="200.09" x2="64" y2="200.09" stroke="#333" stroke-width="0.9"/>
<rect x="56.1" y="201.9" width="10.2" height="46.4" fill="#cc0a2f"/>
<line x1="77" y1="200.09" x2="77" y2="202.62" stroke="#333" stroke-width="0.9"/>
<line x1="74.2" y1="200.09" x2="79.8" y2="200.09" stroke="#333" stroke-width="0.9"/>
<rect x="72" y="202.62" width="10" height="45.68" fill="#1a4b8b"/>
<line x1="93" y1="200.45" x2="93" y2="201.9" stroke="#333" stroke-width="0.9"/>
<line x1="90.2" y1="200.45" x2="95.8" y2="200.45" stroke="#333" stroke-width="0.9"/>
<rect x="87.8" y="201.9" width="10.4" height="46.4" fill="#39a93a"/>
<line x1="109.15" y1="190.66" x2="109.15" y2="193.56" stroke="#333" stroke-width="0.9"/>
<line x1="106.35" y1="190.66" x2="111.95" y2="190.66" stroke="#333" stroke-width="0.9"/>
<rect x="104" y="193.56" width="10.3" height="54.74" fill="#161616"/>
<line x1="47.4" y1="248.3" x2="120" y2="248.3" stroke="#1a1a1a" stroke-width="1.2"/>
<line x1="61.2" y1="248.3" x2="61.2" y2="251.3" stroke="#333" stroke-width="0.9"/>
<line x1="77" y1="248.3" x2="77" y2="251.3" stroke="#333" stroke-width="0.9"/>
<line x1="93" y1="248.3" x2="93" y2="251.3" stroke="#333" stroke-width="0.9"/>
<line x1="109.15" y1="248.3" x2="109.15" y2="251.3" stroke="#333" stroke-width="0.9"/>
<line x1="60.8" y1="163.1" x2="109" y2="163.1" stroke="#555" stroke-width="0.8"/>
<line x1="60.8" y1="161.8" x2="60.8" y2="164.4" stroke="#555" stroke-width="0.8"/>
<line x1="109" y1="161.8" x2="109" y2="164.4" stroke="#555" stroke-width="0.8"/>
<text x="85.15" y="163.8" font-size="5.8" text-anchor="middle" font-weight="bold" letter-spacing="0.5">*</text>
<line x1="77.5" y1="169.4" x2="109" y2="169.4" stroke="#555" stroke-width="0.8"/>
<line x1="77.5" y1="168.1" x2="77.5" y2="170.7" stroke="#555" stroke-width="0.8"/>
<line x1="109" y1="168.1" x2="109" y2="170.7" stroke="#555" stroke-width="0.8"/>
<text x="93.5" y="170.1" font-size="5.8" text-anchor="middle" font-weight="bold" letter-spacing="0.5">*</text>
<line x1="60.8" y1="179.2" x2="92.5" y2="179.2" stroke="#555" stroke-width="0.8"/>
<line x1="60.8" y1="177.9" x2="60.8" y2="180.5" stroke="#555" stroke-width="0.8"/>
<line x1="92.5" y1="177.9" x2="92.5" y2="180.5" stroke="#555" stroke-width="0.8"/>
<text x="76.65" y="178.6" font-size="6.3" text-anchor="middle" fill="#333">NS</text>
<line x1="60.8" y1="188.7" x2="75.2" y2="188.7" stroke="#555" stroke-width="0.8"/>
<line x1="60.8" y1="187.4" x2="60.8" y2="190" stroke="#555" stroke-width="0.8"/>
<line x1="75.2" y1="187.4" x2="75.2" y2="190" stroke="#555" stroke-width="0.8"/>
<text x="68" y="188.1" font-size="6.3" text-anchor="middle" fill="#333">NS</text>
<line x1="78" y1="188.7" x2="92.5" y2="188.7" stroke="#555" stroke-width="0.8"/>
<line x1="78" y1="187.4" x2="78" y2="190" stroke="#555" stroke-width="0.8"/>
<line x1="92.5" y1="187.4" x2="92.5" y2="190" stroke="#555" stroke-width="0.8"/>
<text x="85.25" y="188.1" font-size="6.3" text-anchor="middle" fill="#333">NS</text>
<line x1="94.4" y1="188.7" x2="109" y2="188.7" stroke="#555" stroke-width="0.8"/>
<line x1="94.4" y1="187.4" x2="94.4" y2="190" stroke="#555" stroke-width="0.8"/>
<line x1="109" y1="187.4" x2="109" y2="190" stroke="#555" stroke-width="0.8"/>
<text x="101.95" y="189.4" font-size="5.8" text-anchor="middle" font-weight="bold" letter-spacing="0.5">*</text>
<text x="64.2" y="258" font-size="7" text-anchor="end" textLength="10.11" lengthAdjust="spacingAndGlyphs" transform="rotate(-45 64.2 258)">WT</text>
<text x="80.1" y="258" font-size="7" text-anchor="end" textLength="36.25" lengthAdjust="spacingAndGlyphs" transform="rotate(-45 80.1 258)">β-cateninKO</text>
<text x="96.2" y="258" font-size="7" text-anchor="end" textLength="28.18" lengthAdjust="spacingAndGlyphs" transform="rotate(-45 96.2 258)">Hoxa9KO</text>
<text x="112.2" y="258" font-size="7" text-anchor="end" textLength="13.01" lengthAdjust="spacingAndGlyphs" transform="rotate(-45 112.2 258)">dKO</text>
<text x="28.4" y="212.6" font-size="8.5" text-anchor="middle" fill="#333" textLength="25.5" lengthAdjust="spacingAndGlyphs" transform="rotate(-90 28.4 212.6)">% Ki67<tspan font-size="5.4" dy="-3.2">+</tspan></text>
<text x="134.6" y="157.8" font-size="10.6" font-weight="bold" fill="#111" stroke="#111" stroke-width="0.35">D</text>
<line x1="175.4" y1="171.35" x2="175.4" y2="248.9" stroke="#1a1a1a" stroke-width="1.05"/>
<line x1="172.6" y1="248.3" x2="175.4" y2="248.3" stroke="#1a1a1a" stroke-width="0.9"/>
<text x="169" y="250.5" font-size="6.3" text-anchor="end" fill="#333">0</text>
<line x1="172.6" y1="223.45" x2="175.4" y2="223.45" stroke="#1a1a1a" stroke-width="0.9"/>
<text x="169" y="225.65" font-size="6.3" text-anchor="end" fill="#333">5</text>
<line x1="172.6" y1="198.6" x2="175.4" y2="198.6" stroke="#1a1a1a" stroke-width="0.9"/>
<text x="169" y="200.8" font-size="6.3" text-anchor="end" fill="#333">10</text>
<line x1="172.6" y1="173.75" x2="175.4" y2="173.75" stroke="#1a1a1a" stroke-width="0.9"/>
<text x="169" y="175.95" font-size="6.3" text-anchor="end" fill="#333">15</text>
<line x1="186.6" y1="206.06" x2="186.6" y2="212.52" stroke="#333" stroke-width="0.9"/>
<line x1="183.8" y1="206.06" x2="189.4" y2="206.06" stroke="#333" stroke-width="0.9"/>
<rect x="181.3" y="212.52" width="10.6" height="35.78" fill="#cc0a2f"/>
<line x1="203.3" y1="218.73" x2="203.3" y2="219.47" stroke="#333" stroke-width="0.9"/>
<line x1="200.5" y1="218.73" x2="206.1" y2="218.73" stroke="#333" stroke-width="0.9"/>
<rect x="198.1" y="219.47" width="10.4" height="28.83" fill="#1a4b8b"/>
<line x1="220.2" y1="222.95" x2="220.2" y2="224.94" stroke="#333" stroke-width="0.9"/>
<line x1="217.4" y1="222.95" x2="223" y2="222.95" stroke="#333" stroke-width="0.9"/>
<rect x="215" y="224.94" width="10.4" height="23.36" fill="#39a93a"/>
<line x1="237.65" y1="184.68" x2="237.65" y2="188.66" stroke="#333" stroke-width="0.9"/>
<line x1="234.85" y1="184.68" x2="240.45" y2="184.68" stroke="#333" stroke-width="0.9"/>
<rect x="232.8" y="188.66" width="9.7" height="59.64" fill="#161616"/>
<line x1="172.4" y1="248.3" x2="249" y2="248.3" stroke="#1a1a1a" stroke-width="1.2"/>
<line x1="186.6" y1="248.3" x2="186.6" y2="251.3" stroke="#333" stroke-width="0.9"/>
<line x1="203.3" y1="248.3" x2="203.3" y2="251.3" stroke="#333" stroke-width="0.9"/>
<line x1="220.2" y1="248.3" x2="220.2" y2="251.3" stroke="#333" stroke-width="0.9"/>
<line x1="237.65" y1="248.3" x2="237.65" y2="251.3" stroke="#333" stroke-width="0.9"/>
<line x1="186.6" y1="160.7" x2="237.4" y2="160.7" stroke="#555" stroke-width="0.8"/>
<line x1="186.6" y1="159.4" x2="186.6" y2="162" stroke="#555" stroke-width="0.8"/>
<line x1="237.4" y1="159.4" x2="237.4" y2="162" stroke="#555" stroke-width="0.8"/>
<text x="212.25" y="161.4" font-size="5.8" text-anchor="middle" font-weight="bold" letter-spacing="0.5">*</text>
<line x1="203.9" y1="168.1" x2="237.4" y2="168.1" stroke="#555" stroke-width="0.8"/>
<line x1="203.9" y1="166.8" x2="203.9" y2="169.4" stroke="#555" stroke-width="0.8"/>
<line x1="237.4" y1="166.8" x2="237.4" y2="169.4" stroke="#555" stroke-width="0.8"/>
<text x="220.9" y="168.8" font-size="5.8" text-anchor="middle" font-weight="bold" letter-spacing="0.5">***</text>
<line x1="186.6" y1="176.9" x2="202" y2="176.9" stroke="#555" stroke-width="0.8"/>
<line x1="186.6" y1="175.6" x2="186.6" y2="178.2" stroke="#555" stroke-width="0.8"/>
<line x1="202" y1="175.6" x2="202" y2="178.2" stroke="#555" stroke-width="0.8"/>
<text x="194.3" y="176.3" font-size="6.3" text-anchor="middle" fill="#333">NS</text>
<line x1="204" y1="176.9" x2="219" y2="176.9" stroke="#555" stroke-width="0.8"/>
<line x1="204" y1="175.6" x2="204" y2="178.2" stroke="#555" stroke-width="0.8"/>
<line x1="219" y1="175.6" x2="219" y2="178.2" stroke="#555" stroke-width="0.8"/>
<line x1="221" y1="176.9" x2="237.4" y2="176.9" stroke="#555" stroke-width="0.8"/>
<line x1="221" y1="175.6" x2="221" y2="178.2" stroke="#555" stroke-width="0.8"/>
<line x1="237.4" y1="175.6" x2="237.4" y2="178.2" stroke="#555" stroke-width="0.8"/>
<text x="229.45" y="177.6" font-size="5.8" text-anchor="middle" font-weight="bold" letter-spacing="0.5">***</text>
<line x1="186.6" y1="187" x2="219" y2="187" stroke="#555" stroke-width="0.8"/>
<line x1="186.6" y1="185.7" x2="186.6" y2="188.3" stroke="#555" stroke-width="0.8"/>
<line x1="219" y1="185.7" x2="219" y2="188.3" stroke="#555" stroke-width="0.8"/>
<text x="202.8" y="186.4" font-size="6.3" text-anchor="middle" fill="#333">NS</text>
<text x="189.7" y="258" font-size="7" text-anchor="end" textLength="10.11" lengthAdjust="spacingAndGlyphs" transform="rotate(-45 189.7 258)">WT</text>
<text x="206.5" y="258" font-size="7" text-anchor="end" textLength="36.25" lengthAdjust="spacingAndGlyphs" transform="rotate(-45 206.5 258)">β-cateninKO</text>
<text x="223.4" y="258" font-size="7" text-anchor="end" textLength="28.18" lengthAdjust="spacingAndGlyphs" transform="rotate(-45 223.4 258)">Hoxa9KO</text>
<text x="240.8" y="258" font-size="7" text-anchor="end" textLength="13.01" lengthAdjust="spacingAndGlyphs" transform="rotate(-45 240.8 258)">dKO</text>
<text x="158" y="210.3" font-size="8.5" text-anchor="middle" fill="#333" textLength="26.9" lengthAdjust="spacingAndGlyphs" transform="rotate(-90 158 210.3)">% BrdU<tspan font-size="5.4" dy="-3.2">+</tspan></text>
<text x="262.6" y="158.2" font-size="10.6" font-weight="bold" fill="#111" stroke="#111" stroke-width="0.35">E</text>
<line x1="298.9" y1="169.9" x2="298.9" y2="249.2" stroke="#1a1a1a" stroke-width="1.05"/>
<line x1="296.1" y1="248.6" x2="298.9" y2="248.6" stroke="#1a1a1a" stroke-width="0.9"/>
<text x="292.5" y="250.8" font-size="6.3" text-anchor="end" fill="#333">0</text>
<line x1="296.1" y1="229.53" x2="298.9" y2="229.53" stroke="#1a1a1a" stroke-width="0.9"/>
<text x="292.5" y="231.72" font-size="6.3" text-anchor="end" fill="#333">5</text>
<line x1="296.1" y1="210.45" x2="298.9" y2="210.45" stroke="#1a1a1a" stroke-width="0.9"/>
<text x="292.5" y="212.65" font-size="6.3" text-anchor="end" fill="#333">10</text>
<line x1="296.1" y1="191.38" x2="298.9" y2="191.38" stroke="#1a1a1a" stroke-width="0.9"/>
<text x="292.5" y="193.57" font-size="6.3" text-anchor="end" fill="#333">15</text>
<line x1="296.1" y1="172.3" x2="298.9" y2="172.3" stroke="#1a1a1a" stroke-width="0.9"/>
<text x="292.5" y="174.5" font-size="6.3" text-anchor="end" fill="#333">20</text>
<line x1="295.9" y1="248.6" x2="375.4" y2="248.6" stroke="#1a1a1a" stroke-width="1.2"/>
<line x1="310.6" y1="248.6" x2="310.6" y2="251.6" stroke="#333" stroke-width="0.9"/>
<circle cx="315.27" cy="226.12" r="0.7" fill="none" stroke="#de6a84" stroke-width="0.45"/><circle cx="311.57" cy="225.58" r="0.7" fill="none" stroke="#de6a84" stroke-width="0.45"/><circle cx="311.43" cy="232.47" r="0.7" fill="none" stroke="#de6a84" stroke-width="0.45"/><circle cx="308.7" cy="219.25" r="0.7" fill="none" stroke="#de6a84" stroke-width="0.45"/><circle cx="315.7" cy="221.37" r="0.7" fill="none" stroke="#de6a84" stroke-width="0.45"/><circle cx="305.31" cy="222.44" r="0.7" fill="none" stroke="#de6a84" stroke-width="0.45"/><circle cx="307.13" cy="224.11" r="0.7" fill="none" stroke="#de6a84" stroke-width="0.45"/><circle cx="314.41" cy="225.5" r="0.7" fill="none" stroke="#de6a84" stroke-width="0.45"/><circle cx="310.6" cy="223.76" r="0.7" fill="none" stroke="#de6a84" stroke-width="0.45"/><circle cx="308.41" cy="219.68" r="0.7" fill="none" stroke="#de6a84" stroke-width="0.45"/><circle cx="310.12" cy="199.27" r="0.7" fill="none" stroke="#de6a84" stroke-width="0.45"/><circle cx="306.66" cy="229.6" r="0.7" fill="none" stroke="#de6a84" stroke-width="0.45"/><circle cx="313.56" cy="216.98" r="0.7" fill="none" stroke="#de6a84" stroke-width="0.45"/><circle cx="310.41" cy="239.25" r="0.7" fill="none" stroke="#de6a84" stroke-width="0.45"/><circle cx="311.34" cy="236.8" r="0.7" fill="none" stroke="#de6a84" stroke-width="0.45"/><circle cx="308.89" cy="228.03" r="0.7" fill="none" stroke="#de6a84" stroke-width="0.45"/><circle cx="307.46" cy="231.03" r="0.7" fill="none" stroke="#de6a84" stroke-width="0.45"/><circle cx="310.31" cy="233.3" r="0.7" fill="none" stroke="#de6a84" stroke-width="0.45"/><circle cx="309.62" cy="236.81" r="0.7" fill="none" stroke="#de6a84" stroke-width="0.45"/><circle cx="309.74" cy="222.03" r="0.7" fill="none" stroke="#de6a84" stroke-width="0.45"/><circle cx="314.86" cy="229.75" r="0.7" fill="none" stroke="#de6a84" stroke-width="0.45"/><circle cx="313.92" cy="217.14" r="0.7" fill="none" stroke="#de6a84" stroke-width="0.45"/><circle cx="313.5" cy="230.7" r="0.7" fill="none" stroke="#de6a84" stroke-width="0.45"/><circle cx="315.89" cy="222.11" r="0.7" fill="none" stroke="#de6a84" stroke-width="0.45"/><circle cx="313.08" cy="229.67" r="0.7" fill="none" stroke="#de6a84" stroke-width="0.45"/><circle cx="306.2" cy="227.92" r="0.7" fill="none" stroke="#de6a84" stroke-width="0.45"/><circle cx="309.69" cy="235.5" r="0.7" fill="none" stroke="#de6a84" stroke-width="0.45"/><circle cx="310.09" cy="222.05" r="0.7" fill="none" stroke="#de6a84" stroke-width="0.45"/><circle cx="310.91" cy="206.97" r="0.7" fill="none" stroke="#de6a84" stroke-width="0.45"/><circle cx="307.66" cy="216.89" r="0.7" fill="none" stroke="#de6a84" stroke-width="0.45"/><circle cx="312.95" cy="228.74" r="0.7" fill="none" stroke="#de6a84" stroke-width="0.45"/><circle cx="306.36" cy="221.76" r="0.7" fill="none" stroke="#de6a84" stroke-width="0.45"/><circle cx="309.57" cy="234.69" r="0.7" fill="none" stroke="#de6a84" stroke-width="0.45"/><circle cx="309.58" cy="209.15" r="0.7" fill="none" stroke="#de6a84" stroke-width="0.45"/><circle cx="309.46" cy="236.86" r="0.7" fill="none" stroke="#de6a84" stroke-width="0.45"/><circle cx="312.97" cy="232.17" r="0.7" fill="none" stroke="#de6a84" stroke-width="0.45"/><circle cx="315.11" cy="222.09" r="0.7" fill="none" stroke="#de6a84" stroke-width="0.45"/><circle cx="306.73" cy="230.02" r="0.7" fill="none" stroke="#de6a84" stroke-width="0.45"/><circle cx="311.16" cy="231.09" r="0.7" fill="none" stroke="#de6a84" stroke-width="0.45"/><circle cx="313.39" cy="231.78" r="0.7" fill="none" stroke="#de6a84" stroke-width="0.45"/><circle cx="307.59" cy="216.67" r="0.7" fill="none" stroke="#de6a84" stroke-width="0.45"/><circle cx="312.94" cy="220.33" r="0.7" fill="none" stroke="#de6a84" stroke-width="0.45"/><circle cx="311.52" cy="235.11" r="0.7" fill="none" stroke="#de6a84" stroke-width="0.45"/><circle cx="312.07" cy="204.43" r="0.7" fill="none" stroke="#de6a84" stroke-width="0.45"/><circle cx="313.91" cy="230.63" r="0.7" fill="none" stroke="#de6a84" stroke-width="0.45"/><circle cx="312.49" cy="212.99" r="0.7" fill="none" stroke="#de6a84" stroke-width="0.45"/><circle cx="311.16" cy="207.95" r="0.7" fill="none" stroke="#de6a84" stroke-width="0.45"/><circle cx="311.69" cy="228.41" r="0.7" fill="none" stroke="#de6a84" stroke-width="0.45"/><circle cx="311.9" cy="236.89" r="0.7" fill="none" stroke="#de6a84" stroke-width="0.45"/><circle cx="311.31" cy="230.07" r="0.7" fill="none" stroke="#de6a84" stroke-width="0.45"/><circle cx="306.74" cy="229.45" r="0.7" fill="none" stroke="#de6a84" stroke-width="0.45"/><circle cx="307.74" cy="221.49" r="0.7" fill="none" stroke="#de6a84" stroke-width="0.45"/><circle cx="311.63" cy="217.93" r="0.7" fill="none" stroke="#de6a84" stroke-width="0.45"/><circle cx="307.05" cy="214.53" r="0.7" fill="none" stroke="#de6a84" stroke-width="0.45"/><circle cx="308.6" cy="232.19" r="0.7" fill="none" stroke="#de6a84" stroke-width="0.45"/><circle cx="314.51" cy="219.91" r="0.7" fill="none" stroke="#de6a84" stroke-width="0.45"/><circle cx="308.26" cy="231.15" r="0.7" fill="none" stroke="#de6a84" stroke-width="0.45"/><circle cx="314.49" cy="229.31" r="0.7" fill="none" stroke="#de6a84" stroke-width="0.45"/><circle cx="311.16" cy="213.4" r="0.7" fill="none" stroke="#de6a84" stroke-width="0.45"/><circle cx="310.56" cy="227.52" r="0.7" fill="none" stroke="#de6a84" stroke-width="0.45"/><circle cx="310.1" cy="228.24" r="0.7" fill="none" stroke="#de6a84" stroke-width="0.45"/><circle cx="309.74" cy="228.46" r="0.7" fill="none" stroke="#de6a84" stroke-width="0.45"/><circle cx="308.7" cy="220.58" r="0.7" fill="none" stroke="#de6a84" stroke-width="0.45"/><circle cx="305.37" cy="225.32" r="0.7" fill="none" stroke="#de6a84" stroke-width="0.45"/><circle cx="309.05" cy="216.16" r="0.7" fill="none" stroke="#de6a84" stroke-width="0.45"/><circle cx="307.65" cy="232.69" r="0.7" fill="none" stroke="#de6a84" stroke-width="0.45"/><circle cx="307.49" cy="217.21" r="0.7" fill="none" stroke="#de6a84" stroke-width="0.45"/><circle cx="312.29" cy="226.62" r="0.7" fill="none" stroke="#de6a84" stroke-width="0.45"/><circle cx="310.34" cy="220.89" r="0.7" fill="none" stroke="#de6a84" stroke-width="0.45"/><circle cx="307.05" cy="225.97" r="0.7" fill="none" stroke="#de6a84" stroke-width="0.45"/><circle cx="312.47" cy="229.21" r="0.7" fill="none" stroke="#de6a84" stroke-width="0.45"/><circle cx="313.46" cy="223.77" r="0.7" fill="none" stroke="#de6a84" stroke-width="0.45"/><circle cx="313.78" cy="231.08" r="0.7" fill="none" stroke="#de6a84" stroke-width="0.45"/><circle cx="310.13" cy="220.46" r="0.7" fill="none" stroke="#de6a84" stroke-width="0.45"/><circle cx="310.36" cy="191.73" r="0.7" fill="none" stroke="#de6a84" stroke-width="0.45"/><circle cx="312.74" cy="214.42" r="0.7" fill="none" stroke="#de6a84" stroke-width="0.45"/><circle cx="311.31" cy="208.51" r="0.7" fill="none" stroke="#de6a84" stroke-width="0.45"/><circle cx="311.59" cy="236.12" r="0.7" fill="none" stroke="#de6a84" stroke-width="0.45"/><circle cx="308.32" cy="215.84" r="0.7" fill="none" stroke="#de6a84" stroke-width="0.45"/><circle cx="314.17" cy="217.3" r="0.7" fill="none" stroke="#de6a84" stroke-width="0.45"/><circle cx="307.48" cy="214.92" r="0.7" fill="none" stroke="#de6a84" stroke-width="0.45"/><circle cx="313.53" cy="226.44" r="0.7" fill="none" stroke="#de6a84" stroke-width="0.45"/><circle cx="314.06" cy="224.76" r="0.7" fill="none" stroke="#de6a84" stroke-width="0.45"/><circle cx="312.91" cy="230.86" r="0.7" fill="none" stroke="#de6a84" stroke-width="0.45"/><circle cx="310.74" cy="230.08" r="0.7" fill="none" stroke="#de6a84" stroke-width="0.45"/><circle cx="310.98" cy="191.64" r="0.7" fill="none" stroke="#de6a84" stroke-width="0.45"/><circle cx="312.53" cy="207.25" r="0.7" fill="none" stroke="#de6a84" stroke-width="0.45"/><circle cx="310.8" cy="231.29" r="0.7" fill="none" stroke="#de6a84" stroke-width="0.45"/><circle cx="311.32" cy="233.7" r="0.7" fill="none" stroke="#de6a84" stroke-width="0.45"/><circle cx="311.25" cy="222.3" r="0.7" fill="none" stroke="#de6a84" stroke-width="0.45"/><circle cx="314" cy="228.68" r="0.7" fill="none" stroke="#de6a84" stroke-width="0.45"/><circle cx="313.37" cy="215.75" r="0.7" fill="none" stroke="#de6a84" stroke-width="0.45"/><circle cx="310.86" cy="204.45" r="0.7" fill="none" stroke="#de6a84" stroke-width="0.45"/><circle cx="310.62" cy="232.46" r="0.7" fill="none" stroke="#de6a84" stroke-width="0.45"/><circle cx="315.77" cy="222.9" r="0.7" fill="none" stroke="#de6a84" stroke-width="0.45"/><circle cx="313.97" cy="224.17" r="0.7" fill="none" stroke="#de6a84" stroke-width="0.45"/><circle cx="312.69" cy="222.66" r="0.7" fill="none" stroke="#de6a84" stroke-width="0.45"/><circle cx="310.27" cy="235.16" r="0.7" fill="none" stroke="#de6a84" stroke-width="0.45"/><circle cx="307.39" cy="230.26" r="0.7" fill="none" stroke="#de6a84" stroke-width="0.45"/><circle cx="314.35" cy="229.36" r="0.7" fill="none" stroke="#de6a84" stroke-width="0.45"/><circle cx="307.15" cy="225.07" r="0.7" fill="none" stroke="#de6a84" stroke-width="0.45"/><circle cx="309.83" cy="234.57" r="0.7" fill="none" stroke="#de6a84" stroke-width="0.45"/><circle cx="306.98" cy="229.6" r="0.7" fill="none" stroke="#de6a84" stroke-width="0.45"/><circle cx="310.71" cy="220.32" r="0.7" fill="none" stroke="#de6a84" stroke-width="0.45"/><circle cx="310.9" cy="228.76" r="0.7" fill="none" stroke="#de6a84" stroke-width="0.45"/><circle cx="310.6" cy="189.09" r="0.6" fill="#de6a84"/><circle cx="310.6" cy="197.1" r="0.6" fill="#de6a84"/>
<line x1="304.7" y1="224.57" x2="316.5" y2="224.57" stroke="#111" stroke-width="1.5"/>
<line x1="328.3" y1="248.6" x2="328.3" y2="251.6" stroke="#333" stroke-width="0.9"/>
<circle cx="327.34" cy="223.16" r="0.7" fill="none" stroke="#3b70b2" stroke-width="0.45"/><circle cx="324.99" cy="220.92" r="0.7" fill="none" stroke="#3b70b2" stroke-width="0.45"/><circle cx="328.58" cy="214.7" r="0.7" fill="none" stroke="#3b70b2" stroke-width="0.45"/><circle cx="329.76" cy="201.24" r="0.7" fill="none" stroke="#3b70b2" stroke-width="0.45"/><circle cx="329.31" cy="234.27" r="0.7" fill="none" stroke="#3b70b2" stroke-width="0.45"/><circle cx="327" cy="209.64" r="0.7" fill="none" stroke="#3b70b2" stroke-width="0.45"/><circle cx="332.05" cy="210.77" r="0.7" fill="none" stroke="#3b70b2" stroke-width="0.45"/><circle cx="327.4" cy="233.57" r="0.7" fill="none" stroke="#3b70b2" stroke-width="0.45"/><circle cx="324.85" cy="227.09" r="0.7" fill="none" stroke="#3b70b2" stroke-width="0.45"/><circle cx="323.57" cy="226.22" r="0.7" fill="none" stroke="#3b70b2" stroke-width="0.45"/><circle cx="329.87" cy="233.46" r="0.7" fill="none" stroke="#3b70b2" stroke-width="0.45"/><circle cx="328.33" cy="221.12" r="0.7" fill="none" stroke="#3b70b2" stroke-width="0.45"/><circle cx="323.83" cy="217.4" r="0.7" fill="none" stroke="#3b70b2" stroke-width="0.45"/><circle cx="329.06" cy="219.67" r="0.7" fill="none" stroke="#3b70b2" stroke-width="0.45"/><circle cx="325.74" cy="227.87" r="0.7" fill="none" stroke="#3b70b2" stroke-width="0.45"/><circle cx="326.43" cy="224.08" r="0.7" fill="none" stroke="#3b70b2" stroke-width="0.45"/><circle cx="327.52" cy="222.63" r="0.7" fill="none" stroke="#3b70b2" stroke-width="0.45"/><circle cx="330.52" cy="219.75" r="0.7" fill="none" stroke="#3b70b2" stroke-width="0.45"/><circle cx="327.9" cy="213.48" r="0.7" fill="none" stroke="#3b70b2" stroke-width="0.45"/><circle cx="325.57" cy="213.87" r="0.7" fill="none" stroke="#3b70b2" stroke-width="0.45"/><circle cx="325.39" cy="230.88" r="0.7" fill="none" stroke="#3b70b2" stroke-width="0.45"/><circle cx="329.34" cy="217.62" r="0.7" fill="none" stroke="#3b70b2" stroke-width="0.45"/><circle cx="331.43" cy="217.04" r="0.7" fill="none" stroke="#3b70b2" stroke-width="0.45"/><circle cx="329.21" cy="195.14" r="0.7" fill="none" stroke="#3b70b2" stroke-width="0.45"/><circle cx="329.83" cy="233.18" r="0.7" fill="none" stroke="#3b70b2" stroke-width="0.45"/><circle cx="329.53" cy="203.18" r="0.7" fill="none" stroke="#3b70b2" stroke-width="0.45"/><circle cx="324.21" cy="226.64" r="0.7" fill="none" stroke="#3b70b2" stroke-width="0.45"/><circle cx="323.46" cy="226.07" r="0.7" fill="none" stroke="#3b70b2" stroke-width="0.45"/><circle cx="329.41" cy="227.44" r="0.7" fill="none" stroke="#3b70b2" stroke-width="0.45"/><circle cx="329.94" cy="216.98" r="0.7" fill="none" stroke="#3b70b2" stroke-width="0.45"/><circle cx="327.1" cy="218.9" r="0.7" fill="none" stroke="#3b70b2" stroke-width="0.45"/><circle cx="330.49" cy="202.96" r="0.7" fill="none" stroke="#3b70b2" stroke-width="0.45"/><circle cx="327.35" cy="215.57" r="0.7" fill="none" stroke="#3b70b2" stroke-width="0.45"/><circle cx="325.58" cy="223.72" r="0.7" fill="none" stroke="#3b70b2" stroke-width="0.45"/><circle cx="328.33" cy="201.33" r="0.7" fill="none" stroke="#3b70b2" stroke-width="0.45"/><circle cx="324.24" cy="213.81" r="0.7" fill="none" stroke="#3b70b2" stroke-width="0.45"/><circle cx="328.25" cy="222.08" r="0.7" fill="none" stroke="#3b70b2" stroke-width="0.45"/><circle cx="333.19" cy="219.46" r="0.7" fill="none" stroke="#3b70b2" stroke-width="0.45"/><circle cx="329.35" cy="224.18" r="0.7" fill="none" stroke="#3b70b2" stroke-width="0.45"/><circle cx="329.95" cy="224.49" r="0.7" fill="none" stroke="#3b70b2" stroke-width="0.45"/><circle cx="330.7" cy="220.06" r="0.7" fill="none" stroke="#3b70b2" stroke-width="0.45"/><circle cx="329.05" cy="234.65" r="0.7" fill="none" stroke="#3b70b2" stroke-width="0.45"/><circle cx="328.17" cy="206.58" r="0.7" fill="none" stroke="#3b70b2" stroke-width="0.45"/><circle cx="330.36" cy="214.51" r="0.7" fill="none" stroke="#3b70b2" stroke-width="0.45"/><circle cx="328.88" cy="237.84" r="0.7" fill="none" stroke="#3b70b2" stroke-width="0.45"/><circle cx="329.66" cy="219.48" r="0.7" fill="none" stroke="#3b70b2" stroke-width="0.45"/><circle cx="323.3" cy="222.43" r="0.7" fill="none" stroke="#3b70b2" stroke-width="0.45"/><circle cx="327.66" cy="220.97" r="0.7" fill="none" stroke="#3b70b2" stroke-width="0.45"/><circle cx="325.97" cy="215.83" r="0.7" fill="none" stroke="#3b70b2" stroke-width="0.45"/><circle cx="331.33" cy="219.04" r="0.7" fill="none" stroke="#3b70b2" stroke-width="0.45"/><circle cx="332.19" cy="226.03" r="0.7" fill="none" stroke="#3b70b2" stroke-width="0.45"/><circle cx="327.55" cy="205.34" r="0.7" fill="none" stroke="#3b70b2" stroke-width="0.45"/><circle cx="328.67" cy="231.29" r="0.7" fill="none" stroke="#3b70b2" stroke-width="0.45"/><circle cx="330.9" cy="216.99" r="0.7" fill="none" stroke="#3b70b2" stroke-width="0.45"/><circle cx="332.54" cy="227.61" r="0.7" fill="none" stroke="#3b70b2" stroke-width="0.45"/><circle cx="329.41" cy="227.42" r="0.7" fill="none" stroke="#3b70b2" stroke-width="0.45"/><circle cx="326.43" cy="232.75" r="0.7" fill="none" stroke="#3b70b2" stroke-width="0.45"/><circle cx="326.92" cy="219.12" r="0.7" fill="none" stroke="#3b70b2" stroke-width="0.45"/><circle cx="326.55" cy="221.96" r="0.7" fill="none" stroke="#3b70b2" stroke-width="0.45"/><circle cx="329.58" cy="203.61" r="0.7" fill="none" stroke="#3b70b2" stroke-width="0.45"/><circle cx="326.37" cy="228.69" r="0.7" fill="none" stroke="#3b70b2" stroke-width="0.45"/><circle cx="329.54" cy="211.92" r="0.7" fill="none" stroke="#3b70b2" stroke-width="0.45"/><circle cx="328.57" cy="206.21" r="0.7" fill="none" stroke="#3b70b2" stroke-width="0.45"/><circle cx="323.87" cy="223.37" r="0.7" fill="none" stroke="#3b70b2" stroke-width="0.45"/><circle cx="328.24" cy="233.6" r="0.7" fill="none" stroke="#3b70b2" stroke-width="0.45"/><circle cx="331.1" cy="216.71" r="0.7" fill="none" stroke="#3b70b2" stroke-width="0.45"/><circle cx="329.52" cy="229.18" r="0.7" fill="none" stroke="#3b70b2" stroke-width="0.45"/><circle cx="329.85" cy="229.91" r="0.7" fill="none" stroke="#3b70b2" stroke-width="0.45"/><circle cx="324.69" cy="216.59" r="0.7" fill="none" stroke="#3b70b2" stroke-width="0.45"/><circle cx="327.26" cy="228.94" r="0.7" fill="none" stroke="#3b70b2" stroke-width="0.45"/><circle cx="330.28" cy="202.8" r="0.7" fill="none" stroke="#3b70b2" stroke-width="0.45"/><circle cx="329.98" cy="205.94" r="0.7" fill="none" stroke="#3b70b2" stroke-width="0.45"/><circle cx="327.3" cy="225.9" r="0.7" fill="none" stroke="#3b70b2" stroke-width="0.45"/><circle cx="327.09" cy="227.37" r="0.7" fill="none" stroke="#3b70b2" stroke-width="0.45"/><circle cx="327.13" cy="225.04" r="0.7" fill="none" stroke="#3b70b2" stroke-width="0.45"/><circle cx="330.05" cy="231.01" r="0.7" fill="none" stroke="#3b70b2" stroke-width="0.45"/><circle cx="328.95" cy="217.03" r="0.7" fill="none" stroke="#3b70b2" stroke-width="0.45"/><circle cx="329.1" cy="236.77" r="0.7" fill="none" stroke="#3b70b2" stroke-width="0.45"/><circle cx="329.05" cy="220.93" r="0.7" fill="none" stroke="#3b70b2" stroke-width="0.45"/><circle cx="323.95" cy="217.55" r="0.7" fill="none" stroke="#3b70b2" stroke-width="0.45"/><circle cx="330.96" cy="218.76" r="0.7" fill="none" stroke="#3b70b2" stroke-width="0.45"/><circle cx="325.34" cy="218" r="0.7" fill="none" stroke="#3b70b2" stroke-width="0.45"/><circle cx="330.25" cy="210.45" r="0.7" fill="none" stroke="#3b70b2" stroke-width="0.45"/><circle cx="333.36" cy="224.05" r="0.7" fill="none" stroke="#3b70b2" stroke-width="0.45"/><circle cx="328.66" cy="215.18" r="0.7" fill="none" stroke="#3b70b2" stroke-width="0.45"/><circle cx="330.51" cy="205.37" r="0.7" fill="none" stroke="#3b70b2" stroke-width="0.45"/><circle cx="329.6" cy="228.89" r="0.7" fill="none" stroke="#3b70b2" stroke-width="0.45"/><circle cx="331.65" cy="220.1" r="0.7" fill="none" stroke="#3b70b2" stroke-width="0.45"/><circle cx="324.44" cy="223.68" r="0.7" fill="none" stroke="#3b70b2" stroke-width="0.45"/><circle cx="325.09" cy="223.9" r="0.7" fill="none" stroke="#3b70b2" stroke-width="0.45"/><circle cx="333.48" cy="223.23" r="0.7" fill="none" stroke="#3b70b2" stroke-width="0.45"/><circle cx="325.79" cy="230.33" r="0.7" fill="none" stroke="#3b70b2" stroke-width="0.45"/><circle cx="326.29" cy="207.87" r="0.7" fill="none" stroke="#3b70b2" stroke-width="0.45"/><circle cx="328.71" cy="232.16" r="0.7" fill="none" stroke="#3b70b2" stroke-width="0.45"/><circle cx="325.99" cy="228.46" r="0.7" fill="none" stroke="#3b70b2" stroke-width="0.45"/><circle cx="328.67" cy="233.4" r="0.7" fill="none" stroke="#3b70b2" stroke-width="0.45"/><circle cx="326.21" cy="226.63" r="0.7" fill="none" stroke="#3b70b2" stroke-width="0.45"/><circle cx="327.91" cy="236.84" r="0.7" fill="none" stroke="#3b70b2" stroke-width="0.45"/><circle cx="328.09" cy="216.72" r="0.7" fill="none" stroke="#3b70b2" stroke-width="0.45"/><circle cx="328.61" cy="208.64" r="0.7" fill="none" stroke="#3b70b2" stroke-width="0.45"/><circle cx="327.11" cy="201.86" r="0.7" fill="none" stroke="#3b70b2" stroke-width="0.45"/><circle cx="328.52" cy="211.94" r="0.7" fill="none" stroke="#3b70b2" stroke-width="0.45"/><circle cx="333.79" cy="221.15" r="0.7" fill="none" stroke="#3b70b2" stroke-width="0.45"/><circle cx="323.14" cy="217.83" r="0.7" fill="none" stroke="#3b70b2" stroke-width="0.45"/><circle cx="331.61" cy="222.23" r="0.7" fill="none" stroke="#3b70b2" stroke-width="0.45"/><circle cx="325.72" cy="210.76" r="0.7" fill="none" stroke="#3b70b2" stroke-width="0.45"/><circle cx="326.4" cy="228.78" r="0.7" fill="none" stroke="#3b70b2" stroke-width="0.45"/><circle cx="329.02" cy="205.21" r="0.7" fill="none" stroke="#3b70b2" stroke-width="0.45"/><circle cx="331.32" cy="220.82" r="0.7" fill="none" stroke="#3b70b2" stroke-width="0.45"/><circle cx="329.86" cy="229.57" r="0.7" fill="none" stroke="#3b70b2" stroke-width="0.45"/><circle cx="328.14" cy="231.81" r="0.7" fill="none" stroke="#3b70b2" stroke-width="0.45"/><circle cx="330.56" cy="211.41" r="0.7" fill="none" stroke="#3b70b2" stroke-width="0.45"/><circle cx="326.88" cy="233.97" r="0.7" fill="none" stroke="#3b70b2" stroke-width="0.45"/><circle cx="328.68" cy="213.66" r="0.7" fill="none" stroke="#3b70b2" stroke-width="0.45"/><circle cx="332.01" cy="221" r="0.7" fill="none" stroke="#3b70b2" stroke-width="0.45"/><circle cx="328.3" cy="186.42" r="0.6" fill="#3b70b2"/><circle cx="328.3" cy="192.14" r="0.6" fill="#3b70b2"/>
<line x1="322.4" y1="221.51" x2="334.2" y2="221.51" stroke="#111" stroke-width="1.5"/>
<line x1="345.8" y1="248.6" x2="345.8" y2="251.6" stroke="#333" stroke-width="0.9"/>
<circle cx="341.52" cy="225.72" r="0.7" fill="none" stroke="#86d086" stroke-width="0.45"/><circle cx="347.8" cy="226.98" r="0.7" fill="none" stroke="#86d086" stroke-width="0.45"/><circle cx="342.45" cy="228.06" r="0.7" fill="none" stroke="#86d086" stroke-width="0.45"/><circle cx="350.75" cy="224.61" r="0.7" fill="none" stroke="#86d086" stroke-width="0.45"/><circle cx="343.97" cy="199.81" r="0.7" fill="none" stroke="#86d086" stroke-width="0.45"/><circle cx="343.51" cy="227.75" r="0.7" fill="none" stroke="#86d086" stroke-width="0.45"/><circle cx="340.42" cy="219.46" r="0.7" fill="none" stroke="#86d086" stroke-width="0.45"/><circle cx="344.7" cy="231.7" r="0.7" fill="none" stroke="#86d086" stroke-width="0.45"/><circle cx="343.76" cy="225.67" r="0.7" fill="none" stroke="#86d086" stroke-width="0.45"/><circle cx="347.49" cy="225.64" r="0.7" fill="none" stroke="#86d086" stroke-width="0.45"/><circle cx="348.08" cy="226.16" r="0.7" fill="none" stroke="#86d086" stroke-width="0.45"/><circle cx="344.05" cy="217.43" r="0.7" fill="none" stroke="#86d086" stroke-width="0.45"/><circle cx="342.44" cy="214.77" r="0.7" fill="none" stroke="#86d086" stroke-width="0.45"/><circle cx="344.8" cy="216.91" r="0.7" fill="none" stroke="#86d086" stroke-width="0.45"/><circle cx="343.87" cy="203.45" r="0.7" fill="none" stroke="#86d086" stroke-width="0.45"/><circle cx="342.17" cy="226.43" r="0.7" fill="none" stroke="#86d086" stroke-width="0.45"/><circle cx="350.44" cy="223.14" r="0.7" fill="none" stroke="#86d086" stroke-width="0.45"/><circle cx="347.4" cy="223.9" r="0.7" fill="none" stroke="#86d086" stroke-width="0.45"/><circle cx="344.86" cy="224.22" r="0.7" fill="none" stroke="#86d086" stroke-width="0.45"/><circle cx="346.77" cy="232.16" r="0.7" fill="none" stroke="#86d086" stroke-width="0.45"/><circle cx="341.52" cy="213.72" r="0.7" fill="none" stroke="#86d086" stroke-width="0.45"/><circle cx="347.34" cy="225.49" r="0.7" fill="none" stroke="#86d086" stroke-width="0.45"/><circle cx="345.86" cy="230.27" r="0.7" fill="none" stroke="#86d086" stroke-width="0.45"/><circle cx="348.71" cy="219.21" r="0.7" fill="none" stroke="#86d086" stroke-width="0.45"/><circle cx="345.18" cy="201.61" r="0.7" fill="none" stroke="#86d086" stroke-width="0.45"/><circle cx="348.19" cy="221.51" r="0.7" fill="none" stroke="#86d086" stroke-width="0.45"/><circle cx="341.29" cy="218.73" r="0.7" fill="none" stroke="#86d086" stroke-width="0.45"/><circle cx="347.15" cy="229.94" r="0.7" fill="none" stroke="#86d086" stroke-width="0.45"/><circle cx="341.97" cy="225.51" r="0.7" fill="none" stroke="#86d086" stroke-width="0.45"/><circle cx="346.06" cy="201.81" r="0.7" fill="none" stroke="#86d086" stroke-width="0.45"/><circle cx="350.34" cy="220.11" r="0.7" fill="none" stroke="#86d086" stroke-width="0.45"/><circle cx="349.37" cy="219.51" r="0.7" fill="none" stroke="#86d086" stroke-width="0.45"/><circle cx="348.06" cy="229.99" r="0.7" fill="none" stroke="#86d086" stroke-width="0.45"/><circle cx="343.29" cy="230.97" r="0.7" fill="none" stroke="#86d086" stroke-width="0.45"/><circle cx="347.58" cy="217.4" r="0.7" fill="none" stroke="#86d086" stroke-width="0.45"/><circle cx="346.64" cy="214.26" r="0.7" fill="none" stroke="#86d086" stroke-width="0.45"/><circle cx="343.2" cy="229.49" r="0.7" fill="none" stroke="#86d086" stroke-width="0.45"/><circle cx="342.49" cy="225.59" r="0.7" fill="none" stroke="#86d086" stroke-width="0.45"/><circle cx="346.56" cy="221.06" r="0.7" fill="none" stroke="#86d086" stroke-width="0.45"/><circle cx="341.97" cy="228.32" r="0.7" fill="none" stroke="#86d086" stroke-width="0.45"/><circle cx="350.66" cy="217.95" r="0.7" fill="none" stroke="#86d086" stroke-width="0.45"/><circle cx="344.86" cy="218.16" r="0.7" fill="none" stroke="#86d086" stroke-width="0.45"/><circle cx="348.12" cy="213.96" r="0.7" fill="none" stroke="#86d086" stroke-width="0.45"/><circle cx="349.79" cy="211.95" r="0.7" fill="none" stroke="#86d086" stroke-width="0.45"/><circle cx="346.51" cy="224.07" r="0.7" fill="none" stroke="#86d086" stroke-width="0.45"/><circle cx="345.91" cy="202.67" r="0.7" fill="none" stroke="#86d086" stroke-width="0.45"/><circle cx="344.76" cy="231.11" r="0.7" fill="none" stroke="#86d086" stroke-width="0.45"/><circle cx="344.03" cy="214.07" r="0.7" fill="none" stroke="#86d086" stroke-width="0.45"/><circle cx="341.65" cy="219.78" r="0.7" fill="none" stroke="#86d086" stroke-width="0.45"/><circle cx="344.66" cy="223.24" r="0.7" fill="none" stroke="#86d086" stroke-width="0.45"/><circle cx="343.63" cy="220.93" r="0.7" fill="none" stroke="#86d086" stroke-width="0.45"/><circle cx="341.09" cy="223.71" r="0.7" fill="none" stroke="#86d086" stroke-width="0.45"/><circle cx="343.31" cy="227.49" r="0.7" fill="none" stroke="#86d086" stroke-width="0.45"/><circle cx="348.71" cy="210.1" r="0.7" fill="none" stroke="#86d086" stroke-width="0.45"/><circle cx="347.97" cy="232.21" r="0.7" fill="none" stroke="#86d086" stroke-width="0.45"/><circle cx="341.47" cy="226.06" r="0.7" fill="none" stroke="#86d086" stroke-width="0.45"/><circle cx="346.72" cy="224.06" r="0.7" fill="none" stroke="#86d086" stroke-width="0.45"/><circle cx="345.79" cy="209.95" r="0.7" fill="none" stroke="#86d086" stroke-width="0.45"/><circle cx="343.51" cy="222.08" r="0.7" fill="none" stroke="#86d086" stroke-width="0.45"/><circle cx="342.5" cy="225.77" r="0.7" fill="none" stroke="#86d086" stroke-width="0.45"/><circle cx="344.3" cy="232.18" r="0.7" fill="none" stroke="#86d086" stroke-width="0.45"/><circle cx="346.89" cy="235.7" r="0.7" fill="none" stroke="#86d086" stroke-width="0.45"/><circle cx="342.72" cy="222.49" r="0.7" fill="none" stroke="#86d086" stroke-width="0.45"/><circle cx="343.91" cy="230.65" r="0.7" fill="none" stroke="#86d086" stroke-width="0.45"/><circle cx="347.25" cy="227.67" r="0.7" fill="none" stroke="#86d086" stroke-width="0.45"/><circle cx="347.15" cy="212.55" r="0.7" fill="none" stroke="#86d086" stroke-width="0.45"/><circle cx="344.76" cy="200.27" r="0.7" fill="none" stroke="#86d086" stroke-width="0.45"/><circle cx="347.25" cy="217.36" r="0.7" fill="none" stroke="#86d086" stroke-width="0.45"/><circle cx="346.14" cy="223.55" r="0.7" fill="none" stroke="#86d086" stroke-width="0.45"/><circle cx="348.82" cy="225.92" r="0.7" fill="none" stroke="#86d086" stroke-width="0.45"/><circle cx="347.62" cy="229.64" r="0.7" fill="none" stroke="#86d086" stroke-width="0.45"/><circle cx="346.25" cy="226.81" r="0.7" fill="none" stroke="#86d086" stroke-width="0.45"/><circle cx="344.55" cy="223.97" r="0.7" fill="none" stroke="#86d086" stroke-width="0.45"/><circle cx="344.38" cy="202.58" r="0.7" fill="none" stroke="#86d086" stroke-width="0.45"/><circle cx="344.28" cy="218.74" r="0.7" fill="none" stroke="#86d086" stroke-width="0.45"/><circle cx="345.89" cy="206.1" r="0.7" fill="none" stroke="#86d086" stroke-width="0.45"/><circle cx="347.86" cy="220.9" r="0.7" fill="none" stroke="#86d086" stroke-width="0.45"/><circle cx="342.95" cy="213.42" r="0.7" fill="none" stroke="#86d086" stroke-width="0.45"/><circle cx="346.84" cy="215.29" r="0.7" fill="none" stroke="#86d086" stroke-width="0.45"/><circle cx="348.05" cy="228.37" r="0.7" fill="none" stroke="#86d086" stroke-width="0.45"/><circle cx="343.63" cy="228.92" r="0.7" fill="none" stroke="#86d086" stroke-width="0.45"/><circle cx="340.78" cy="218.7" r="0.7" fill="none" stroke="#86d086" stroke-width="0.45"/><circle cx="346.49" cy="215.2" r="0.7" fill="none" stroke="#86d086" stroke-width="0.45"/><circle cx="342.87" cy="212.73" r="0.7" fill="none" stroke="#86d086" stroke-width="0.45"/><circle cx="345.56" cy="233.6" r="0.7" fill="none" stroke="#86d086" stroke-width="0.45"/><circle cx="345.8" cy="190.61" r="0.6" fill="#86d086"/><circle cx="345.8" cy="195.19" r="0.6" fill="#86d086"/>
<line x1="339.9" y1="221.51" x2="351.7" y2="221.51" stroke="#111" stroke-width="1.5"/>
<line x1="363.3" y1="248.6" x2="363.3" y2="251.6" stroke="#333" stroke-width="0.9"/>
<path d="M365.81 231.13l0.8 -1.4l0.8 1.4z" fill="none" stroke="#8c8c8c" stroke-width="0.45"/><path d="M365.66 228.36l0.8 -1.4l0.8 1.4z" fill="none" stroke="#8c8c8c" stroke-width="0.45"/><path d="M360.64 233.52l0.8 -1.4l0.8 1.4z" fill="none" stroke="#8c8c8c" stroke-width="0.45"/><path d="M363.25 236.67l0.8 -1.4l0.8 1.4z" fill="none" stroke="#8c8c8c" stroke-width="0.45"/><path d="M363.49 229.81l0.8 -1.4l0.8 1.4z" fill="none" stroke="#8c8c8c" stroke-width="0.45"/><path d="M359.59 234.77l0.8 -1.4l0.8 1.4z" fill="none" stroke="#8c8c8c" stroke-width="0.45"/><path d="M363.3 211.02l0.8 -1.4l0.8 1.4z" fill="none" stroke="#8c8c8c" stroke-width="0.45"/><path d="M361.76 237.26l0.8 -1.4l0.8 1.4z" fill="none" stroke="#8c8c8c" stroke-width="0.45"/><path d="M363.58 238.34l0.8 -1.4l0.8 1.4z" fill="none" stroke="#8c8c8c" stroke-width="0.45"/><path d="M357.56 232.18l0.8 -1.4l0.8 1.4z" fill="none" stroke="#8c8c8c" stroke-width="0.45"/><path d="M361.09 236.05l0.8 -1.4l0.8 1.4z" fill="none" stroke="#8c8c8c" stroke-width="0.45"/><path d="M357.33 231.16l0.8 -1.4l0.8 1.4z" fill="none" stroke="#8c8c8c" stroke-width="0.45"/><path d="M360.07 226.29l0.8 -1.4l0.8 1.4z" fill="none" stroke="#8c8c8c" stroke-width="0.45"/><path d="M362.07 229.4l0.8 -1.4l0.8 1.4z" fill="none" stroke="#8c8c8c" stroke-width="0.45"/><path d="M361.51 220.27l0.8 -1.4l0.8 1.4z" fill="none" stroke="#8c8c8c" stroke-width="0.45"/><path d="M363.28 237.45l0.8 -1.4l0.8 1.4z" fill="none" stroke="#8c8c8c" stroke-width="0.45"/><path d="M363.7 236.71l0.8 -1.4l0.8 1.4z" fill="none" stroke="#8c8c8c" stroke-width="0.45"/><path d="M364.12 216.24l0.8 -1.4l0.8 1.4z" fill="none" stroke="#8c8c8c" stroke-width="0.45"/><path d="M366.32 230.94l0.8 -1.4l0.8 1.4z" fill="none" stroke="#8c8c8c" stroke-width="0.45"/><path d="M360.37 235.67l0.8 -1.4l0.8 1.4z" fill="none" stroke="#8c8c8c" stroke-width="0.45"/><path d="M363.03 232.3l0.8 -1.4l0.8 1.4z" fill="none" stroke="#8c8c8c" stroke-width="0.45"/><path d="M360 234.6l0.8 -1.4l0.8 1.4z" fill="none" stroke="#8c8c8c" stroke-width="0.45"/><path d="M361.91 230.77l0.8 -1.4l0.8 1.4z" fill="none" stroke="#8c8c8c" stroke-width="0.45"/><path d="M361.52 224.02l0.8 -1.4l0.8 1.4z" fill="none" stroke="#8c8c8c" stroke-width="0.45"/><path d="M357.37 232.33l0.8 -1.4l0.8 1.4z" fill="none" stroke="#8c8c8c" stroke-width="0.45"/><path d="M361.57 234.68l0.8 -1.4l0.8 1.4z" fill="none" stroke="#8c8c8c" stroke-width="0.45"/><path d="M359.27 234.05l0.8 -1.4l0.8 1.4z" fill="none" stroke="#8c8c8c" stroke-width="0.45"/><path d="M364.11 220.23l0.8 -1.4l0.8 1.4z" fill="none" stroke="#8c8c8c" stroke-width="0.45"/><path d="M361.83 236.98l0.8 -1.4l0.8 1.4z" fill="none" stroke="#8c8c8c" stroke-width="0.45"/><path d="M362.6 237.39l0.8 -1.4l0.8 1.4z" fill="none" stroke="#8c8c8c" stroke-width="0.45"/><path d="M361.05 237.18l0.8 -1.4l0.8 1.4z" fill="none" stroke="#8c8c8c" stroke-width="0.45"/><path d="M360.43 229.03l0.8 -1.4l0.8 1.4z" fill="none" stroke="#8c8c8c" stroke-width="0.45"/><path d="M358.58 232.09l0.8 -1.4l0.8 1.4z" fill="none" stroke="#8c8c8c" stroke-width="0.45"/><path d="M364.76 226.63l0.8 -1.4l0.8 1.4z" fill="none" stroke="#8c8c8c" stroke-width="0.45"/><path d="M359.37 227.79l0.8 -1.4l0.8 1.4z" fill="none" stroke="#8c8c8c" stroke-width="0.45"/><path d="M362 237.41l0.8 -1.4l0.8 1.4z" fill="none" stroke="#8c8c8c" stroke-width="0.45"/><path d="M361.26 237.99l0.8 -1.4l0.8 1.4z" fill="none" stroke="#8c8c8c" stroke-width="0.45"/><path d="M359.73 233.62l0.8 -1.4l0.8 1.4z" fill="none" stroke="#8c8c8c" stroke-width="0.45"/><path d="M365.55 226.34l0.8 -1.4l0.8 1.4z" fill="none" stroke="#8c8c8c" stroke-width="0.45"/><path d="M363.54 220.31l0.8 -1.4l0.8 1.4z" fill="none" stroke="#8c8c8c" stroke-width="0.45"/><path d="M363.94 222.76l0.8 -1.4l0.8 1.4z" fill="none" stroke="#8c8c8c" stroke-width="0.45"/><path d="M363.58 223.62l0.8 -1.4l0.8 1.4z" fill="none" stroke="#8c8c8c" stroke-width="0.45"/><path d="M361.89 237.05l0.8 -1.4l0.8 1.4z" fill="none" stroke="#8c8c8c" stroke-width="0.45"/><path d="M361.51 237.02l0.8 -1.4l0.8 1.4z" fill="none" stroke="#8c8c8c" stroke-width="0.45"/><path d="M358.68 230.27l0.8 -1.4l0.8 1.4z" fill="none" stroke="#8c8c8c" stroke-width="0.45"/><path d="M358.94 232.29l0.8 -1.4l0.8 1.4z" fill="none" stroke="#8c8c8c" stroke-width="0.45"/><path d="M358.23 227.49l0.8 -1.4l0.8 1.4z" fill="none" stroke="#8c8c8c" stroke-width="0.45"/><path d="M358.98 233.19l0.8 -1.4l0.8 1.4z" fill="none" stroke="#8c8c8c" stroke-width="0.45"/><path d="M363.04 226.67l0.8 -1.4l0.8 1.4z" fill="none" stroke="#8c8c8c" stroke-width="0.45"/><path d="M357.8 232.14l0.8 -1.4l0.8 1.4z" fill="none" stroke="#8c8c8c" stroke-width="0.45"/><path d="M362.45 231.38l0.8 -1.4l0.8 1.4z" fill="none" stroke="#8c8c8c" stroke-width="0.45"/><path d="M360.62 228.22l0.8 -1.4l0.8 1.4z" fill="none" stroke="#8c8c8c" stroke-width="0.45"/><path d="M362.63 241.33l0.8 -1.4l0.8 1.4z" fill="none" stroke="#8c8c8c" stroke-width="0.45"/><path d="M360.71 237.05l0.8 -1.4l0.8 1.4z" fill="none" stroke="#8c8c8c" stroke-width="0.45"/><path d="M367.55 231.14l0.8 -1.4l0.8 1.4z" fill="none" stroke="#8c8c8c" stroke-width="0.45"/><path d="M366.78 233.69l0.8 -1.4l0.8 1.4z" fill="none" stroke="#8c8c8c" stroke-width="0.45"/><path d="M363.18 219.39l0.8 -1.4l0.8 1.4z" fill="none" stroke="#8c8c8c" stroke-width="0.45"/><path d="M360.07 231.94l0.8 -1.4l0.8 1.4z" fill="none" stroke="#8c8c8c" stroke-width="0.45"/><path d="M361.5 240.79l0.8 -1.4l0.8 1.4z" fill="none" stroke="#8c8c8c" stroke-width="0.45"/><path d="M361.45 237.21l0.8 -1.4l0.8 1.4z" fill="none" stroke="#8c8c8c" stroke-width="0.45"/><path d="M360.15 234.71l0.8 -1.4l0.8 1.4z" fill="none" stroke="#8c8c8c" stroke-width="0.45"/><path d="M357.33 227.24l0.8 -1.4l0.8 1.4z" fill="none" stroke="#8c8c8c" stroke-width="0.45"/><path d="M359.6 229.35l0.8 -1.4l0.8 1.4z" fill="none" stroke="#8c8c8c" stroke-width="0.45"/><path d="M363.04 230.44l0.8 -1.4l0.8 1.4z" fill="none" stroke="#8c8c8c" stroke-width="0.45"/><path d="M365.81 226.58l0.8 -1.4l0.8 1.4z" fill="none" stroke="#8c8c8c" stroke-width="0.45"/><circle cx="363.3" cy="204.73" r="0.6" fill="#8c8c8c"/><circle cx="363.3" cy="208.16" r="0.6" fill="#8c8c8c"/>
<line x1="357.4" y1="229.53" x2="369.2" y2="229.53" stroke="#111" stroke-width="1.5"/>
<line x1="310.4" y1="159.2" x2="363.5" y2="159.2" stroke="#555" stroke-width="0.8"/>
<line x1="310.4" y1="157.9" x2="310.4" y2="160.5" stroke="#555" stroke-width="0.8"/>
<line x1="363.5" y1="157.9" x2="363.5" y2="160.5" stroke="#555" stroke-width="0.8"/>
<text x="337.2" y="159.9" font-size="5.8" text-anchor="middle" font-weight="bold" letter-spacing="0.5">****</text>
<line x1="328.4" y1="166" x2="363.5" y2="166" stroke="#555" stroke-width="0.8"/>
<line x1="328.4" y1="164.7" x2="328.4" y2="167.3" stroke="#555" stroke-width="0.8"/>
<line x1="363.5" y1="164.7" x2="363.5" y2="167.3" stroke="#555" stroke-width="0.8"/>
<text x="346.2" y="166.7" font-size="5.8" text-anchor="middle" font-weight="bold" letter-spacing="0.5">****</text>
<line x1="310.4" y1="174" x2="345" y2="174" stroke="#555" stroke-width="0.8"/>
<line x1="310.4" y1="172.7" x2="310.4" y2="175.3" stroke="#555" stroke-width="0.8"/>
<line x1="345" y1="172.7" x2="345" y2="175.3" stroke="#555" stroke-width="0.8"/>
<text x="327.95" y="174.7" font-size="5.8" text-anchor="middle" font-weight="bold" letter-spacing="0.5">*</text>
<line x1="310.4" y1="182.4" x2="326.1" y2="182.4" stroke="#555" stroke-width="0.8"/>
<line x1="310.4" y1="181.1" x2="310.4" y2="183.7" stroke="#555" stroke-width="0.8"/>
<line x1="326.1" y1="181.1" x2="326.1" y2="183.7" stroke="#555" stroke-width="0.8"/>
<text x="318.5" y="183.1" font-size="5.8" text-anchor="middle" font-weight="bold" letter-spacing="0.5">*</text>
<line x1="329.4" y1="182.4" x2="345" y2="182.4" stroke="#555" stroke-width="0.8"/>
<line x1="329.4" y1="181.1" x2="329.4" y2="183.7" stroke="#555" stroke-width="0.8"/>
<line x1="345" y1="181.1" x2="345" y2="183.7" stroke="#555" stroke-width="0.8"/>
<text x="337.2" y="181.8" font-size="6.3" text-anchor="middle" fill="#333">NS</text>
<line x1="347.4" y1="182.4" x2="363.5" y2="182.4" stroke="#555" stroke-width="0.8"/>
<line x1="347.4" y1="181.1" x2="347.4" y2="183.7" stroke="#555" stroke-width="0.8"/>
<line x1="363.5" y1="181.1" x2="363.5" y2="183.7" stroke="#555" stroke-width="0.8"/>
<text x="355.7" y="183.1" font-size="5.8" text-anchor="middle" font-weight="bold" letter-spacing="0.5">****</text>
<text x="313.8" y="258" font-size="7" text-anchor="end" textLength="10.11" lengthAdjust="spacingAndGlyphs" transform="rotate(-45 313.8 258)">WT</text>
<text x="331.5" y="258" font-size="7" text-anchor="end" textLength="36.25" lengthAdjust="spacingAndGlyphs" transform="rotate(-45 331.5 258)">β-cateninKO</text>
<text x="349" y="258" font-size="7" text-anchor="end" textLength="28.18" lengthAdjust="spacingAndGlyphs" transform="rotate(-45 349 258)">Hoxa9KO</text>
<text x="366.5" y="258" font-size="7" text-anchor="end" textLength="13.01" lengthAdjust="spacingAndGlyphs" transform="rotate(-45 366.5 258)">dKO</text>
<text x="282.6" y="207.8" font-size="8.2" text-anchor="middle" fill="#333" textLength="69.4" lengthAdjust="spacingAndGlyphs" transform="rotate(-90 282.6 207.8)">CldU track length (μm)</text>
<text x="390.4" y="157.5" font-size="10.6" font-weight="bold" fill="#111" stroke="#111" stroke-width="0.35">F</text>
<rect x="438.5" y="172.3" width="74.6" height="76" fill="#000"/>
<text x="435.3" y="183.2" font-size="6.4" text-anchor="end">WT</text>
<text x="435.3" y="199.4" font-size="6.4" text-anchor="end">β-cateninKO</text>
<text x="435.3" y="219.4" font-size="6.4" text-anchor="end">Hoxa9KO</text>
<text x="435.3" y="233.6" font-size="6.4" text-anchor="end">dKO</text>
<g filter="url(#blf)">
<path d="M447.8 183.4 L455 183.2" fill="none" stroke="#2fb52a" stroke-width="1.6" stroke-linecap="butt" opacity="1"/>
<path d="M455 183.1 L469.8 182.7" fill="none" stroke="#3cc830" stroke-width="2.3" stroke-linecap="butt" opacity="1" stroke-dasharray="6 0.4"/>
<path d="M472.2 182.6 L477.6 182.6" fill="none" stroke="#6ae040" stroke-width="2.4" stroke-linecap="butt" opacity="1"/>
<path d="M479.2 182.6 L485.6 182.6" fill="none" stroke="#46cc30" stroke-width="2.4" stroke-linecap="butt" opacity="1"/>
<path d="M487.8 182.7 L492 182.7" fill="none" stroke="#f0c030" stroke-width="2.4" stroke-linecap="butt" opacity="1"/>
<path d="M495.4 182.8 L507.8 183" fill="none" stroke="#f05a1e" stroke-width="2.4" stroke-linecap="butt" opacity="1" stroke-dasharray="5 0.35"/>
<path d="M447.8 198.5 L460 200.2 L470.5 201.3" fill="none" stroke="#c8e040" stroke-width="2" stroke-linecap="butt" opacity="1" stroke-dasharray="5.5 0.4"/>
<path d="M471.5 201.4 L476.2 201.7" fill="none" stroke="#e8a830" stroke-width="2" stroke-linecap="butt" opacity="1"/>
<path d="M477.2 201.8 L495.4 201.9" fill="none" stroke="#c02a22" stroke-width="1.9" stroke-linecap="butt" opacity="1" stroke-dasharray="5 0.35"/>
<path d="M448.3 220.2 L451.34 218.87 L454.36 217.71 L457.35 216.74 L460.32 215.95 L463.28 215.34 L466.21 214.91 L469.11 214.67 L472 214.6" fill="none" stroke="#3cc830" stroke-width="2.2" stroke-linecap="butt" opacity="1" stroke-dasharray="6 0.35"/>
<circle cx="457" cy="217.4" r="1.1" fill="#e0f4d0"/>
<path d="M471.5 214.6 L474 214.7" fill="none" stroke="#f0d848" stroke-width="2.2" stroke-linecap="butt" opacity="1"/>
<path d="M474 214.7 L476.96 214.8 L479.84 215.04 L482.63 215.44 L485.35 215.97 L487.98 216.66 L490.54 217.49 L493.01 218.47 L495.4 219.6" fill="none" stroke="#ec521e" stroke-width="2.2" stroke-linecap="butt" opacity="1" stroke-dasharray="6 0.35"/>
<path d="M492.5 218.3 L495.6 219.7" fill="none" stroke="#f68a24" stroke-width="2.3" stroke-linecap="butt" opacity="1"/>
<path d="M448.4 230.8 L460.5 231" fill="none" stroke="#40cc30" stroke-width="2.2" stroke-linecap="butt" opacity="1" stroke-dasharray="5.5 0.4"/>
<path d="M461.2 231 L475.3 231.6" fill="none" stroke="#dc421e" stroke-width="2.2" stroke-linecap="butt" opacity="1" stroke-dasharray="5 0.35"/>
</g>
<text x="481.2" y="241.4" font-size="5.8" text-anchor="middle" fill="#fff" stroke="#fff" stroke-width="0.15">10μm</text>
<line x1="460.8" y1="243.7" x2="502.3" y2="243.7" stroke="#999" stroke-width="0.6"/>
<text x="7.6" y="309.4" font-size="10.6" font-weight="bold" fill="#111" stroke="#111" stroke-width="0.35">G</text>
<line x1="46.9" y1="327.9" x2="46.9" y2="405" stroke="#1a1a1a" stroke-width="1.05"/>
<line x1="44.1" y1="404.4" x2="46.9" y2="404.4" stroke="#1a1a1a" stroke-width="0.9"/>
<text x="40.5" y="406.6" font-size="6.3" text-anchor="end" fill="#333">0.2</text>
<line x1="44.1" y1="389.58" x2="46.9" y2="389.58" stroke="#1a1a1a" stroke-width="0.9"/>
<text x="40.5" y="391.78" font-size="6.3" text-anchor="end" fill="#333">0.4</text>
<line x1="44.1" y1="374.76" x2="46.9" y2="374.76" stroke="#1a1a1a" stroke-width="0.9"/>
<text x="40.5" y="376.96" font-size="6.3" text-anchor="end" fill="#333">0.6</text>
<line x1="44.1" y1="359.94" x2="46.9" y2="359.94" stroke="#1a1a1a" stroke-width="0.9"/>
<text x="40.5" y="362.14" font-size="6.3" text-anchor="end" fill="#333">0.8</text>
<line x1="44.1" y1="345.12" x2="46.9" y2="345.12" stroke="#1a1a1a" stroke-width="0.9"/>
<text x="40.5" y="347.32" font-size="6.3" text-anchor="end" fill="#333">1.0</text>
<line x1="44.1" y1="330.3" x2="46.9" y2="330.3" stroke="#1a1a1a" stroke-width="0.9"/>
<text x="40.5" y="332.5" font-size="6.3" text-anchor="end" fill="#333">1.2</text>
<line x1="43.9" y1="404.4" x2="120" y2="404.4" stroke="#1a1a1a" stroke-width="1.2"/>
<line x1="58" y1="404.4" x2="58" y2="407.4" stroke="#333" stroke-width="0.9"/>
<path d="M58.9 354.41l1.15 -2l1.15 2z" fill="#cc0a2f" opacity="1"/><path d="M59.09 358.67l1.15 -2l1.15 2z" fill="#cc0a2f" opacity="1"/><path d="M59.47 357.23l1.15 -2l1.15 2z" fill="#cc0a2f" opacity="1"/><path d="M56.46 345.57l1.15 -2l1.15 2z" fill="#cc0a2f" opacity="1"/><path d="M57.21 362.81l1.15 -2l1.15 2z" fill="#cc0a2f" opacity="1"/><path d="M55.79 361.58l1.15 -2l1.15 2z" fill="#cc0a2f" opacity="1"/><path d="M54.04 351.16l1.15 -2l1.15 2z" fill="#cc0a2f" opacity="1"/><path d="M57.58 352.67l1.15 -2l1.15 2z" fill="#cc0a2f" opacity="1"/><path d="M53.68 345.52l1.15 -2l1.15 2z" fill="#cc0a2f" opacity="1"/><path d="M61.51 347.97l1.15 -2l1.15 2z" fill="#cc0a2f" opacity="1"/><path d="M54.92 357.9l1.15 -2l1.15 2z" fill="#cc0a2f" opacity="1"/><path d="M55.04 358.72l1.15 -2l1.15 2z" fill="#cc0a2f" opacity="1"/><path d="M53.65 354.28l1.15 -2l1.15 2z" fill="#cc0a2f" opacity="1"/><path d="M61.01 345.5l1.15 -2l1.15 2z" fill="#cc0a2f" opacity="1"/><path d="M53.66 347.06l1.15 -2l1.15 2z" fill="#cc0a2f" opacity="1"/><path d="M57.74 363.97l1.15 -2l1.15 2z" fill="#cc0a2f" opacity="1"/><path d="M62.02 348.11l1.15 -2l1.15 2z" fill="#cc0a2f" opacity="1"/><path d="M58.62 352.57l1.15 -2l1.15 2z" fill="#cc0a2f" opacity="1"/><path d="M61.79 347l1.15 -2l1.15 2z" fill="#cc0a2f" opacity="1"/><path d="M60.21 356.01l1.15 -2l1.15 2z" fill="#cc0a2f" opacity="1"/><path d="M56.27 361.37l1.15 -2l1.15 2z" fill="#cc0a2f" opacity="1"/><path d="M53.11 349.23l1.15 -2l1.15 2z" fill="#cc0a2f" opacity="1"/><path d="M51.98 346.37l1.15 -2l1.15 2z" fill="#cc0a2f" opacity="1"/><path d="M58 348.29l1.15 -2l1.15 2z" fill="#cc0a2f" opacity="1"/><path d="M58.84 345.5l1.15 -2l1.15 2z" fill="#cc0a2f" opacity="1"/><path d="M54.72 348.85l1.15 -2l1.15 2z" fill="#cc0a2f" opacity="1"/><path d="M56.76 359.29l1.15 -2l1.15 2z" fill="#cc0a2f" opacity="1"/><path d="M56.64 348.5l1.15 -2l1.15 2z" fill="#cc0a2f" opacity="1"/><path d="M53.79 356.35l1.15 -2l1.15 2z" fill="#cc0a2f" opacity="1"/><path d="M55.7 363.75l1.15 -2l1.15 2z" fill="#cc0a2f" opacity="1"/><path d="M58.92 357.49l1.15 -2l1.15 2z" fill="#cc0a2f" opacity="1"/><path d="M60.07 345.53l1.15 -2l1.15 2z" fill="#cc0a2f" opacity="1"/><path d="M57.73 349.31l1.15 -2l1.15 2z" fill="#cc0a2f" opacity="1"/><path d="M51.77 345.51l1.15 -2l1.15 2z" fill="#cc0a2f" opacity="1"/><path d="M61.95 346.73l1.15 -2l1.15 2z" fill="#cc0a2f" opacity="1"/><path d="M59.71 346.91l1.15 -2l1.15 2z" fill="#cc0a2f" opacity="1"/><path d="M57.91 362.41l1.15 -2l1.15 2z" fill="#cc0a2f" opacity="1"/><path d="M55.22 348.95l1.15 -2l1.15 2z" fill="#cc0a2f" opacity="1"/><path d="M59.66 352.27l1.15 -2l1.15 2z" fill="#cc0a2f" opacity="1"/><path d="M59.63 346.04l1.15 -2l1.15 2z" fill="#cc0a2f" opacity="1"/><path d="M58.66 358.72l1.15 -2l1.15 2z" fill="#cc0a2f" opacity="1"/><path d="M61.84 345.6l1.15 -2l1.15 2z" fill="#cc0a2f" opacity="1"/><path d="M55.07 345.91l1.15 -2l1.15 2z" fill="#cc0a2f" opacity="1"/><path d="M60.48 354.13l1.15 -2l1.15 2z" fill="#cc0a2f" opacity="1"/><path d="M61.6 348.88l1.15 -2l1.15 2z" fill="#cc0a2f" opacity="1"/><path d="M55 352.7l1.15 -2l1.15 2z" fill="#cc0a2f" opacity="1"/><path d="M53.24 348.52l1.15 -2l1.15 2z" fill="#cc0a2f" opacity="1"/><path d="M52.92 345.82l1.15 -2l1.15 2z" fill="#cc0a2f" opacity="1"/><path d="M60.44 355.97l1.15 -2l1.15 2z" fill="#cc0a2f" opacity="1"/><path d="M51.79 346.53l1.15 -2l1.15 2z" fill="#cc0a2f" opacity="1"/><path d="M56.93 364.1l1.15 -2l1.15 2z" fill="#cc0a2f" opacity="1"/><path d="M53.91 349.99l1.15 -2l1.15 2z" fill="#cc0a2f" opacity="1"/><path d="M59.79 353.76l1.15 -2l1.15 2z" fill="#cc0a2f" opacity="1"/><path d="M55.97 350.9l1.15 -2l1.15 2z" fill="#cc0a2f" opacity="1"/><path d="M61.51 345.69l1.15 -2l1.15 2z" fill="#cc0a2f" opacity="1"/><path d="M56.15 366.5l1.15 -2l1.15 2z" fill="#cc0a2f" opacity="1"/><path d="M56.84 369.3l1.15 -2l1.15 2z" fill="#cc0a2f" opacity="1"/><path d="M57.36 372l1.15 -2l1.15 2z" fill="#cc0a2f" opacity="1"/>
<line x1="52.2" y1="352.1" x2="63.8" y2="352.1" stroke="#111" stroke-width="1.3"/>
<line x1="74.9" y1="404.4" x2="74.9" y2="407.4" stroke="#333" stroke-width="0.9"/>
<path d="M76.25 347.69l1.15 -2l1.15 2z" fill="#1a4b8b" opacity="1"/><path d="M75.16 353.26l1.15 -2l1.15 2z" fill="#1a4b8b" opacity="1"/><path d="M69.5 352.16l1.15 -2l1.15 2z" fill="#1a4b8b" opacity="1"/><path d="M69.96 349.75l1.15 -2l1.15 2z" fill="#1a4b8b" opacity="1"/><path d="M71.53 352.54l1.15 -2l1.15 2z" fill="#1a4b8b" opacity="1"/><path d="M79.14 349.88l1.15 -2l1.15 2z" fill="#1a4b8b" opacity="1"/><path d="M78.89 352.6l1.15 -2l1.15 2z" fill="#1a4b8b" opacity="1"/><path d="M73.62 349.88l1.15 -2l1.15 2z" fill="#1a4b8b" opacity="1"/><path d="M73.52 351.76l1.15 -2l1.15 2z" fill="#1a4b8b" opacity="1"/><path d="M72.71 348.78l1.15 -2l1.15 2z" fill="#1a4b8b" opacity="1"/><path d="M72.42 347.8l1.15 -2l1.15 2z" fill="#1a4b8b" opacity="1"/><path d="M78.72 353.52l1.15 -2l1.15 2z" fill="#1a4b8b" opacity="1"/><path d="M73.74 351.06l1.15 -2l1.15 2z" fill="#1a4b8b" opacity="1"/><path d="M69.31 349.1l1.15 -2l1.15 2z" fill="#1a4b8b" opacity="1"/><path d="M76.8 348.65l1.15 -2l1.15 2z" fill="#1a4b8b" opacity="1"/><path d="M72.25 352.7l1.15 -2l1.15 2z" fill="#1a4b8b" opacity="1"/><path d="M76.72 352.14l1.15 -2l1.15 2z" fill="#1a4b8b" opacity="1"/><path d="M75.52 351.52l1.15 -2l1.15 2z" fill="#1a4b8b" opacity="1"/><path d="M72.28 351.97l1.15 -2l1.15 2z" fill="#1a4b8b" opacity="1"/><path d="M71.38 351.59l1.15 -2l1.15 2z" fill="#1a4b8b" opacity="1"/><path d="M76.66 350.1l1.15 -2l1.15 2z" fill="#1a4b8b" opacity="1"/><path d="M71.52 351.5l1.15 -2l1.15 2z" fill="#1a4b8b" opacity="1"/><path d="M75.37 353.23l1.15 -2l1.15 2z" fill="#1a4b8b" opacity="1"/><path d="M68.48 350.75l1.15 -2l1.15 2z" fill="#1a4b8b" opacity="1"/><path d="M71.06 350.52l1.15 -2l1.15 2z" fill="#1a4b8b" opacity="1"/><path d="M73.35 351.37l1.15 -2l1.15 2z" fill="#1a4b8b" opacity="1"/><path d="M75.34 352.35l1.15 -2l1.15 2z" fill="#1a4b8b" opacity="1"/><path d="M72.11 352.22l1.15 -2l1.15 2z" fill="#1a4b8b" opacity="1"/><path d="M76.32 351.18l1.15 -2l1.15 2z" fill="#1a4b8b" opacity="1"/><path d="M72.13 352.43l1.15 -2l1.15 2z" fill="#1a4b8b" opacity="1"/><path d="M77.75 352.53l1.15 -2l1.15 2z" fill="#1a4b8b" opacity="1"/><path d="M78.89 351.48l1.15 -2l1.15 2z" fill="#1a4b8b" opacity="1"/><path d="M73.95 353.3l1.15 -2l1.15 2z" fill="#1a4b8b" opacity="1"/><path d="M70.14 350.4l1.15 -2l1.15 2z" fill="#1a4b8b" opacity="1"/><path d="M78.47 352.49l1.15 -2l1.15 2z" fill="#1a4b8b" opacity="1"/><path d="M75.82 350.05l1.15 -2l1.15 2z" fill="#1a4b8b" opacity="1"/><path d="M76.24 351.69l1.15 -2l1.15 2z" fill="#1a4b8b" opacity="1"/><path d="M76.78 347.97l1.15 -2l1.15 2z" fill="#1a4b8b" opacity="1"/><path d="M75.54 350.75l1.15 -2l1.15 2z" fill="#1a4b8b" opacity="1"/><path d="M75.09 349.66l1.15 -2l1.15 2z" fill="#1a4b8b" opacity="1"/><path d="M75.23 352.07l1.15 -2l1.15 2z" fill="#1a4b8b" opacity="1"/><path d="M68.65 351.7l1.15 -2l1.15 2z" fill="#1a4b8b" opacity="1"/><path d="M73.11 347.89l1.15 -2l1.15 2z" fill="#1a4b8b" opacity="1"/><path d="M70.72 351.22l1.15 -2l1.15 2z" fill="#1a4b8b" opacity="1"/><path d="M75.16 351.46l1.15 -2l1.15 2z" fill="#1a4b8b" opacity="1"/><path d="M73.44 347.08l1.15 -2l1.15 2z" fill="#1a4b8b" opacity="1"/><path d="M68.93 348.34l1.15 -2l1.15 2z" fill="#1a4b8b" opacity="1"/><path d="M71.78 347.71l1.15 -2l1.15 2z" fill="#1a4b8b" opacity="1"/><path d="M70.44 348.03l1.15 -2l1.15 2z" fill="#1a4b8b" opacity="1"/><path d="M73.38 347.04l1.15 -2l1.15 2z" fill="#1a4b8b" opacity="1"/><path d="M74.96 349.39l1.15 -2l1.15 2z" fill="#1a4b8b" opacity="1"/><path d="M70.92 350.81l1.15 -2l1.15 2z" fill="#1a4b8b" opacity="1"/><path d="M68.36 352.94l1.15 -2l1.15 2z" fill="#1a4b8b" opacity="1"/><path d="M71.36 349.56l1.15 -2l1.15 2z" fill="#1a4b8b" opacity="1"/><path d="M69.59 349.59l1.15 -2l1.15 2z" fill="#1a4b8b" opacity="1"/><path d="M72.39 352.45l1.15 -2l1.15 2z" fill="#1a4b8b" opacity="1"/><path d="M74.98 347.05l1.15 -2l1.15 2z" fill="#1a4b8b" opacity="1"/><path d="M74.24 347.44l1.15 -2l1.15 2z" fill="#1a4b8b" opacity="1"/><path d="M74.62 349.11l1.15 -2l1.15 2z" fill="#1a4b8b" opacity="1"/><path d="M77.19 353.32l1.15 -2l1.15 2z" fill="#1a4b8b" opacity="1"/><path d="M77.13 349.65l1.15 -2l1.15 2z" fill="#1a4b8b" opacity="1"/><path d="M72.34 351.17l1.15 -2l1.15 2z" fill="#1a4b8b" opacity="1"/><path d="M74.79 347.77l1.15 -2l1.15 2z" fill="#1a4b8b" opacity="1"/><path d="M78.69 350.63l1.15 -2l1.15 2z" fill="#1a4b8b" opacity="1"/><path d="M74.92 353.38l1.15 -2l1.15 2z" fill="#1a4b8b" opacity="1"/><path d="M78 349.19l1.15 -2l1.15 2z" fill="#1a4b8b" opacity="1"/><path d="M69.52 346.81l1.15 -2l1.15 2z" fill="#1a4b8b" opacity="1"/><path d="M74.99 350.65l1.15 -2l1.15 2z" fill="#1a4b8b" opacity="1"/><path d="M75.15 347.76l1.15 -2l1.15 2z" fill="#1a4b8b" opacity="1"/><path d="M72.41 352.86l1.15 -2l1.15 2z" fill="#1a4b8b" opacity="1"/><path d="M73.65 355.6l1.15 -2l1.15 2z" fill="#1a4b8b" opacity="1"/><path d="M73.34 357l1.15 -2l1.15 2z" fill="#1a4b8b" opacity="1"/><path d="M73.44 359.9l1.15 -2l1.15 2z" fill="#1a4b8b" opacity="1"/><path d="M74.46 370.9l1.15 -2l1.15 2z" fill="#1a4b8b" opacity="1"/><path d="M73.57 378l1.15 -2l1.15 2z" fill="#1a4b8b" opacity="1"/>
<line x1="69.1" y1="350.6" x2="80.7" y2="350.6" stroke="#111" stroke-width="1.3"/>
<line x1="91.3" y1="404.4" x2="91.3" y2="407.4" stroke="#333" stroke-width="0.9"/>
<path d="M91.89 355.66l1.1 -1.9l1.1 1.9z" fill="none" stroke="#39a93a" stroke-width="0.5" opacity="0.9"/><path d="M88.53 351.04l1.1 -1.9l1.1 1.9z" fill="none" stroke="#39a93a" stroke-width="0.5" opacity="0.9"/><path d="M90.19 355.93l1.1 -1.9l1.1 1.9z" fill="none" stroke="#39a93a" stroke-width="0.5" opacity="0.9"/><path d="M88.72 349.12l1.1 -1.9l1.1 1.9z" fill="none" stroke="#39a93a" stroke-width="0.5" opacity="0.9"/><path d="M90.17 355.98l1.1 -1.9l1.1 1.9z" fill="none" stroke="#39a93a" stroke-width="0.5" opacity="0.9"/><path d="M89.99 347.94l1.1 -1.9l1.1 1.9z" fill="none" stroke="#39a93a" stroke-width="0.5" opacity="0.9"/><path d="M91.38 346.73l1.1 -1.9l1.1 1.9z" fill="none" stroke="#39a93a" stroke-width="0.5" opacity="0.9"/><path d="M88.55 349.4l1.1 -1.9l1.1 1.9z" fill="none" stroke="#39a93a" stroke-width="0.5" opacity="0.9"/><path d="M92.02 353.28l1.1 -1.9l1.1 1.9z" fill="none" stroke="#39a93a" stroke-width="0.5" opacity="0.9"/><path d="M90.53 346.22l1.1 -1.9l1.1 1.9z" fill="none" stroke="#39a93a" stroke-width="0.5" opacity="0.9"/><path d="M94.11 347.83l1.1 -1.9l1.1 1.9z" fill="none" stroke="#39a93a" stroke-width="0.5" opacity="0.9"/><path d="M88.78 353.29l1.1 -1.9l1.1 1.9z" fill="none" stroke="#39a93a" stroke-width="0.5" opacity="0.9"/><path d="M87.09 347.78l1.1 -1.9l1.1 1.9z" fill="none" stroke="#39a93a" stroke-width="0.5" opacity="0.9"/><path d="M89.4 356.04l1.1 -1.9l1.1 1.9z" fill="none" stroke="#39a93a" stroke-width="0.5" opacity="0.9"/><path d="M90.03 351.18l1.1 -1.9l1.1 1.9z" fill="none" stroke="#39a93a" stroke-width="0.5" opacity="0.9"/><path d="M90.89 351.61l1.1 -1.9l1.1 1.9z" fill="none" stroke="#39a93a" stroke-width="0.5" opacity="0.9"/><path d="M87.96 352.8l1.1 -1.9l1.1 1.9z" fill="none" stroke="#39a93a" stroke-width="0.5" opacity="0.9"/><path d="M89.06 353.01l1.1 -1.9l1.1 1.9z" fill="none" stroke="#39a93a" stroke-width="0.5" opacity="0.9"/><path d="M88.99 350.35l1.1 -1.9l1.1 1.9z" fill="none" stroke="#39a93a" stroke-width="0.5" opacity="0.9"/><path d="M90.46 348.03l1.1 -1.9l1.1 1.9z" fill="none" stroke="#39a93a" stroke-width="0.5" opacity="0.9"/><path d="M89.11 349.62l1.1 -1.9l1.1 1.9z" fill="none" stroke="#39a93a" stroke-width="0.5" opacity="0.9"/><path d="M90.73 352.82l1.1 -1.9l1.1 1.9z" fill="none" stroke="#39a93a" stroke-width="0.5" opacity="0.9"/><path d="M87.74 346.3l1.1 -1.9l1.1 1.9z" fill="none" stroke="#39a93a" stroke-width="0.5" opacity="0.9"/><path d="M93.5 349.53l1.1 -1.9l1.1 1.9z" fill="none" stroke="#39a93a" stroke-width="0.5" opacity="0.9"/><path d="M90.41 354.67l1.1 -1.9l1.1 1.9z" fill="none" stroke="#39a93a" stroke-width="0.5" opacity="0.9"/><path d="M92.98 346.23l1.1 -1.9l1.1 1.9z" fill="none" stroke="#39a93a" stroke-width="0.5" opacity="0.9"/><path d="M90.81 349.25l1.1 -1.9l1.1 1.9z" fill="none" stroke="#39a93a" stroke-width="0.5" opacity="0.9"/><path d="M91.01 352.37l1.1 -1.9l1.1 1.9z" fill="none" stroke="#39a93a" stroke-width="0.5" opacity="0.9"/><path d="M93.39 349.8l1.1 -1.9l1.1 1.9z" fill="none" stroke="#39a93a" stroke-width="0.5" opacity="0.9"/><path d="M89.3 348.83l1.1 -1.9l1.1 1.9z" fill="none" stroke="#39a93a" stroke-width="0.5" opacity="0.9"/><path d="M88.68 354.19l1.1 -1.9l1.1 1.9z" fill="none" stroke="#39a93a" stroke-width="0.5" opacity="0.9"/><path d="M93.12 348.02l1.1 -1.9l1.1 1.9z" fill="none" stroke="#39a93a" stroke-width="0.5" opacity="0.9"/><path d="M93.52 346.42l1.1 -1.9l1.1 1.9z" fill="none" stroke="#39a93a" stroke-width="0.5" opacity="0.9"/><path d="M89.78 352.2l1.1 -1.9l1.1 1.9z" fill="none" stroke="#39a93a" stroke-width="0.5" opacity="0.9"/><path d="M92.7 347.94l1.1 -1.9l1.1 1.9z" fill="none" stroke="#39a93a" stroke-width="0.5" opacity="0.9"/><path d="M88.59 354.97l1.1 -1.9l1.1 1.9z" fill="none" stroke="#39a93a" stroke-width="0.5" opacity="0.9"/><path d="M90.58 349.76l1.1 -1.9l1.1 1.9z" fill="none" stroke="#39a93a" stroke-width="0.5" opacity="0.9"/><path d="M88.91 349.96l1.1 -1.9l1.1 1.9z" fill="none" stroke="#39a93a" stroke-width="0.5" opacity="0.9"/><path d="M91.02 346.93l1.1 -1.9l1.1 1.9z" fill="none" stroke="#39a93a" stroke-width="0.5" opacity="0.9"/><path d="M87.9 353.67l1.1 -1.9l1.1 1.9z" fill="none" stroke="#39a93a" stroke-width="0.5" opacity="0.9"/><path d="M93.14 347.48l1.1 -1.9l1.1 1.9z" fill="none" stroke="#39a93a" stroke-width="0.5" opacity="0.9"/><path d="M91.1 353.41l1.1 -1.9l1.1 1.9z" fill="none" stroke="#39a93a" stroke-width="0.5" opacity="0.9"/><path d="M92.42 346.26l1.1 -1.9l1.1 1.9z" fill="none" stroke="#39a93a" stroke-width="0.5" opacity="0.9"/><path d="M92.16 355.9l1.1 -1.9l1.1 1.9z" fill="none" stroke="#39a93a" stroke-width="0.5" opacity="0.9"/><path d="M87.4 352.28l1.1 -1.9l1.1 1.9z" fill="none" stroke="#39a93a" stroke-width="0.5" opacity="0.9"/><path d="M88.77 354.06l1.1 -1.9l1.1 1.9z" fill="none" stroke="#39a93a" stroke-width="0.5" opacity="0.9"/><path d="M93.19 351.62l1.1 -1.9l1.1 1.9z" fill="none" stroke="#39a93a" stroke-width="0.5" opacity="0.9"/><path d="M87.97 352.42l1.1 -1.9l1.1 1.9z" fill="none" stroke="#39a93a" stroke-width="0.5" opacity="0.9"/><path d="M93.91 347.99l1.1 -1.9l1.1 1.9z" fill="none" stroke="#39a93a" stroke-width="0.5" opacity="0.9"/><path d="M91.26 346.9l1.1 -1.9l1.1 1.9z" fill="none" stroke="#39a93a" stroke-width="0.5" opacity="0.9"/><path d="M87.43 349.11l1.1 -1.9l1.1 1.9z" fill="none" stroke="#39a93a" stroke-width="0.5" opacity="0.9"/><path d="M87.1 351.35l1.1 -1.9l1.1 1.9z" fill="none" stroke="#39a93a" stroke-width="0.5" opacity="0.9"/><path d="M89.03 346.64l1.1 -1.9l1.1 1.9z" fill="none" stroke="#39a93a" stroke-width="0.5" opacity="0.9"/><path d="M85.85 346.45l1.1 -1.9l1.1 1.9z" fill="none" stroke="#39a93a" stroke-width="0.5" opacity="0.9"/><path d="M91.92 350.81l1.1 -1.9l1.1 1.9z" fill="none" stroke="#39a93a" stroke-width="0.5" opacity="0.9"/><circle cx="91.3" cy="362.2" r="0.5" fill="#39a93a"/><circle cx="91.3" cy="373.3" r="0.5" fill="#39a93a"/>
<line x1="85.5" y1="350.8" x2="97.1" y2="350.8" stroke="#111" stroke-width="1.3"/>
<line x1="108.3" y1="404.4" x2="108.3" y2="407.4" stroke="#333" stroke-width="0.9"/>
<rect x="105.5" y="345.7" width="1.0" height="1.0" fill="#333"/><rect x="110.1" y="345.7" width="1.0" height="1.0" fill="#333"/><rect x="103.5" y="349.3" width="1.0" height="1.0" fill="#333"/><rect x="106.9" y="349.3" width="1.0" height="1.0" fill="#333"/><rect x="111" y="349.3" width="1.0" height="1.0" fill="#333"/><rect x="107.7" y="352.8" width="1.0" height="1.0" fill="#333"/><rect x="106.1" y="355.8" width="1.0" height="1.0" fill="#333"/><rect x="109.1" y="356.9" width="1.0" height="1.0" fill="#333"/><rect x="107.3" y="359.8" width="1.0" height="1.0" fill="#333"/><rect x="104.2" y="361.3" width="1.0" height="1.0" fill="#333"/><rect x="109.3" y="361.1" width="1.0" height="1.0" fill="#333"/><rect x="111.7" y="362.3" width="1.0" height="1.0" fill="#333"/><rect x="104.8" y="366.3" width="1.0" height="1.0" fill="#333"/><rect x="107.3" y="366" width="1.0" height="1.0" fill="#333"/><rect x="110.1" y="366.4" width="1.0" height="1.0" fill="#333"/><rect x="112.7" y="365.7" width="1.0" height="1.0" fill="#333"/><rect x="103.3" y="368.4" width="1.0" height="1.0" fill="#333"/><rect x="106.4" y="369" width="1.0" height="1.0" fill="#333"/><rect x="109.1" y="369.1" width="1.0" height="1.0" fill="#333"/><rect x="104.9" y="371.5" width="1.0" height="1.0" fill="#333"/><rect x="107.9" y="372.3" width="1.0" height="1.0" fill="#333"/><rect x="111" y="371.2" width="1.0" height="1.0" fill="#333"/><rect x="105.7" y="377.1" width="1.0" height="1.0" fill="#333"/><rect x="108.9" y="377.1" width="1.0" height="1.0" fill="#333"/><rect x="107.4" y="381.8" width="1.0" height="1.0" fill="#333"/><rect x="110.7" y="363.6" width="1.0" height="1.0" fill="#333"/>
<line x1="102.5" y1="364.2" x2="114.1" y2="364.2" stroke="#111" stroke-width="1.3"/>
<line x1="57.7" y1="311.2" x2="108.5" y2="311.2" stroke="#555" stroke-width="0.8"/>
<line x1="57.7" y1="309.9" x2="57.7" y2="312.5" stroke="#555" stroke-width="0.8"/>
<line x1="108.5" y1="309.9" x2="108.5" y2="312.5" stroke="#555" stroke-width="0.8"/>
<text x="83.35" y="311.9" font-size="5.8" text-anchor="middle" font-weight="bold" letter-spacing="0.5">****</text>
<line x1="75.8" y1="318.1" x2="108.5" y2="318.1" stroke="#555" stroke-width="0.8"/>
<line x1="75.8" y1="316.8" x2="75.8" y2="319.4" stroke="#555" stroke-width="0.8"/>
<line x1="108.5" y1="316.8" x2="108.5" y2="319.4" stroke="#555" stroke-width="0.8"/>
<text x="92.4" y="318.8" font-size="5.8" text-anchor="middle" font-weight="bold" letter-spacing="0.5">****</text>
<line x1="57.7" y1="327.3" x2="73.4" y2="327.3" stroke="#555" stroke-width="0.8"/>
<line x1="57.7" y1="326" x2="57.7" y2="328.6" stroke="#555" stroke-width="0.8"/>
<line x1="73.4" y1="326" x2="73.4" y2="328.6" stroke="#555" stroke-width="0.8"/>
<text x="65.55" y="326.7" font-size="6.3" text-anchor="middle" fill="#333">NS</text>
<line x1="76.2" y1="327.3" x2="91.2" y2="327.3" stroke="#555" stroke-width="0.8"/>
<line x1="76.2" y1="326" x2="76.2" y2="328.6" stroke="#555" stroke-width="0.8"/>
<line x1="91.2" y1="326" x2="91.2" y2="328.6" stroke="#555" stroke-width="0.8"/>
<text x="83.7" y="326.7" font-size="6.3" text-anchor="middle" fill="#333">NS</text>
<line x1="93.5" y1="327.3" x2="108.5" y2="327.3" stroke="#555" stroke-width="0.8"/>
<line x1="93.5" y1="326" x2="93.5" y2="328.6" stroke="#555" stroke-width="0.8"/>
<line x1="108.5" y1="326" x2="108.5" y2="328.6" stroke="#555" stroke-width="0.8"/>
<text x="101.25" y="328" font-size="5.8" text-anchor="middle" font-weight="bold" letter-spacing="0.5">****</text>
<line x1="57.7" y1="337.7" x2="91.2" y2="337.7" stroke="#555" stroke-width="0.8"/>
<line x1="57.7" y1="336.4" x2="57.7" y2="339" stroke="#555" stroke-width="0.8"/>
<line x1="91.2" y1="336.4" x2="91.2" y2="339" stroke="#555" stroke-width="0.8"/>
<text x="74.45" y="337.1" font-size="6.3" text-anchor="middle" fill="#333">NS</text>
<text x="61.2" y="413.7" font-size="7" text-anchor="end" textLength="10.11" lengthAdjust="spacingAndGlyphs" transform="rotate(-45 61.2 413.7)">WT</text>
<text x="78.1" y="413.7" font-size="7" text-anchor="end" textLength="36.25" lengthAdjust="spacingAndGlyphs" transform="rotate(-45 78.1 413.7)">β-cateninKO</text>
<text x="94.5" y="413.7" font-size="7" text-anchor="end" textLength="28.18" lengthAdjust="spacingAndGlyphs" transform="rotate(-45 94.5 413.7)">Hoxa9KO</text>
<text x="111.5" y="413.7" font-size="7" text-anchor="end" textLength="13.01" lengthAdjust="spacingAndGlyphs" transform="rotate(-45 111.5 413.7)">dKO</text>
<text x="28.5" y="366.6" font-size="8.2" text-anchor="middle" fill="#333" textLength="69.2" lengthAdjust="spacingAndGlyphs" transform="rotate(-90 28.5 366.6)">Ratio sister fork symmetry</text>
<text x="128.8" y="309.4" font-size="10.6" font-weight="bold" fill="#111" stroke="#111" stroke-width="0.35">H</text>
<line x1="165" y1="325.4" x2="165" y2="405" stroke="#1a1a1a" stroke-width="1.05"/>
<line x1="162.2" y1="404.4" x2="165" y2="404.4" stroke="#1a1a1a" stroke-width="0.9"/>
<text x="158.6" y="406.6" font-size="6.3" text-anchor="end" fill="#333">0</text>
<line x1="162.2" y1="389.08" x2="165" y2="389.08" stroke="#1a1a1a" stroke-width="0.9"/>
<text x="158.6" y="391.28" font-size="6.3" text-anchor="end" fill="#333">2</text>
<line x1="162.2" y1="373.76" x2="165" y2="373.76" stroke="#1a1a1a" stroke-width="0.9"/>
<text x="158.6" y="375.96" font-size="6.3" text-anchor="end" fill="#333">4</text>
<line x1="162.2" y1="358.44" x2="165" y2="358.44" stroke="#1a1a1a" stroke-width="0.9"/>
<text x="158.6" y="360.64" font-size="6.3" text-anchor="end" fill="#333">6</text>
<line x1="162.2" y1="343.12" x2="165" y2="343.12" stroke="#1a1a1a" stroke-width="0.9"/>
<text x="158.6" y="345.32" font-size="6.3" text-anchor="end" fill="#333">8</text>
<line x1="162.2" y1="327.8" x2="165" y2="327.8" stroke="#1a1a1a" stroke-width="0.9"/>
<text x="158.6" y="330" font-size="6.3" text-anchor="end" fill="#333">10</text>
<line x1="175.55" y1="379.12" x2="175.55" y2="385.63" stroke="#333" stroke-width="0.9"/>
<line x1="172.75" y1="379.12" x2="178.35" y2="379.12" stroke="#333" stroke-width="0.9"/>
<rect x="170.5" y="385.63" width="10.1" height="18.77" fill="#cc0a2f"/>
<line x1="191.35" y1="372.99" x2="191.35" y2="379.12" stroke="#333" stroke-width="0.9"/>
<line x1="188.55" y1="372.99" x2="194.15" y2="372.99" stroke="#333" stroke-width="0.9"/>
<rect x="186.6" y="379.12" width="9.5" height="25.28" fill="#1a4b8b"/>
<line x1="206.9" y1="380.65" x2="206.9" y2="385.63" stroke="#333" stroke-width="0.9"/>
<line x1="204.1" y1="380.65" x2="209.7" y2="380.65" stroke="#333" stroke-width="0.9"/>
<rect x="202.1" y="385.63" width="9.6" height="18.77" fill="#39a93a"/>
<line x1="222.7" y1="333.54" x2="222.7" y2="334.69" stroke="#333" stroke-width="0.9"/>
<line x1="219.9" y1="333.54" x2="225.5" y2="333.54" stroke="#333" stroke-width="0.9"/>
<rect x="217.9" y="334.69" width="9.6" height="69.71" fill="#161616"/>
<line x1="162" y1="404.4" x2="233" y2="404.4" stroke="#1a1a1a" stroke-width="1.2"/>
<line x1="175.55" y1="404.4" x2="175.55" y2="407.4" stroke="#333" stroke-width="0.9"/>
<line x1="191.35" y1="404.4" x2="191.35" y2="407.4" stroke="#333" stroke-width="0.9"/>
<line x1="206.9" y1="404.4" x2="206.9" y2="407.4" stroke="#333" stroke-width="0.9"/>
<line x1="222.7" y1="404.4" x2="222.7" y2="407.4" stroke="#333" stroke-width="0.9"/>
<line x1="175.3" y1="311.2" x2="222.5" y2="311.2" stroke="#555" stroke-width="0.8"/>
<line x1="175.3" y1="309.9" x2="175.3" y2="312.5" stroke="#555" stroke-width="0.8"/>
<line x1="222.5" y1="309.9" x2="222.5" y2="312.5" stroke="#555" stroke-width="0.8"/>
<text x="199.15" y="311.9" font-size="5.8" text-anchor="middle" font-weight="bold" letter-spacing="0.5">**</text>
<line x1="191.5" y1="318.1" x2="222.5" y2="318.1" stroke="#555" stroke-width="0.8"/>
<line x1="191.5" y1="316.8" x2="191.5" y2="319.4" stroke="#555" stroke-width="0.8"/>
<line x1="222.5" y1="316.8" x2="222.5" y2="319.4" stroke="#555" stroke-width="0.8"/>
<text x="207.25" y="318.8" font-size="5.8" text-anchor="middle" font-weight="bold" letter-spacing="0.5">**</text>
<line x1="175.3" y1="327.3" x2="190.8" y2="327.3" stroke="#555" stroke-width="0.8"/>
<line x1="175.3" y1="326" x2="175.3" y2="328.6" stroke="#555" stroke-width="0.8"/>
<line x1="190.8" y1="326" x2="190.8" y2="328.6" stroke="#555" stroke-width="0.8"/>
<text x="183.05" y="326.7" font-size="6.3" text-anchor="middle" fill="#333">NS</text>
<line x1="192.4" y1="327.3" x2="206.3" y2="327.3" stroke="#555" stroke-width="0.8"/>
<line x1="192.4" y1="326" x2="192.4" y2="328.6" stroke="#555" stroke-width="0.8"/>
<line x1="206.3" y1="326" x2="206.3" y2="328.6" stroke="#555" stroke-width="0.8"/>
<text x="199.35" y="326.7" font-size="6.3" text-anchor="middle" fill="#333">NS</text>
<line x1="208.1" y1="327.3" x2="222.5" y2="327.3" stroke="#555" stroke-width="0.8"/>
<line x1="208.1" y1="326" x2="208.1" y2="328.6" stroke="#555" stroke-width="0.8"/>
<line x1="222.5" y1="326" x2="222.5" y2="328.6" stroke="#555" stroke-width="0.8"/>
<text x="215.55" y="328" font-size="5.8" text-anchor="middle" font-weight="bold" letter-spacing="0.5">***</text>
<line x1="175.3" y1="337.7" x2="206.3" y2="337.7" stroke="#555" stroke-width="0.8"/>
<line x1="175.3" y1="336.4" x2="175.3" y2="339" stroke="#555" stroke-width="0.8"/>
<line x1="206.3" y1="336.4" x2="206.3" y2="339" stroke="#555" stroke-width="0.8"/>
<text x="190.8" y="337.1" font-size="6.3" text-anchor="middle" fill="#333">NS</text>
<text x="178.5" y="413.7" font-size="7" text-anchor="end" textLength="10.11" lengthAdjust="spacingAndGlyphs" transform="rotate(-45 178.5 413.7)">WT</text>
<text x="194.5" y="413.7" font-size="7" text-anchor="end" textLength="36.25" lengthAdjust="spacingAndGlyphs" transform="rotate(-45 194.5 413.7)">β-cateninKO</text>
<text x="210.1" y="413.7" font-size="7" text-anchor="end" textLength="28.18" lengthAdjust="spacingAndGlyphs" transform="rotate(-45 210.1 413.7)">Hoxa9KO</text>
<text x="225.9" y="413.7" font-size="7" text-anchor="end" textLength="13.01" lengthAdjust="spacingAndGlyphs" transform="rotate(-45 225.9 413.7)">dKO</text>
<text x="146.2" y="364.3" font-size="8.2" text-anchor="middle" fill="#333" textLength="50.3" lengthAdjust="spacingAndGlyphs" transform="rotate(-90 146.2 364.3)">Freq stalled forks</text>
<text x="241.2" y="309.4" font-size="10.6" font-weight="bold" fill="#111" stroke="#111" stroke-width="0.35">I</text>
<text x="305" y="310.2" font-size="6.2" text-anchor="middle" fill="#333">γH2AX</text>
<text x="342.2" y="310.2" font-size="6.2" text-anchor="middle" fill="#333">DAPI</text>
<text x="380.2" y="310.2" font-size="6.2" text-anchor="middle" fill="#333">Merge</text>
<text x="283.6" y="333.6" font-size="6.6" text-anchor="end">WT</text>
<rect x="287" y="315" width="36" height="30.2" fill="#03030a"/>
<clipPath id="cp00"><rect x="287" y="315" width="36" height="30.2"/></clipPath>
<g clip-path="url(#cp00)"><g filter="url(#bli)"><circle cx="287.47" cy="340.12" r="1.39" fill="#3aa84a" opacity="0.28"/><circle cx="295.44" cy="344.87" r="1.49" fill="#3aa84a" opacity="0.31"/><circle cx="317.11" cy="329.29" r="1.56" fill="#3aa84a" opacity="0.36"/><circle cx="312.88" cy="341.36" r="1.6" fill="#3aa84a" opacity="0.39"/><circle cx="320.68" cy="341.37" r="1.32" fill="#3aa84a" opacity="0.13"/><circle cx="291.89" cy="321.51" r="1.71" fill="#3aa84a" opacity="0.12"/><circle cx="302.7" cy="333.8" r="1.41" fill="#3aa84a" opacity="0.23"/><circle cx="297.26" cy="316.9" r="1.66" fill="#3aa84a" opacity="0.16"/><circle cx="322.63" cy="317.66" r="1.64" fill="#3aa84a" opacity="0.35"/><circle cx="301.78" cy="319.52" r="1.41" fill="#3aa84a" opacity="0.38"/></g></g>
<text x="317" y="342.6" font-size="2.6" text-anchor="middle" fill="#e8e8e8">20μm</text>
<line x1="314.2" y1="343.2" x2="320.2" y2="343.2" stroke="#888" stroke-width="0.4"/>
<rect x="324.5" y="315" width="36" height="30.2" fill="#03030a"/>
<clipPath id="cp01"><rect x="324.5" y="315" width="36" height="30.2"/></clipPath>
<g clip-path="url(#cp01)"><g filter="url(#bli)"><circle cx="333.07" cy="331.33" r="1.92" fill="#4a4ad2" opacity="0.92"/><circle cx="346.24" cy="333.77" r="1.74" fill="#4a4ad2" opacity="0.76"/><circle cx="324.97" cy="340.12" r="1.86" fill="#4a4ad2" opacity="0.79"/><circle cx="332.94" cy="344.87" r="1.98" fill="#4a4ad2" opacity="0.81"/><circle cx="354.61" cy="329.29" r="2.08" fill="#4a4ad2" opacity="0.84"/><circle cx="345.78" cy="324.04" r="1.72" fill="#4a4ad2" opacity="0.83"/><circle cx="350.38" cy="341.36" r="2.13" fill="#4a4ad2" opacity="0.82"/><circle cx="358.18" cy="341.37" r="1.76" fill="#4a4ad2" opacity="0.84"/><circle cx="329.39" cy="321.51" r="2.28" fill="#4a4ad2" opacity="0.93"/><circle cx="340.2" cy="333.8" r="1.88" fill="#4a4ad2" opacity="0.8"/><circle cx="334.76" cy="316.9" r="2.21" fill="#4a4ad2" opacity="0.78"/><circle cx="360.13" cy="317.66" r="2.18" fill="#4a4ad2" opacity="0.87"/><circle cx="339.28" cy="319.52" r="1.88" fill="#4a4ad2" opacity="0.72"/></g></g>
<text x="354.5" y="342.6" font-size="2.6" text-anchor="middle" fill="#e8e8e8">20μm</text>
<line x1="351.7" y1="343.2" x2="357.7" y2="343.2" stroke="#888" stroke-width="0.4"/>
<rect x="362.2" y="315" width="36" height="30.2" fill="#03030a"/>
<clipPath id="cp02"><rect x="362.2" y="315" width="36" height="30.2"/></clipPath>
<g clip-path="url(#cp02)"><g filter="url(#bli)"><circle cx="370.77" cy="331.33" r="1.92" fill="#4664d6" opacity="0.74"/><circle cx="383.94" cy="333.77" r="1.74" fill="#4664d6" opacity="0.94"/><circle cx="362.67" cy="340.12" r="1.86" fill="#4664d6" opacity="0.81"/><circle cx="370.64" cy="344.87" r="1.98" fill="#4664d6" opacity="0.81"/><circle cx="392.31" cy="329.29" r="2.08" fill="#4664d6" opacity="0.65"/><circle cx="383.48" cy="324.04" r="1.72" fill="#4664d6" opacity="0.77"/><circle cx="388.08" cy="341.36" r="2.13" fill="#4664d6" opacity="0.82"/><circle cx="395.88" cy="341.37" r="1.76" fill="#4664d6" opacity="0.66"/><circle cx="367.09" cy="321.51" r="2.28" fill="#4664d6" opacity="0.83"/><circle cx="377.9" cy="333.8" r="1.88" fill="#4664d6" opacity="0.84"/><circle cx="372.46" cy="316.9" r="2.21" fill="#4664d6" opacity="0.67"/><circle cx="397.83" cy="317.66" r="2.18" fill="#4664d6" opacity="0.84"/><circle cx="376.98" cy="319.52" r="1.88" fill="#4664d6" opacity="0.79"/></g></g>
<text x="392.2" y="342.6" font-size="2.6" text-anchor="middle" fill="#e8e8e8">20μm</text>
<line x1="389.4" y1="343.2" x2="395.4" y2="343.2" stroke="#888" stroke-width="0.4"/>
<text x="283.6" y="364.8" font-size="6.6" text-anchor="end">β-cateninKO</text>
<rect x="287" y="346.6" width="36" height="30.2" fill="#03030a"/>
<clipPath id="cp10"><rect x="287" y="346.6" width="36" height="30.2"/></clipPath>
<g clip-path="url(#cp10)"><g filter="url(#bli)"><circle cx="313.57" cy="347.27" r="1.3" fill="#3aa84a" opacity="0.24"/><circle cx="311.34" cy="375.5" r="1.39" fill="#3aa84a" opacity="0.4"/><circle cx="303.43" cy="364.38" r="1.42" fill="#3aa84a" opacity="0.38"/><circle cx="300.1" cy="355.98" r="1.44" fill="#3aa84a" opacity="0.19"/><circle cx="300.58" cy="369.77" r="1.29" fill="#3aa84a" opacity="0.39"/><circle cx="307.49" cy="368.66" r="1.41" fill="#3aa84a" opacity="0.38"/><circle cx="316.06" cy="365.86" r="1.64" fill="#3aa84a" opacity="0.33"/><circle cx="287.17" cy="374.9" r="1.67" fill="#3aa84a" opacity="0.21"/><circle cx="322.53" cy="359.63" r="1.7" fill="#3aa84a" opacity="0.3"/><circle cx="320.26" cy="373.5" r="1.68" fill="#3aa84a" opacity="0.28"/><circle cx="310.86" cy="362.35" r="1.46" fill="#3aa84a" opacity="0.15"/></g></g>
<text x="317" y="374.2" font-size="2.6" text-anchor="middle" fill="#e8e8e8">20μm</text>
<line x1="314.2" y1="374.8" x2="320.2" y2="374.8" stroke="#888" stroke-width="0.4"/>
<rect x="324.5" y="346.6" width="36" height="30.2" fill="#03030a"/>
<clipPath id="cp11"><rect x="324.5" y="346.6" width="36" height="30.2"/></clipPath>
<g clip-path="url(#cp11)"><g filter="url(#bli)"><circle cx="348.95" cy="357.18" r="2.12" fill="#4a4ad2" opacity="0.69"/><circle cx="351.07" cy="347.27" r="1.74" fill="#4a4ad2" opacity="0.69"/><circle cx="348.84" cy="375.5" r="1.85" fill="#4a4ad2" opacity="0.67"/><circle cx="340.93" cy="364.38" r="1.89" fill="#4a4ad2" opacity="0.94"/><circle cx="337.6" cy="355.98" r="1.92" fill="#4a4ad2" opacity="0.91"/><circle cx="338.08" cy="369.77" r="1.72" fill="#4a4ad2" opacity="0.68"/><circle cx="344.99" cy="368.66" r="1.89" fill="#4a4ad2" opacity="0.8"/><circle cx="332.51" cy="370.71" r="1.84" fill="#4a4ad2" opacity="0.74"/><circle cx="331.25" cy="359.66" r="2.12" fill="#4a4ad2" opacity="0.74"/><circle cx="354.69" cy="352.11" r="1.87" fill="#4a4ad2" opacity="0.76"/><circle cx="353.56" cy="365.86" r="2.18" fill="#4a4ad2" opacity="0.84"/><circle cx="336.93" cy="350.49" r="1.88" fill="#4a4ad2" opacity="0.83"/><circle cx="324.67" cy="374.9" r="2.23" fill="#4a4ad2" opacity="0.76"/><circle cx="360.03" cy="359.63" r="2.27" fill="#4a4ad2" opacity="0.71"/><circle cx="357.76" cy="373.5" r="2.24" fill="#4a4ad2" opacity="0.75"/><circle cx="345.27" cy="346.99" r="2.15" fill="#4a4ad2" opacity="0.69"/><circle cx="348.36" cy="362.35" r="1.95" fill="#4a4ad2" opacity="0.82"/></g></g>
<text x="354.5" y="374.2" font-size="2.6" text-anchor="middle" fill="#e8e8e8">20μm</text>
<line x1="351.7" y1="374.8" x2="357.7" y2="374.8" stroke="#888" stroke-width="0.4"/>
<rect x="362.2" y="346.6" width="36" height="30.2" fill="#03030a"/>
<clipPath id="cp12"><rect x="362.2" y="346.6" width="36" height="30.2"/></clipPath>
<g clip-path="url(#cp12)"><g filter="url(#bli)"><circle cx="386.65" cy="357.18" r="2.12" fill="#4664d6" opacity="0.86"/><circle cx="388.77" cy="347.27" r="1.74" fill="#4664d6" opacity="0.76"/><circle cx="386.54" cy="375.5" r="1.85" fill="#4664d6" opacity="0.67"/><circle cx="378.63" cy="364.38" r="1.89" fill="#4664d6" opacity="0.7"/><circle cx="375.3" cy="355.98" r="1.92" fill="#4664d6" opacity="0.76"/><circle cx="375.78" cy="369.77" r="1.72" fill="#4664d6" opacity="0.83"/><circle cx="382.69" cy="368.66" r="1.89" fill="#4664d6" opacity="0.88"/><circle cx="370.21" cy="370.71" r="1.84" fill="#4664d6" opacity="0.76"/><circle cx="368.95" cy="359.66" r="2.12" fill="#4664d6" opacity="0.89"/><circle cx="392.39" cy="352.11" r="1.87" fill="#4664d6" opacity="0.84"/><circle cx="391.26" cy="365.86" r="2.18" fill="#4664d6" opacity="0.78"/><circle cx="374.63" cy="350.49" r="1.88" fill="#4664d6" opacity="0.76"/><circle cx="362.37" cy="374.9" r="2.23" fill="#4664d6" opacity="0.8"/><circle cx="397.73" cy="359.63" r="2.27" fill="#4664d6" opacity="0.86"/><circle cx="395.46" cy="373.5" r="2.24" fill="#4664d6" opacity="0.78"/><circle cx="382.97" cy="346.99" r="2.15" fill="#4664d6" opacity="0.86"/><circle cx="386.06" cy="362.35" r="1.95" fill="#4664d6" opacity="0.79"/></g></g>
<text x="392.2" y="374.2" font-size="2.6" text-anchor="middle" fill="#e8e8e8">20μm</text>
<line x1="389.4" y1="374.8" x2="395.4" y2="374.8" stroke="#888" stroke-width="0.4"/>
<text x="283.6" y="395.4" font-size="6.6" text-anchor="end">Hoxa9KO</text>
<rect x="287" y="378.2" width="36" height="30.2" fill="#03030a"/>
<clipPath id="cp20"><rect x="287" y="378.2" width="36" height="30.2"/></clipPath>
<g clip-path="url(#cp20)"><g filter="url(#bli)"><circle cx="289.58" cy="390.95" r="1.32" fill="#3aa84a" opacity="0.28"/><circle cx="319.32" cy="401.93" r="1.24" fill="#3aa84a" opacity="0.29"/><circle cx="303.71" cy="381.89" r="1.49" fill="#3aa84a" opacity="0.16"/><circle cx="293.45" cy="378.9" r="1.5" fill="#3aa84a" opacity="0.13"/><circle cx="321.29" cy="395.57" r="1.48" fill="#3aa84a" opacity="0.25"/><circle cx="293.47" cy="385.7" r="1.4" fill="#3aa84a" opacity="0.17"/><circle cx="301.28" cy="388.71" r="1.31" fill="#3aa84a" opacity="0.2"/><circle cx="322.03" cy="390.58" r="1.46" fill="#3aa84a" opacity="0.26"/><circle cx="304.41" cy="397.49" r="1.53" fill="#3aa84a" opacity="0.18"/><circle cx="301.41" cy="400.21" r="1.56" fill="#3aa84a" opacity="0.15"/><circle cx="295.45" cy="399.73" r="1.43" fill="#3aa84a" opacity="0.11"/><circle cx="299.05" cy="391.29" r="1.34" fill="#3aa84a" opacity="0.13"/></g></g>
<text x="317" y="405.8" font-size="2.6" text-anchor="middle" fill="#e8e8e8">20μm</text>
<line x1="314.2" y1="406.4" x2="320.2" y2="406.4" stroke="#888" stroke-width="0.4"/>
<rect x="324.5" y="378.2" width="36" height="30.2" fill="#03030a"/>
<clipPath id="cp21"><rect x="324.5" y="378.2" width="36" height="30.2"/></clipPath>
<g clip-path="url(#cp21)"><g filter="url(#bli)"><circle cx="333.32" cy="394.28" r="1.92" fill="#4a4ad2" opacity="0.87"/><circle cx="327.08" cy="390.95" r="1.76" fill="#4a4ad2" opacity="0.83"/><circle cx="356.17" cy="406.29" r="1.72" fill="#4a4ad2" opacity="0.69"/><circle cx="356.82" cy="401.93" r="1.66" fill="#4a4ad2" opacity="0.77"/><circle cx="341.21" cy="381.89" r="1.99" fill="#4a4ad2" opacity="0.71"/><circle cx="348.34" cy="404.82" r="1.98" fill="#4a4ad2" opacity="0.81"/><circle cx="348.53" cy="400.21" r="1.84" fill="#4a4ad2" opacity="0.82"/><circle cx="328.21" cy="395.83" r="1.5" fill="#4a4ad2" opacity="0.71"/><circle cx="329.67" cy="401.43" r="1.53" fill="#4a4ad2" opacity="0.73"/><circle cx="327.8" cy="381.18" r="2.03" fill="#4a4ad2" opacity="0.88"/><circle cx="330.95" cy="378.9" r="2" fill="#4a4ad2" opacity="0.66"/><circle cx="358.79" cy="395.57" r="1.98" fill="#4a4ad2" opacity="0.89"/><circle cx="325.81" cy="401.22" r="1.81" fill="#4a4ad2" opacity="0.92"/><circle cx="350.25" cy="381.4" r="1.95" fill="#4a4ad2" opacity="0.93"/><circle cx="358.14" cy="380.03" r="1.69" fill="#4a4ad2" opacity="0.76"/><circle cx="344.8" cy="403.04" r="1.65" fill="#4a4ad2" opacity="0.82"/><circle cx="330.97" cy="385.7" r="1.87" fill="#4a4ad2" opacity="0.82"/><circle cx="351.63" cy="390.01" r="1.72" fill="#4a4ad2" opacity="0.84"/><circle cx="338.78" cy="388.71" r="1.75" fill="#4a4ad2" opacity="0.94"/><circle cx="359.53" cy="390.58" r="1.95" fill="#4a4ad2" opacity="0.86"/><circle cx="351.72" cy="398.42" r="1.81" fill="#4a4ad2" opacity="0.74"/><circle cx="341.91" cy="397.49" r="2.04" fill="#4a4ad2" opacity="0.91"/><circle cx="343.12" cy="391.49" r="1.93" fill="#4a4ad2" opacity="0.8"/><circle cx="335.83" cy="385.17" r="1.91" fill="#4a4ad2" opacity="0.83"/><circle cx="358.82" cy="387.08" r="1.92" fill="#4a4ad2" opacity="0.87"/><circle cx="339.38" cy="403.81" r="1.85" fill="#4a4ad2" opacity="0.65"/><circle cx="338.91" cy="400.21" r="2.08" fill="#4a4ad2" opacity="0.88"/><circle cx="332.95" cy="399.73" r="1.91" fill="#4a4ad2" opacity="0.85"/><circle cx="354.52" cy="386.95" r="1.71" fill="#4a4ad2" opacity="0.8"/><circle cx="345.39" cy="398.47" r="1.5" fill="#4a4ad2" opacity="0.81"/><circle cx="336.55" cy="391.29" r="1.79" fill="#4a4ad2" opacity="0.79"/><circle cx="328.55" cy="404.82" r="2.05" fill="#4a4ad2" opacity="0.71"/><circle cx="351.65" cy="407.04" r="1.9" fill="#4a4ad2" opacity="0.81"/><circle cx="344.89" cy="383.66" r="1.89" fill="#4a4ad2" opacity="0.66"/></g></g>
<text x="354.5" y="405.8" font-size="2.6" text-anchor="middle" fill="#e8e8e8">20μm</text>
<line x1="351.7" y1="406.4" x2="357.7" y2="406.4" stroke="#888" stroke-width="0.4"/>
<rect x="362.2" y="378.2" width="36" height="30.2" fill="#03030a"/>
<clipPath id="cp22"><rect x="362.2" y="378.2" width="36" height="30.2"/></clipPath>
<g clip-path="url(#cp22)"><g filter="url(#bli)"><circle cx="371.02" cy="394.28" r="1.92" fill="#4664d6" opacity="0.8"/><circle cx="364.78" cy="390.95" r="1.76" fill="#4664d6" opacity="0.84"/><circle cx="393.87" cy="406.29" r="1.72" fill="#4664d6" opacity="0.78"/><circle cx="394.52" cy="401.93" r="1.66" fill="#4664d6" opacity="0.82"/><circle cx="378.91" cy="381.89" r="1.99" fill="#4664d6" opacity="0.94"/><circle cx="386.04" cy="404.82" r="1.98" fill="#4664d6" opacity="0.92"/><circle cx="386.23" cy="400.21" r="1.84" fill="#4664d6" opacity="0.69"/><circle cx="365.91" cy="395.83" r="1.5" fill="#4664d6" opacity="0.89"/><circle cx="367.37" cy="401.43" r="1.53" fill="#4664d6" opacity="0.84"/><circle cx="365.5" cy="381.18" r="2.03" fill="#4664d6" opacity="0.67"/><circle cx="368.65" cy="378.9" r="2" fill="#4664d6" opacity="0.76"/><circle cx="396.49" cy="395.57" r="1.98" fill="#4664d6" opacity="0.72"/><circle cx="363.51" cy="401.22" r="1.81" fill="#4664d6" opacity="0.67"/><circle cx="387.95" cy="381.4" r="1.95" fill="#4664d6" opacity="0.81"/><circle cx="395.84" cy="380.03" r="1.69" fill="#4664d6" opacity="0.93"/><circle cx="382.5" cy="403.04" r="1.65" fill="#4664d6" opacity="0.75"/><circle cx="368.67" cy="385.7" r="1.87" fill="#4664d6" opacity="0.91"/><circle cx="389.33" cy="390.01" r="1.72" fill="#4664d6" opacity="0.86"/><circle cx="376.48" cy="388.71" r="1.75" fill="#4664d6" opacity="0.69"/><circle cx="397.23" cy="390.58" r="1.95" fill="#4664d6" opacity="0.91"/><circle cx="389.42" cy="398.42" r="1.81" fill="#4664d6" opacity="0.83"/><circle cx="379.61" cy="397.49" r="2.04" fill="#4664d6" opacity="0.93"/><circle cx="380.82" cy="391.49" r="1.93" fill="#4664d6" opacity="0.86"/><circle cx="373.53" cy="385.17" r="1.91" fill="#4664d6" opacity="0.87"/><circle cx="396.52" cy="387.08" r="1.92" fill="#4664d6" opacity="0.75"/><circle cx="377.08" cy="403.81" r="1.85" fill="#4664d6" opacity="0.89"/><circle cx="376.61" cy="400.21" r="2.08" fill="#4664d6" opacity="0.93"/><circle cx="370.65" cy="399.73" r="1.91" fill="#4664d6" opacity="0.91"/><circle cx="392.22" cy="386.95" r="1.71" fill="#4664d6" opacity="0.78"/><circle cx="383.09" cy="398.47" r="1.5" fill="#4664d6" opacity="0.88"/><circle cx="374.25" cy="391.29" r="1.79" fill="#4664d6" opacity="0.8"/><circle cx="366.25" cy="404.82" r="2.05" fill="#4664d6" opacity="0.68"/><circle cx="389.35" cy="407.04" r="1.9" fill="#4664d6" opacity="0.66"/><circle cx="382.59" cy="383.66" r="1.89" fill="#4664d6" opacity="0.67"/></g></g>
<text x="392.2" y="405.8" font-size="2.6" text-anchor="middle" fill="#e8e8e8">20μm</text>
<line x1="389.4" y1="406.4" x2="395.4" y2="406.4" stroke="#888" stroke-width="0.4"/>
<text x="283.6" y="424.5" font-size="6.6" text-anchor="end">dKO</text>
<rect x="287" y="409.8" width="36" height="30.2" fill="#03030a"/>
<clipPath id="cp30"><rect x="287" y="409.8" width="36" height="30.2"/></clipPath>
<g clip-path="url(#cp30)"><g filter="url(#bli)"><circle cx="294.21" cy="414.62" r="1.35" fill="#48d060" opacity="0.42"/><circle cx="312.17" cy="425.92" r="1.31" fill="#48d060" opacity="0.88"/><circle cx="310.37" cy="418.94" r="1.33" fill="#48d060" opacity="0.32"/><circle cx="319.38" cy="431.39" r="1.29" fill="#48d060" opacity="0.93"/><circle cx="300.36" cy="425.68" r="1.39" fill="#48d060" opacity="0.63"/><circle cx="295.06" cy="409.88" r="1.22" fill="#48d060" opacity="0.88"/><circle cx="315.19" cy="414.1" r="1.33" fill="#48d060" opacity="0.75"/><circle cx="293.15" cy="421.91" r="1.2" fill="#48d060" opacity="0.91"/><circle cx="287.99" cy="413.1" r="1.2" fill="#48d060" opacity="0.72"/><circle cx="304.65" cy="411.59" r="1.14" fill="#48d060" opacity="0.38"/><circle cx="303.13" cy="422.03" r="1.44" fill="#48d060" opacity="0.72"/><circle cx="288.84" cy="421.9" r="1.3" fill="#48d060" opacity="0.44"/><circle cx="287.96" cy="438.77" r="1.22" fill="#48d060" opacity="0.62"/><circle cx="292.93" cy="428.47" r="1.28" fill="#48d060" opacity="0.35"/><circle cx="291.46" cy="411.36" r="1.45" fill="#48d060" opacity="0.64"/><circle cx="296.9" cy="433.44" r="1.33" fill="#48d060" opacity="0.69"/><circle cx="320.59" cy="418.82" r="1.24" fill="#48d060" opacity="0.6"/><circle cx="321.89" cy="427.57" r="1.13" fill="#48d060" opacity="0.72"/><circle cx="288.94" cy="429.43" r="1.53" fill="#48d060" opacity="0.55"/><circle cx="315.93" cy="437.32" r="1.55" fill="#48d060" opacity="0.6"/><circle cx="308.85" cy="438.2" r="1.16" fill="#48d060" opacity="0.45"/><circle cx="299.03" cy="430.2" r="1.54" fill="#48d060" opacity="0.95"/><circle cx="293.29" cy="431.99" r="1.46" fill="#48d060" opacity="0.91"/><circle cx="304.3" cy="417.88" r="1.2" fill="#48d060" opacity="0.95"/><circle cx="312.59" cy="410.49" r="1.34" fill="#48d060" opacity="0.59"/><circle cx="308.08" cy="410.15" r="1.23" fill="#48d060" opacity="0.84"/><circle cx="307.25" cy="422.39" r="1.48" fill="#48d060" opacity="1"/></g></g>
<text x="317" y="437.4" font-size="2.6" text-anchor="middle" fill="#e8e8e8">20μm</text>
<line x1="314.2" y1="438" x2="320.2" y2="438" stroke="#888" stroke-width="0.4"/>
<rect x="324.5" y="409.8" width="36" height="30.2" fill="#03030a"/>
<clipPath id="cp31"><rect x="324.5" y="409.8" width="36" height="30.2"/></clipPath>
<g clip-path="url(#cp31)"><g filter="url(#bli)"><circle cx="331.71" cy="414.62" r="1.8" fill="#4a4ad2" opacity="0.74"/><circle cx="349.67" cy="425.92" r="1.75" fill="#4a4ad2" opacity="0.93"/><circle cx="347.87" cy="418.94" r="1.78" fill="#4a4ad2" opacity="0.71"/><circle cx="351.76" cy="421.84" r="1.61" fill="#4a4ad2" opacity="0.68"/><circle cx="356.88" cy="431.39" r="1.72" fill="#4a4ad2" opacity="0.87"/><circle cx="337.86" cy="425.68" r="1.86" fill="#4a4ad2" opacity="0.74"/><circle cx="332.56" cy="409.88" r="1.63" fill="#4a4ad2" opacity="0.81"/><circle cx="352.69" cy="414.1" r="1.78" fill="#4a4ad2" opacity="0.84"/><circle cx="330.65" cy="421.91" r="1.6" fill="#4a4ad2" opacity="0.66"/><circle cx="325.49" cy="413.1" r="1.6" fill="#4a4ad2" opacity="0.87"/><circle cx="342.15" cy="411.59" r="1.51" fill="#4a4ad2" opacity="0.73"/><circle cx="340.63" cy="422.03" r="1.92" fill="#4a4ad2" opacity="0.78"/><circle cx="326.34" cy="421.9" r="1.74" fill="#4a4ad2" opacity="0.75"/><circle cx="325.46" cy="438.77" r="1.63" fill="#4a4ad2" opacity="0.87"/><circle cx="330.43" cy="428.47" r="1.71" fill="#4a4ad2" opacity="0.87"/><circle cx="328.96" cy="411.36" r="1.94" fill="#4a4ad2" opacity="0.74"/><circle cx="334.4" cy="433.44" r="1.78" fill="#4a4ad2" opacity="0.68"/><circle cx="358.09" cy="418.82" r="1.65" fill="#4a4ad2" opacity="0.74"/><circle cx="359.39" cy="427.57" r="1.5" fill="#4a4ad2" opacity="0.77"/><circle cx="326.44" cy="429.43" r="2.04" fill="#4a4ad2" opacity="0.67"/><circle cx="331.72" cy="439.02" r="1.79" fill="#4a4ad2" opacity="0.7"/><circle cx="353.43" cy="437.32" r="2.06" fill="#4a4ad2" opacity="0.88"/><circle cx="346.35" cy="438.2" r="1.55" fill="#4a4ad2" opacity="0.86"/><circle cx="336.53" cy="430.2" r="2.06" fill="#4a4ad2" opacity="0.94"/><circle cx="330.79" cy="431.99" r="1.94" fill="#4a4ad2" opacity="0.94"/><circle cx="354.58" cy="426.4" r="2.05" fill="#4a4ad2" opacity="0.91"/><circle cx="341.8" cy="417.88" r="1.6" fill="#4a4ad2" opacity="0.76"/><circle cx="350.09" cy="410.49" r="1.78" fill="#4a4ad2" opacity="0.7"/><circle cx="351.8" cy="430.12" r="1.56" fill="#4a4ad2" opacity="0.74"/><circle cx="336.51" cy="420.9" r="1.54" fill="#4a4ad2" opacity="0.79"/><circle cx="338.88" cy="438.47" r="1.56" fill="#4a4ad2" opacity="0.81"/><circle cx="345.58" cy="410.15" r="1.64" fill="#4a4ad2" opacity="0.81"/><circle cx="344.75" cy="422.39" r="1.97" fill="#4a4ad2" opacity="0.76"/><circle cx="346.26" cy="433.46" r="1.82" fill="#4a4ad2" opacity="0.91"/></g></g>
<text x="354.5" y="437.4" font-size="2.6" text-anchor="middle" fill="#e8e8e8">20μm</text>
<line x1="351.7" y1="438" x2="357.7" y2="438" stroke="#888" stroke-width="0.4"/>
<rect x="362.2" y="409.8" width="36" height="30.2" fill="#03030a"/>
<clipPath id="cp32"><rect x="362.2" y="409.8" width="36" height="30.2"/></clipPath>
<g clip-path="url(#cp32)"><g filter="url(#bli)"><circle cx="369.41" cy="414.62" r="1.8" fill="#4898ea" opacity="0.74"/><circle cx="387.37" cy="425.92" r="1.75" fill="#4898ea" opacity="0.79"/><circle cx="385.57" cy="418.94" r="1.78" fill="#4898ea" opacity="0.92"/><circle cx="389.46" cy="421.84" r="1.61" fill="#4898ea" opacity="0.89"/><circle cx="394.58" cy="431.39" r="1.72" fill="#4898ea" opacity="0.74"/><circle cx="375.56" cy="425.68" r="1.86" fill="#4898ea" opacity="0.72"/><circle cx="370.26" cy="409.88" r="1.63" fill="#4898ea" opacity="0.89"/><circle cx="390.39" cy="414.1" r="1.78" fill="#4898ea" opacity="0.65"/><circle cx="368.35" cy="421.91" r="1.6" fill="#4898ea" opacity="0.69"/><circle cx="363.19" cy="413.1" r="1.6" fill="#4898ea" opacity="0.81"/><circle cx="379.85" cy="411.59" r="1.51" fill="#4898ea" opacity="0.81"/><circle cx="378.33" cy="422.03" r="1.92" fill="#4898ea" opacity="0.7"/><circle cx="364.04" cy="421.9" r="1.74" fill="#4898ea" opacity="0.67"/><circle cx="363.16" cy="438.77" r="1.63" fill="#4898ea" opacity="0.71"/><circle cx="368.13" cy="428.47" r="1.71" fill="#4898ea" opacity="0.88"/><circle cx="366.66" cy="411.36" r="1.94" fill="#4898ea" opacity="0.79"/><circle cx="372.1" cy="433.44" r="1.78" fill="#4898ea" opacity="0.94"/><circle cx="395.79" cy="418.82" r="1.65" fill="#4898ea" opacity="0.89"/><circle cx="397.09" cy="427.57" r="1.5" fill="#4898ea" opacity="0.94"/><circle cx="364.14" cy="429.43" r="2.04" fill="#4898ea" opacity="0.66"/><circle cx="369.42" cy="439.02" r="1.79" fill="#4898ea" opacity="0.71"/><circle cx="391.13" cy="437.32" r="2.06" fill="#4898ea" opacity="0.65"/><circle cx="384.05" cy="438.2" r="1.55" fill="#4898ea" opacity="0.78"/><circle cx="374.23" cy="430.2" r="2.06" fill="#4898ea" opacity="0.75"/><circle cx="368.49" cy="431.99" r="1.94" fill="#4898ea" opacity="0.67"/><circle cx="392.28" cy="426.4" r="2.05" fill="#4898ea" opacity="0.81"/><circle cx="379.5" cy="417.88" r="1.6" fill="#4898ea" opacity="0.68"/><circle cx="387.79" cy="410.49" r="1.78" fill="#4898ea" opacity="0.74"/><circle cx="389.5" cy="430.12" r="1.56" fill="#4898ea" opacity="0.72"/><circle cx="374.21" cy="420.9" r="1.54" fill="#4898ea" opacity="0.89"/><circle cx="376.58" cy="438.47" r="1.56" fill="#4898ea" opacity="0.78"/><circle cx="383.28" cy="410.15" r="1.64" fill="#4898ea" opacity="0.73"/><circle cx="382.45" cy="422.39" r="1.97" fill="#4898ea" opacity="0.66"/><circle cx="383.96" cy="433.46" r="1.82" fill="#4898ea" opacity="0.78"/></g></g>
<text x="392.2" y="437.4" font-size="2.6" text-anchor="middle" fill="#e8e8e8">20μm</text>
<line x1="389.4" y1="438" x2="395.4" y2="438" stroke="#888" stroke-width="0.4"/>
<text x="406.6" y="309.4" font-size="10.6" font-weight="bold" fill="#111" stroke="#111" stroke-width="0.35">J</text>
<line x1="441.2" y1="318.85" x2="441.2" y2="404.8" stroke="#1a1a1a" stroke-width="1.05"/>
<line x1="438.4" y1="404.2" x2="441.2" y2="404.2" stroke="#1a1a1a" stroke-width="0.9"/>
<text x="434.8" y="406.4" font-size="6.3" text-anchor="end" fill="#333">0</text>
<line x1="438.4" y1="376.55" x2="441.2" y2="376.55" stroke="#1a1a1a" stroke-width="0.9"/>
<text x="434.8" y="378.75" font-size="6.3" text-anchor="end" fill="#333">5</text>
<line x1="438.4" y1="348.9" x2="441.2" y2="348.9" stroke="#1a1a1a" stroke-width="0.9"/>
<text x="434.8" y="351.1" font-size="6.3" text-anchor="end" fill="#333">10</text>
<line x1="438.4" y1="321.25" x2="441.2" y2="321.25" stroke="#1a1a1a" stroke-width="0.9"/>
<text x="434.8" y="323.45" font-size="6.3" text-anchor="end" fill="#333">15</text>
<line x1="451.85" y1="377.38" x2="451.85" y2="385.4" stroke="#333" stroke-width="0.9"/>
<line x1="449.05" y1="377.38" x2="454.65" y2="377.38" stroke="#333" stroke-width="0.9"/>
<rect x="446.7" y="385.4" width="10.3" height="18.8" fill="#cc0a2f"/>
<line x1="468.25" y1="373.23" x2="468.25" y2="375.44" stroke="#333" stroke-width="0.9"/>
<line x1="465.45" y1="373.23" x2="471.05" y2="373.23" stroke="#333" stroke-width="0.9"/>
<rect x="463" y="375.44" width="10.5" height="28.76" fill="#1a4b8b"/>
<line x1="485.05" y1="383.19" x2="485.05" y2="388.72" stroke="#333" stroke-width="0.9"/>
<line x1="482.25" y1="383.19" x2="487.85" y2="383.19" stroke="#333" stroke-width="0.9"/>
<rect x="479.8" y="388.72" width="10.5" height="15.48" fill="#39a93a"/>
<line x1="501.55" y1="346.69" x2="501.55" y2="351.66" stroke="#333" stroke-width="0.9"/>
<line x1="498.75" y1="346.69" x2="504.35" y2="346.69" stroke="#333" stroke-width="0.9"/>
<rect x="496.5" y="351.66" width="10.1" height="52.54" fill="#161616"/>
<line x1="438.2" y1="404.2" x2="511.4" y2="404.2" stroke="#1a1a1a" stroke-width="1.2"/>
<line x1="451.85" y1="404.2" x2="451.85" y2="407.2" stroke="#333" stroke-width="0.9"/>
<line x1="468.25" y1="404.2" x2="468.25" y2="407.2" stroke="#333" stroke-width="0.9"/>
<line x1="485.05" y1="404.2" x2="485.05" y2="407.2" stroke="#333" stroke-width="0.9"/>
<line x1="501.55" y1="404.2" x2="501.55" y2="407.2" stroke="#333" stroke-width="0.9"/>
<line x1="451.3" y1="321.6" x2="501.6" y2="321.6" stroke="#555" stroke-width="0.8"/>
<line x1="451.3" y1="320.3" x2="451.3" y2="322.9" stroke="#555" stroke-width="0.8"/>
<line x1="501.6" y1="320.3" x2="501.6" y2="322.9" stroke="#555" stroke-width="0.8"/>
<text x="476.7" y="322.3" font-size="5.8" text-anchor="middle" font-weight="bold" letter-spacing="0.5">*</text>
<line x1="468.6" y1="328.5" x2="501.6" y2="328.5" stroke="#555" stroke-width="0.8"/>
<line x1="468.6" y1="327.2" x2="468.6" y2="329.8" stroke="#555" stroke-width="0.8"/>
<line x1="501.6" y1="327.2" x2="501.6" y2="329.8" stroke="#555" stroke-width="0.8"/>
<text x="485.35" y="329.2" font-size="5.8" text-anchor="middle" font-weight="bold" letter-spacing="0.5">*</text>
<line x1="451.3" y1="337.7" x2="466.5" y2="337.7" stroke="#555" stroke-width="0.8"/>
<line x1="451.3" y1="336.4" x2="451.3" y2="339" stroke="#555" stroke-width="0.8"/>
<line x1="466.5" y1="336.4" x2="466.5" y2="339" stroke="#555" stroke-width="0.8"/>
<text x="458.9" y="337.1" font-size="6.3" text-anchor="middle" fill="#333">NS</text>
<line x1="468.6" y1="337.7" x2="484.3" y2="337.7" stroke="#555" stroke-width="0.8"/>
<line x1="468.6" y1="336.4" x2="468.6" y2="339" stroke="#555" stroke-width="0.8"/>
<line x1="484.3" y1="336.4" x2="484.3" y2="339" stroke="#555" stroke-width="0.8"/>
<text x="476.45" y="337.1" font-size="6.3" text-anchor="middle" fill="#333">NS</text>
<line x1="486.6" y1="337.7" x2="501.6" y2="337.7" stroke="#555" stroke-width="0.8"/>
<line x1="486.6" y1="336.4" x2="486.6" y2="339" stroke="#555" stroke-width="0.8"/>
<line x1="501.6" y1="336.4" x2="501.6" y2="339" stroke="#555" stroke-width="0.8"/>
<text x="494.35" y="338.4" font-size="5.8" text-anchor="middle" font-weight="bold" letter-spacing="0.5">**</text>
<line x1="451.3" y1="348.6" x2="484.3" y2="348.6" stroke="#555" stroke-width="0.8"/>
<line x1="451.3" y1="347.3" x2="451.3" y2="349.9" stroke="#555" stroke-width="0.8"/>
<line x1="484.3" y1="347.3" x2="484.3" y2="349.9" stroke="#555" stroke-width="0.8"/>
<text x="467.8" y="348" font-size="6.3" text-anchor="middle" fill="#333">NS</text>
<text x="455" y="413.7" font-size="7" text-anchor="end" textLength="10.11" lengthAdjust="spacingAndGlyphs" transform="rotate(-45 455 413.7)">WT</text>
<text x="471.4" y="413.7" font-size="7" text-anchor="end" textLength="36.25" lengthAdjust="spacingAndGlyphs" transform="rotate(-45 471.4 413.7)">β-cateninKO</text>
<text x="488.2" y="413.7" font-size="7" text-anchor="end" textLength="28.18" lengthAdjust="spacingAndGlyphs" transform="rotate(-45 488.2 413.7)">Hoxa9KO</text>
<text x="504.7" y="413.7" font-size="7" text-anchor="end" textLength="13.01" lengthAdjust="spacingAndGlyphs" transform="rotate(-45 504.7 413.7)">dKO</text>
<text x="422.4" y="362.6" font-size="8.2" text-anchor="middle" fill="#333" textLength="71.6" lengthAdjust="spacingAndGlyphs" transform="rotate(-90 422.4 362.6)">% Cells ≥10 γH2AX foci</text>
<line x1="0.5" y1="0" x2="0.5" y2="447" stroke="#333" stroke-width="1"/>
<line x1="0" y1="0.5" x2="520" y2="0.5" stroke="#555" stroke-width="1"/>
<line x1="519.4" y1="0" x2="519.4" y2="447" stroke="#333" stroke-width="1.2"/>
<line x1="0" y1="446.4" x2="520" y2="446.4" stroke="#333" stroke-width="1.2"/>
</svg>
</body></html>
